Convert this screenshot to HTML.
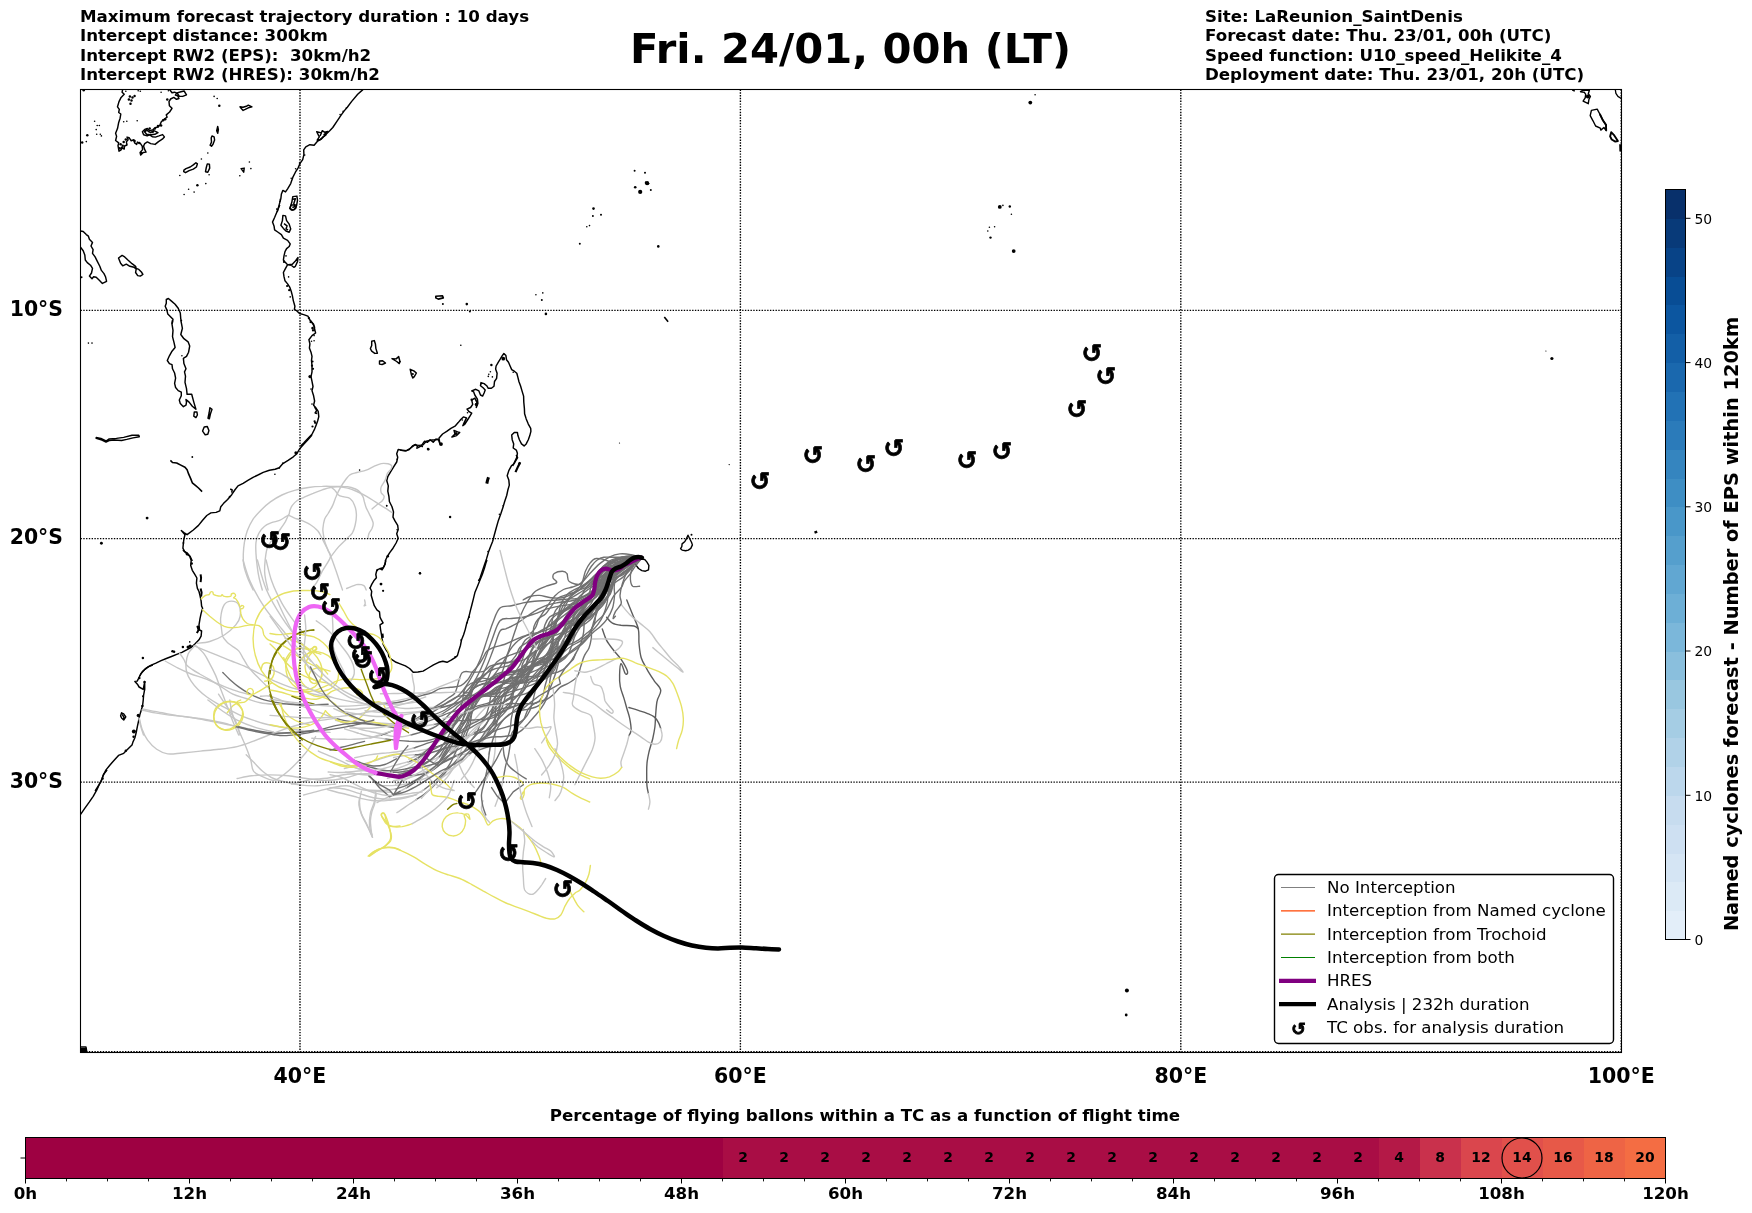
<!DOCTYPE html>
<html><head><meta charset="utf-8"><title>Trajectory forecast</title>
<style>html,body{margin:0;padding:0;background:#fff}svg{display:block;will-change:transform;transform:translateZ(0)}text{font-family:"DejaVu Sans", "Liberation Sans", sans-serif;fill:#000}.b{font-weight:bold}</style></head><body>
<svg width="1752" height="1213" viewBox="0 0 1752 1213">
<rect width="1752" height="1213" fill="#fff"/>
<text class="b" x="80" y="22.0" font-size="16.67" xml:space="preserve">Maximum forecast trajectory duration : 10 days</text>
<text class="b" x="80" y="41.3" font-size="16.67" xml:space="preserve">Intercept distance: 300km</text>
<text class="b" x="80" y="60.5" font-size="16.67" xml:space="preserve">Intercept RW2 (EPS):  30km/h2</text>
<text class="b" x="80" y="79.8" font-size="16.67" xml:space="preserve">Intercept RW2 (HRES): 30km/h2</text>
<text class="b" x="1205" y="22.0" font-size="16.67">Site: LaReunion_SaintDenis</text>
<text class="b" x="1205" y="41.3" font-size="16.67">Forecast date: Thu. 23/01, 00h (UTC)</text>
<text class="b" x="1205" y="60.5" font-size="16.67">Speed function: U10_speed_Helikite_4</text>
<text class="b" x="1205" y="79.8" font-size="16.67">Deployment date: Thu. 23/01, 20h (UTC)</text>
<text class="b" x="850.5" y="63" font-size="41.7" text-anchor="middle">Fri. 24/01, 00h (LT)</text>
<defs><clipPath id="mc"><rect x="80.5" y="89.5" width="1541.0" height="963.0"/></clipPath></defs>
<g clip-path="url(#mc)">
<g fill="none" stroke="#000" stroke-width="1.45" stroke-linejoin="round">
<path d="M122.7 89.3 L122.1 92.2 L124.2 94.3 L121.1 97.4 L119.0 101.6 L117.5 106.8 L119.3 109.4 L118.7 112.5 L120.8 114.0 L120.1 118.2 L118.7 122.4 L117.5 128.6 L115.6 133.3 L116.6 136.4 L115.6 140.5 L118.7 142.9 L118.0 145.7 L119.0 151.2 L121.1 149.9 L121.8 147.3 L124.2 149.1 L124.5 146.0 L127.0 145.0 L126.4 141.9 L128.1 139.8 L127.0 137.1 L129.1 137.7 L131.2 140.8 L133.9 139.8 L134.6 142.9 L136.7 144.4 L137.4 142.1 L140.5 143.7 L142.2 146.2 L142.6 149.6 L140.1 152.5 L140.7 155.1 L143.2 152.5 L146.0 152.1 L144.5 149.1 L143.6 146.0 L144.7 143.6 L147.4 141.9 L150.7 143.6 L155.1 144.4 L158.5 141.6 L162.3 139.2 L164.4 136.9 L162.6 134.6 L159.0 135.9 L155.4 137.1 L152.3 136.7 L149.7 134.8 L147.1 135.9 L143.6 134.8 L142.4 131.7 L144.7 129.4 L147.4 128.4 L149.7 130.9 L153.0 129.6 L155.7 127.5 L158.2 127.0 L160.1 124.6 L161.3 121.8 L164.4 119.0 L167.1 117.2 L166.3 114.9 L169.6 112.0 L172.0 108.3 L169.4 105.7 L169.0 101.6 L170.6 99.0 L173.8 97.4 L176.5 99.3 L179.0 98.5 L177.7 95.9 L175.4 95.1 L176.9 92.9 L181.0 91.7 L184.1 91.0 L186.5 94.8 L182.7 96.4 L179.3 96.2 L177.2 93.3 L174.6 92.2 L172.0 92.8 L169.4 89.3"/>
<path d="M240.0 106.8 L243.1 107.3 L246.3 106.3 L248.3 105.2 L252.0 106.8 L248.3 107.8 L245.2 109.4 L243.1 110.4 L241.1 108.3Z"/>
<path d="M217.7 126.5 L218.4 129.6 L217.7 133.3 L216.7 130.7Z"/>
<path d="M212.0 135.9 L214.1 136.9 L214.6 140.0 L213.0 144.2 L211.5 146.2 L210.1 145.2 L211.5 142.1 L211.2 137.9Z"/>
<path d="M183.9 170.1 L186.0 168.6 L190.2 167.0 L193.3 164.9 L195.9 162.7 L197.4 163.9 L196.4 167.0 L193.3 169.1 L189.1 170.6 L185.5 172.7 L183.7 171.7Z"/>
<path d="M207.3 163.9 L209.4 164.1 L209.7 168.1 L207.8 172.2 L205.5 171.7 L206.3 167.5Z"/>
<path d="M241.1 168.6 L244.2 168.1 L243.7 172.2Z"/>
<path d="M144.5 131.7 L146.6 129.6 L148.6 131.7 L150.7 132.7 L153.8 130.7 L155.9 131.7 L158.0 132.7 L154.9 134.3 L150.7 134.8 L146.6 134.3Z"/>
<circle cx="214.1" cy="96.4" r="0.81" fill="#000" stroke="none"/>
<circle cx="217.2" cy="98.5" r="0.81" fill="#000" stroke="none"/>
<circle cx="207.8" cy="153.0" r="0.81" fill="#000" stroke="none"/>
<circle cx="201.4" cy="159.0" r="0.81" fill="#000" stroke="none"/>
<circle cx="179.8" cy="175.5" r="0.81" fill="#000" stroke="none"/>
<circle cx="209.1" cy="174.8" r="0.81" fill="#000" stroke="none"/>
<circle cx="205.8" cy="183.6" r="0.81" fill="#000" stroke="none"/>
<circle cx="188.6" cy="189.3" r="0.81" fill="#000" stroke="none"/>
<circle cx="194.1" cy="192.1" r="0.81" fill="#000" stroke="none"/>
<circle cx="184.1" cy="194.5" r="0.81" fill="#000" stroke="none"/>
<circle cx="249.4" cy="162.0" r="0.81" fill="#000" stroke="none"/>
<circle cx="250.9" cy="168.6" r="0.81" fill="#000" stroke="none"/>
<circle cx="239.8" cy="175.8" r="0.81" fill="#000" stroke="none"/>
<circle cx="94.6" cy="121.3" r="0.81" fill="#000" stroke="none"/>
<circle cx="97.2" cy="125.5" r="0.81" fill="#000" stroke="none"/>
<circle cx="99.3" cy="125.5" r="0.81" fill="#000" stroke="none"/>
<circle cx="96.2" cy="129.6" r="0.81" fill="#000" stroke="none"/>
<circle cx="96.7" cy="134.3" r="0.81" fill="#000" stroke="none"/>
<circle cx="100.3" cy="134.3" r="0.81" fill="#000" stroke="none"/>
<circle cx="101.4" cy="135.9" r="0.81" fill="#000" stroke="none"/>
<circle cx="86.3" cy="141.6" r="0.81" fill="#000" stroke="none"/>
<circle cx="137.2" cy="120.8" r="0.81" fill="#000" stroke="none"/>
<circle cx="126.8" cy="121.3" r="0.81" fill="#000" stroke="none"/>
<circle cx="123.7" cy="121.8" r="0.81" fill="#000" stroke="none"/>
<circle cx="161.1" cy="92.2" r="0.81" fill="#000" stroke="none"/>
<circle cx="168.4" cy="90.7" r="0.81" fill="#000" stroke="none"/>
<circle cx="140.3" cy="91.2" r="0.81" fill="#000" stroke="none"/>
<circle cx="138.2" cy="90.7" r="0.81" fill="#000" stroke="none"/>
<circle cx="125.8" cy="91.2" r="0.81" fill="#000" stroke="none"/>
<circle cx="219.3" cy="105.7" r="1.24" fill="#000" stroke="none"/>
<circle cx="197.4" cy="185.2" r="1.24" fill="#000" stroke="none"/>
<circle cx="87.3" cy="135.3" r="1.24" fill="#000" stroke="none"/>
<circle cx="82.2" cy="142.6" r="1.24" fill="#000" stroke="none"/>
<circle cx="83.7" cy="90.2" r="1.24" fill="#000" stroke="none"/>
<circle cx="167.3" cy="99.5" r="1.24" fill="#000" stroke="none"/>
<circle cx="129.9" cy="96.4" r="1.24" fill="#000" stroke="none"/>
<circle cx="132.5" cy="97.4" r="1.24" fill="#000" stroke="none"/>
<circle cx="134.6" cy="95.9" r="1.24" fill="#000" stroke="none"/>
<circle cx="128.9" cy="99.5" r="1.24" fill="#000" stroke="none"/>
<circle cx="130.5" cy="103.7" r="1.24" fill="#000" stroke="none"/>
<circle cx="131.5" cy="100.5" r="1.24" fill="#000" stroke="none"/>
<circle cx="122.7" cy="145.7" r="1.24" fill="#000" stroke="none"/>
<circle cx="120.6" cy="144.2" r="1.24" fill="#000" stroke="none"/>
<circle cx="123.7" cy="142.1" r="1.24" fill="#000" stroke="none"/>
<circle cx="121.6" cy="148.3" r="1.24" fill="#000" stroke="none"/>
<circle cx="119.5" cy="148.3" r="1.24" fill="#000" stroke="none"/>
<circle cx="125.8" cy="139.5" r="1.24" fill="#000" stroke="none"/>
<circle cx="134.6" cy="141.0" r="1.24" fill="#000" stroke="none"/>
<circle cx="139.3" cy="143.1" r="1.24" fill="#000" stroke="none"/>
<circle cx="141.4" cy="153.0" r="1.24" fill="#000" stroke="none"/>
<circle cx="145.5" cy="130.7" r="1.24" fill="#000" stroke="none"/>
<circle cx="149.7" cy="128.6" r="1.24" fill="#000" stroke="none"/>
<circle cx="154.9" cy="128.6" r="1.24" fill="#000" stroke="none"/>
<circle cx="152.8" cy="131.7" r="1.24" fill="#000" stroke="none"/>
<circle cx="163.2" cy="120.3" r="1.24" fill="#000" stroke="none"/>
<circle cx="165.2" cy="119.2" r="1.24" fill="#000" stroke="none"/>
<circle cx="161.1" cy="125.5" r="1.24" fill="#000" stroke="none"/>
<circle cx="158.0" cy="126.0" r="1.24" fill="#000" stroke="none"/>
<path d="M362.9 89.6 L357.7 94.3 L351.5 101.6 L347.3 107.3 L344.2 110.9 L341.1 115.1 L336.9 121.3 L332.8 127.5 L329.7 130.7 L325.5 134.8 L321.4 139.0 L317.7 141.0 L314.1 145.2 L309.9 144.7 L305.8 146.8 L303.7 149.9 L303.9 154.6 L302.7 159.7 L300.1 163.4 L298.0 168.1 L295.4 172.2 L292.8 177.4 L290.7 183.6 L287.6 188.8 L285.5 191.9 L282.9 190.4 L281.4 194.0 L280.9 198.2 L279.3 204.4 L277.2 212.0"/>
<path d="M316.7 131.7 L321.4 132.9 L320.3 135.6 L322.2 130.7 L324.5 132.2 L327.8 131.5 L324.0 134.6 L326.0 134.8 L322.4 137.4 L320.3 139.5 L317.2 140.2 L319.3 136.9Z"/>
<path d="M292.8 196.6 L296.9 196.1 L297.5 200.3 L296.6 205.4 L294.4 209.6 L291.2 210.1 L290.2 207.5 L291.8 202.3Z"/>
<path d="M292.8 199.2 L295.4 198.7 L293.8 203.4 L294.9 206.5 L292.3 207.5"/>
<circle cx="340.1" cy="114.6" r="0.81" fill="#000" stroke="none"/>
<circle cx="343.2" cy="111.4" r="0.81" fill="#000" stroke="none"/>
<circle cx="346.3" cy="108.0" r="0.81" fill="#000" stroke="none"/>
<circle cx="304.7" cy="155.1" r="0.81" fill="#000" stroke="none"/>
<circle cx="299.5" cy="163.1" r="0.81" fill="#000" stroke="none"/>
<circle cx="295.6" cy="168.8" r="0.81" fill="#000" stroke="none"/>
<circle cx="291.2" cy="178.2" r="0.81" fill="#000" stroke="none"/>
<circle cx="280.3" cy="199.2" r="0.81" fill="#000" stroke="none"/>
<circle cx="279.8" cy="201.3" r="0.81" fill="#000" stroke="none"/>
<circle cx="276.7" cy="209.1" r="0.81" fill="#000" stroke="none"/>
<path d="M80.5 231.0 L83.2 231.5 L86.3 234.6 L88.4 236.2 L89.4 239.3 L92.5 242.4 L91.0 246.0 L93.1 249.7 L92.5 253.3 L95.1 256.9 L97.2 261.1 L99.8 266.3 L101.4 270.4 L104.0 273.6 L105.5 276.7 L106.6 281.3 L102.4 283.4 L99.3 280.3 L96.2 277.2 L93.6 276.7 L92.0 278.7 L89.4 276.1 L91.5 273.0 L92.5 268.4 L90.5 265.2 L87.3 262.6 L85.3 260.0 L84.8 254.9 L83.2 250.7 L80.5 247.1"/>
<path d="M118.5 258.0 L122.1 255.4 L124.7 256.9 L127.9 260.0 L132.0 263.7 L135.6 266.3 L136.2 268.4 L138.8 269.4 L141.4 272.0 L142.9 274.4 L140.3 276.1 L137.7 275.6 L135.6 272.5 L136.2 268.9 L134.1 267.3 L129.9 266.3 L126.3 264.2 L122.7 265.8 L120.6 263.2Z"/>
<path d="M173.0 321.3 L172.0 323.4 L173.0 319.3 L171.0 317.2 L167.8 314.1 L166.8 309.9 L165.2 306.3 L166.3 303.2 L166.3 299.5 L168.4 298.5 L171.5 301.1 L175.1 304.2 L178.2 308.3 L180.3 313.0 L180.8 319.3 L181.7 321.3"/>
<circle cx="81.6" cy="277.2" r="0.93" fill="#000" stroke="none"/>
<path d="M172.5 320.0 L172.0 324.2 L173.0 330.4 L172.5 336.6 L174.1 342.9 L175.1 347.5 L172.0 351.2 L169.4 355.8 L167.3 360.5 L169.4 363.6 L172.0 364.7 L172.5 368.8 L174.6 373.0 L175.6 378.2 L174.6 383.4 L175.6 387.5 L178.2 390.6 L181.3 392.2 L181.3 395.8 L179.3 400.0 L180.3 403.6 L183.4 406.7 L186.0 405.2 L186.5 402.1 L186.0 399.5 L189.1 402.1 L192.3 406.2 L195.9 409.3 L193.8 402.1 L191.7 394.3 L187.1 394.3 L186.5 388.6 L185.0 382.3 L185.5 376.1 L184.5 371.9 L186.0 368.8 L183.9 363.6 L183.4 358.4 L186.5 356.4 L188.6 352.2 L189.7 346.0 L188.1 341.8 L183.9 338.7 L180.8 334.5 L182.4 328.3 L180.8 320.0"/>
<path d="M194.3 411.9 L196.9 411.9 L197.4 415.0 L195.9 417.6 L193.8 416.1Z"/>
<path d="M209.9 407.8 L212.0 409.3 L210.4 414.0 L209.4 418.7 L208.0 418.2 L209.1 413.0Z"/>
<path d="M204.2 427.0 L207.3 426.5 L208.9 430.6 L207.8 434.3 L205.2 434.8 L202.6 431.1Z"/>
<path d="M96.2 437.4 L100.9 438.4 L106.0 441.0 L109.2 438.9 L116.4 438.4 L123.7 437.4 L132.0 435.3 L138.8 435.3 L139.3 436.8 L133.0 437.9 L126.8 439.4 L121.6 440.5 L114.4 440.0 L109.2 440.5 L106.0 442.0 L101.9 440.0 L96.2 438.4Z"/>
<circle cx="88.4" cy="343.1" r="0.8" fill="#000" stroke="none"/>
<circle cx="92.0" cy="343.1" r="0.8" fill="#000" stroke="none"/>
<circle cx="181.9" cy="355.8" r="0.8" fill="#000" stroke="none"/>
<path d="M279.8 205.0 L277.2 211.2 L274.6 217.5 L272.5 222.1 L274.1 226.3 L274.6 229.9 L277.7 232.0 L281.4 234.6 L283.4 238.2 L287.6 240.3 L290.2 243.9 L289.2 246.5 L286.6 248.6 L285.0 251.7 L284.0 255.9 L283.4 260.0 L285.5 262.6 L287.6 264.7 L285.0 269.4 L283.4 272.5 L284.0 276.7 L285.0 280.8 L287.6 283.9 L289.7 287.1 L291.2 291.2 L292.3 295.4 L293.3 300.6 L294.9 306.3 L294.4 309.4 L296.9 310.9 L299.5 313.5 L303.7 314.6 L307.9 316.1 L309.9 319.8 L312.5 323.4 L314.6 327.0 L314.1 331.0"/>
<path d="M282.9 215.4 L285.5 215.9 L286.6 220.6 L289.2 224.2 L290.7 228.9 L289.2 232.2 L286.0 231.0 L283.4 228.4 L280.9 225.3 L282.4 220.6Z"/>
<path d="M284.0 223.7 L287.1 225.8 L286.0 228.9 L288.1 229.9"/>
<path d="M291.2 205.0 L296.4 205.0 L295.9 208.1 L292.8 210.2 L289.7 208.6Z"/>
<path d="M288.1 264.7 L292.3 264.2 L294.9 261.6 L298.0 257.5 L297.5 261.6 L295.4 266.3 L293.8 267.3 L291.2 265.2Z"/>
<circle cx="288.6" cy="276.9" r="0.8" fill="#000" stroke="none"/>
<circle cx="286.0" cy="255.9" r="0.8" fill="#000" stroke="none"/>
<circle cx="290.2" cy="296.9" r="0.8" fill="#000" stroke="none"/>
<circle cx="284.0" cy="261.9" r="1.12" fill="#000" stroke="none"/>
<circle cx="287.1" cy="286.0" r="1.12" fill="#000" stroke="none"/>
<circle cx="289.2" cy="290.2" r="1.12" fill="#000" stroke="none"/>
<circle cx="312.5" cy="328.6" r="1.12" fill="#000" stroke="none"/>
<circle cx="308.9" cy="318.2" r="1.12" fill="#000" stroke="none"/>
<path d="M309.9 320.0 L313.6 324.2 L314.6 329.3 L315.6 333.0 L312.0 335.6 L308.9 339.7 L309.9 343.9 L309.4 348.0 L311.0 352.2 L312.0 356.4 L311.5 360.5 L312.0 365.7 L312.0 371.9 L311.0 376.6 L312.0 381.3 L313.0 386.5 L312.0 390.6 L313.6 395.8 L314.6 401.0 L313.6 405.2 L316.2 408.3 L318.2 411.4 L318.8 416.6 L317.7 420.7 L316.2 424.9 L314.6 429.1 L312.0 434.3 L307.9 438.4 L303.7 443.1 L300.6 446.0"/>
<path d="M371.7 341.3 L374.3 340.6 L375.4 343.9 L375.9 348.6 L377.4 353.2 L374.8 353.4 L371.7 351.2 L370.4 348.6 L371.7 345.4Z"/>
<path d="M379.5 361.0 L382.6 360.7 L385.5 363.1 L382.1 364.5 L379.5 364.1Z"/>
<path d="M392.0 358.6 L396.1 358.9 L398.7 356.6 L399.8 361.0 L399.3 363.6 L396.7 361.5Z"/>
<path d="M410.2 369.3 L413.8 370.9 L416.4 373.0 L414.3 376.6 L412.8 378.0 L411.5 375.0Z"/>
<path d="M314.6 407.2 L316.7 410.4 L315.1 413.0 L317.2 413.5"/>
<circle cx="314.1" cy="340.8" r="0.8" fill="#000" stroke="none"/>
<circle cx="311.5" cy="341.3" r="0.8" fill="#000" stroke="none"/>
<circle cx="314.1" cy="335.6" r="0.8" fill="#000" stroke="none"/>
<circle cx="311.0" cy="389.1" r="0.8" fill="#000" stroke="none"/>
<circle cx="312.0" cy="404.1" r="0.8" fill="#000" stroke="none"/>
<circle cx="310.5" cy="322.1" r="1.12" fill="#000" stroke="none"/>
<circle cx="312.5" cy="327.8" r="1.12" fill="#000" stroke="none"/>
<circle cx="313.0" cy="330.4" r="1.12" fill="#000" stroke="none"/>
<circle cx="312.5" cy="361.5" r="1.12" fill="#000" stroke="none"/>
<circle cx="312.0" cy="365.7" r="1.12" fill="#000" stroke="none"/>
<circle cx="313.0" cy="368.8" r="1.12" fill="#000" stroke="none"/>
<circle cx="314.6" cy="421.3" r="1.12" fill="#000" stroke="none"/>
<circle cx="312.5" cy="426.5" r="1.12" fill="#000" stroke="none"/>
<circle cx="315.1" cy="422.8" r="1.12" fill="#000" stroke="none"/>
<circle cx="412.8" cy="374.0" r="1.12" fill="#000" stroke="none"/>
<circle cx="309.9" cy="376.6" r="1.55" fill="#000" stroke="none"/>
<path d="M170.4 460.4 L172.5 462.5 L176.7 463.0 L180.8 465.1 L185.0 467.2 L187.1 469.8 L188.6 473.9 L190.7 478.6 L192.3 482.8 L195.4 485.4 L198.5 488.0 L202.1 491.6" stroke-width="1.6"/>
<path d="M258.0 475.0 L253.5 477.1 L248.3 480.2 L243.1 483.3 L238.0 485.9 L234.8 490.0 L231.7 494.7 L227.6 499.4 L223.4 503.6 L220.8 506.7 L219.8 510.8 L216.1 512.4 L210.9 512.9 L206.8 515.5 L202.6 520.2 L198.5 525.4 L193.3 530.0 L187.1 534.7 L183.9 532.6 L181.3 530.6 L185.0 534.7 L183.9 538.9 L183.4 543.0 L182.9 548.2 L184.5 551.3 L187.6 553.4 L190.2 556.5 L192.3 561.0"/>
<path d="M230.2 489.0 L232.2 490.0 L231.7 492.6"/>
<circle cx="192.3" cy="457.0" r="0.93" fill="#000" stroke="none"/>
<circle cx="229.6" cy="496.8" r="0.93" fill="#000" stroke="none"/>
<circle cx="183.4" cy="543.0" r="0.93" fill="#000" stroke="none"/>
<circle cx="187.1" cy="553.4" r="0.93" fill="#000" stroke="none"/>
<circle cx="147.1" cy="518.1" r="1.43" fill="#000" stroke="none"/>
<circle cx="101.4" cy="543.2" r="1.43" fill="#000" stroke="none"/>
<path d="M258.0 475.0 L263.2 472.4 L269.4 470.3 L275.1 469.3 L279.3 467.7 L282.9 463.6 L288.1 460.4 L293.3 456.8 L296.9 453.7 L299.5 449.0 L303.7 444.3 L307.9 439.7 L312.0 435.0"/>
<path d="M438.0 439.2 L434.6 439.7 L430.4 440.2 L426.3 441.2 L423.1 444.9 L419.0 445.4 L414.8 444.9 L410.7 448.0 L406.5 450.6 L402.4 450.1 L398.2 449.5 L396.7 453.7 L397.7 457.3 L396.7 462.0 L394.1 466.2 L390.9 471.4 L387.8 476.5 L386.8 480.7 L388.3 485.9 L387.8 491.1 L388.9 496.3 L389.4 501.5 L392.0 506.7 L393.5 511.9 L393.0 517.1 L395.1 521.2 L397.7 525.4 L398.2 529.5 L396.7 533.7 L398.2 538.3 L396.1 543.0 L393.0 548.2 L389.9 552.4 L387.3 556.5 L385.2 561.0"/>
<circle cx="274.9" cy="474.3" r="0.81" fill="#000" stroke="none"/>
<circle cx="282.9" cy="463.0" r="0.81" fill="#000" stroke="none"/>
<circle cx="279.3" cy="468.0" r="0.81" fill="#000" stroke="none"/>
<circle cx="359.6" cy="470.1" r="0.81" fill="#000" stroke="none"/>
<circle cx="416.9" cy="448.0" r="0.81" fill="#000" stroke="none"/>
<circle cx="422.1" cy="446.4" r="0.81" fill="#000" stroke="none"/>
<circle cx="386.6" cy="505.6" r="0.81" fill="#000" stroke="none"/>
<circle cx="387.6" cy="556.3" r="0.81" fill="#000" stroke="none"/>
<circle cx="428.3" cy="449.3" r="1.24" fill="#000" stroke="none"/>
<circle cx="295.9" cy="452.7" r="1.55" fill="#000" stroke="none"/>
<path d="M182.9 550.0 L186.0 553.1 L189.7 556.2 L191.2 560.4 L190.7 565.6 L192.3 570.3 L194.8 574.4 L196.9 578.0 L196.4 583.2 L197.4 588.4 L199.0 591.5 L200.0 595.7 L201.1 600.9 L201.6 606.1 L202.6 608.2 L201.1 613.4 L200.0 618.6 L199.0 624.8 L199.5 630.0 L201.6 631.0 L201.1 636.2 L199.0 639.8 L195.4 643.5 L191.7 647.1 L187.1 649.7 L181.9 652.3 L176.7 654.4 L171.5 656.5 L166.3 658.5 L161.1 660.6 L155.9 663.2 L150.7 665.3 L146.6 667.9 L142.4 671.5 L139.8 676.0"/>
<path d="M200.6 574.4 L201.1 578.0 L200.6 582.2" stroke-width="2"/>
<path d="M200.6 588.4 L201.6 592.6 L201.1 596.7" stroke-width="2"/>
<path d="M197.4 625.8 L198.5 630.0 L196.9 633.1" stroke-width="2"/>
<circle cx="187.1" cy="554.2" r="1.24" fill="#000" stroke="none"/>
<circle cx="191.7" cy="563.5" r="1.24" fill="#000" stroke="none"/>
<circle cx="198.0" cy="626.9" r="1.24" fill="#000" stroke="none"/>
<circle cx="172.5" cy="651.3" r="1.24" fill="#000" stroke="none"/>
<circle cx="174.1" cy="651.8" r="1.24" fill="#000" stroke="none"/>
<circle cx="142.9" cy="658.0" r="1.24" fill="#000" stroke="none"/>
<circle cx="182.9" cy="647.1" r="1.24" fill="#000" stroke="none"/>
<circle cx="190.2" cy="646.1" r="1.61" fill="#000" stroke="none"/>
<circle cx="188.1" cy="647.1" r="1.61" fill="#000" stroke="none"/>
<circle cx="189.7" cy="641.9" r="0.8" fill="#000" stroke="none"/>
<path d="M152.8 665.0 L148.6 666.6 L144.5 669.7 L140.8 673.8 L138.8 678.0 L137.2 681.1 L134.9 681.4 L137.4 684.2 L139.1 687.0 L143.2 689.4 L144.0 685.3 L144.7 681.6 L144.7 689.4 L143.6 695.1 L143.2 700.3 L142.6 705.5 L141.4 709.7 L139.8 714.9 L138.8 720.0 L137.4 726.3 L136.2 732.5 L134.9 737.7 L133.0 741.9 L132.0 745.0 L127.9 749.1 L123.7 753.3 L118.5 755.4 L114.4 760.0 L110.2 764.7 L106.0 769.9 L102.9 776.1 L101.4 780.8 L98.3 786.0 L95.1 791.0"/>
<path d="M121.6 712.8 L123.7 713.8 L125.8 716.9 L123.7 720.0 L121.6 718.0 L120.6 715.9Z"/>
<path d="M122.1 714.3 L124.2 717.5 L123.2 719.0"/>
<circle cx="139.3" cy="678.0" r="1.24" fill="#000" stroke="none"/>
<circle cx="144.5" cy="682.1" r="1.24" fill="#000" stroke="none"/>
<circle cx="142.4" cy="706.0" r="1.24" fill="#000" stroke="none"/>
<circle cx="133.6" cy="736.7" r="1.24" fill="#000" stroke="none"/>
<circle cx="125.8" cy="750.7" r="1.24" fill="#000" stroke="none"/>
<circle cx="142.9" cy="696.2" r="0.93" fill="#000" stroke="none"/>
<circle cx="102.7" cy="778.2" r="0.93" fill="#000" stroke="none"/>
<circle cx="138.2" cy="715.4" r="1.55" fill="#000" stroke="none"/>
<circle cx="133.9" cy="731.5" r="2.05" fill="#000" stroke="none"/>
<path d="M107.1 770.0 L103.6 774.2 L101.9 779.0 L99.5 783.9 L96.7 790.1 L93.2 796.3 L89.4 801.9 L84.9 808.1 L80.6 814.3"/>
<circle cx="102.9" cy="778.9" r="0.81" fill="#000" stroke="none"/>
<path d="M400.0 450.1 L405.2 451.1 L409.3 449.6 L412.5 445.9 L415.6 444.4 L418.2 447.5 L421.3 445.9 L424.4 441.3 L427.5 442.3 L430.1 439.7 L433.2 442.3 L435.8 439.2 L438.4 439.7 L440.0 443.9 L438.9 438.2 L442.6 434.0 L446.7 431.4 L450.9 428.3 L455.0 426.2 L458.2 422.6 L460.8 419.5 L463.4 416.9 L466.5 417.9 L464.4 422.1 L462.8 425.7 L464.9 424.1 L467.5 420.0 L470.1 415.8 L471.7 413.2 L469.1 411.7 L467.0 409.1 L470.6 407.5 L472.7 404.4 L471.7 400.2 L474.8 398.2 L476.9 402.3 L476.3 407.5 L477.9 403.4 L477.4 399.2 L474.8 395.0 L473.7 391.9 L471.7 390.9 L475.8 389.3 L478.9 390.9 L480.5 395.0 L482.6 396.1 L484.1 393.0 L485.2 389.9 L483.1 387.8 L480.5 385.7 L481.0 382.6 L484.1 383.6 L486.7 385.7 L488.3 388.3 L491.4 388.3 L494.0 386.2 L494.5 381.5 L496.6 378.4 L497.1 373.2 L495.6 369.1 L496.1 366.0 L498.2 362.3 L500.2 359.2 L502.3 355.6 L503.9 353.5 L505.9 355.6 L506.5 359.7 L508.5 362.3 L510.1 366.0 L511.7 369.6 L514.3 371.2 L516.8 373.2 L517.9 377.4 L518.9 381.5 L520.5 385.7 L522.0 390.9 L523.6 396.1 L523.8 402.3 L524.4 408.6 L524.6 413.7 L526.2 418.9 L528.3 424.1 L530.7 428.3 L530.9 431.4 L529.8 435.6 L528.3 439.7 L526.2 443.9 L524.1 445.9 L521.5 443.9 L519.4 439.7 L517.9 435.6 L517.4 432.4 L514.3 432.4 L511.7 435.0 L512.2 439.7 L513.7 443.9 L513.2 448.0 L516.3 450.1 L517.4 453.2 L516.8 457.4 L514.8 461.5 L512.7 466.0"/>
<path d="M451.9 437.1 L455.0 434.0 L454.0 430.4 L457.6 431.9 L459.7 432.4 L456.6 435.6Z"/>
<circle cx="503.3" cy="358.7" r="1.86" fill="#000" stroke="none"/>
<circle cx="441.0" cy="444.1" r="1.86" fill="#000" stroke="none"/>
<circle cx="476.3" cy="404.4" r="1.55" fill="#000" stroke="none"/>
<circle cx="456.1" cy="433.5" r="1.55" fill="#000" stroke="none"/>
<circle cx="491.4" cy="364.9" r="1.24" fill="#000" stroke="none"/>
<circle cx="471.7" cy="399.7" r="1.24" fill="#000" stroke="none"/>
<circle cx="428.0" cy="449.1" r="1.24" fill="#000" stroke="none"/>
<circle cx="519.4" cy="463.6" r="1.24" fill="#000" stroke="none"/>
<circle cx="490.4" cy="371.7" r="0.81" fill="#000" stroke="none"/>
<circle cx="488.8" cy="374.3" r="0.81" fill="#000" stroke="none"/>
<circle cx="488.3" cy="376.4" r="0.81" fill="#000" stroke="none"/>
<circle cx="492.4" cy="376.9" r="0.81" fill="#000" stroke="none"/>
<circle cx="481.5" cy="383.6" r="0.81" fill="#000" stroke="none"/>
<circle cx="467.5" cy="412.7" r="0.81" fill="#000" stroke="none"/>
<circle cx="462.3" cy="420.0" r="0.81" fill="#000" stroke="none"/>
<circle cx="417.1" cy="448.0" r="0.81" fill="#000" stroke="none"/>
<circle cx="422.3" cy="446.5" r="0.81" fill="#000" stroke="none"/>
<circle cx="513.2" cy="372.2" r="0.81" fill="#000" stroke="none"/>
<circle cx="460.8" cy="345.2" r="0.81" fill="#000" stroke="none"/>
<circle cx="400.2" cy="361.8" r="0.81" fill="#000" stroke="none"/>
<path d="M385.7 560.9 L384.2 566.1 L382.1 569.8 L380.0 568.7"/>
<path d="M516.1 455.0 L517.6 457.6 L515.5 461.2 L514.0 463.8 L511.4 465.9 L508.8 470.6 L507.2 475.8 L508.8 479.9 L509.3 485.1 L507.8 490.3 L506.7 495.5 L504.6 501.7 L503.1 506.9 L501.0 513.2 L498.4 520.4 L496.3 527.7 L494.3 535.0 L492.7 541.2 L490.6 546.4 L488.5 552.1 L486.5 558.9 L484.4 565.1 L482.3 571.3 L480.2 577.6 L478.7 581.0"/>
<path d="M520.2 462.3 L518.1 466.4 L515.5 472.1" stroke-width="2.2"/>
<path d="M488.5 477.3 L487.5 480.4 L486.8 483.6" stroke-width="3"/>
<circle cx="450.1" cy="517.1" r="1.24" fill="#000" stroke="none"/>
<circle cx="420.0" cy="573.2" r="1.24" fill="#000" stroke="none"/>
<circle cx="387.8" cy="556.3" r="1.24" fill="#000" stroke="none"/>
<circle cx="386.8" cy="505.9" r="0.81" fill="#000" stroke="none"/>
<circle cx="503.1" cy="505.9" r="0.81" fill="#000" stroke="none"/>
<circle cx="499.4" cy="514.2" r="0.81" fill="#000" stroke="none"/>
<circle cx="488.0" cy="551.6" r="0.81" fill="#000" stroke="none"/>
<circle cx="397.1" cy="459.2" r="0.81" fill="#000" stroke="none"/>
<circle cx="397.1" cy="529.8" r="0.81" fill="#000" stroke="none"/>
<path d="M385.7 560.0 L385.2 564.2 L383.1 567.8 L379.5 568.8 L376.9 569.9 L375.8 574.5 L376.4 577.7 L373.8 580.8 L371.7 584.4 L370.1 588.0 L371.7 591.2 L371.2 595.3 L372.7 600.5 L374.3 605.7 L376.9 609.9 L379.5 611.9 L380.0 617.1 L381.5 620.2 L383.1 622.8 L380.0 624.9 L380.5 629.1 L381.5 634.8 L382.1 638.9 L383.1 644.1 L385.7 649.3 L388.3 653.0 L388.8 656.6 L391.9 659.7 L396.1 662.3 L400.2 663.9 L405.4 665.9 L409.6 668.5 L413.2 672.2 L417.9 672.0 L423.1 671.1 L428.3 668.0 L433.5 664.9 L438.7 662.3 L442.8 661.3 L447.0 662.3 L451.1 660.2 L454.3 658.2 L457.4 655.6 L458.9 650.4 L460.5 645.2 L461.5 640.0 L463.6 634.8 L465.2 629.6 L466.7 623.4 L468.8 617.1 L470.3 610.9 L471.9 604.7 L473.5 598.4 L475.0 592.2 L477.6 586.0 L479.7 580.8 L482.3 574.5 L484.4 568.3 L485.9 563.1 L487.0 560.0"/>
<circle cx="381.0" cy="584.1" r="1.43" fill="#000" stroke="none"/>
<circle cx="383.1" cy="590.8" r="1.12" fill="#000" stroke="none"/>
<circle cx="420.0" cy="573.3" r="1.12" fill="#000" stroke="none"/>
<circle cx="455.3" cy="657.1" r="1.12" fill="#000" stroke="none"/>
<path d="M382.4 633.7 L382.8 637.9" stroke-width="2.2"/>
<circle cx="370.1" cy="588.0" r="0.81" fill="#000" stroke="none"/>
<circle cx="478.7" cy="580.3" r="0.81" fill="#000" stroke="none"/>
<circle cx="469.3" cy="617.1" r="0.81" fill="#000" stroke="none"/>
<circle cx="467.2" cy="622.8" r="0.81" fill="#000" stroke="none"/>
<circle cx="461.0" cy="640.0" r="0.81" fill="#000" stroke="none"/>
<circle cx="377.4" cy="570.4" r="0.81" fill="#000" stroke="none"/>
<path d="M435.8 296.2 L442.5 295.8 L443.3 297.9 L438.3 299.1 L435.8 297.9Z" stroke-width="1.6"/>
<path d="M664.3 317.0 L668.1 321.8" stroke-width="1.6"/>
<path d="M645.0 182.0 L649.2 184.0" stroke-width="1.6"/>
<circle cx="634.6" cy="170.8" r="1" fill="#000" stroke="none"/>
<circle cx="645.0" cy="172.8" r="1" fill="#000" stroke="none"/>
<circle cx="650.8" cy="189.9" r="1" fill="#000" stroke="none"/>
<circle cx="592.9" cy="216.0" r="1" fill="#000" stroke="none"/>
<circle cx="601.0" cy="214.8" r="1" fill="#000" stroke="none"/>
<circle cx="579.8" cy="243.7" r="1" fill="#000" stroke="none"/>
<circle cx="442.9" cy="304.1" r="1" fill="#000" stroke="none"/>
<circle cx="469.9" cy="311.6" r="1" fill="#000" stroke="none"/>
<circle cx="541.8" cy="300.0" r="1" fill="#000" stroke="none"/>
<circle cx="589.5" cy="225.6" r="0.8" fill="#000" stroke="none"/>
<circle cx="586.8" cy="226.8" r="0.8" fill="#000" stroke="none"/>
<circle cx="535.9" cy="294.8" r="0.8" fill="#000" stroke="none"/>
<circle cx="542.8" cy="292.9" r="0.8" fill="#000" stroke="none"/>
<circle cx="635.2" cy="187.2" r="1.3" fill="#000" stroke="none"/>
<circle cx="593.5" cy="208.6" r="1.3" fill="#000" stroke="none"/>
<circle cx="658.3" cy="246.4" r="1.3" fill="#000" stroke="none"/>
<circle cx="466.8" cy="304.1" r="1.3" fill="#000" stroke="none"/>
<circle cx="545.9" cy="313.9" r="1.3" fill="#000" stroke="none"/>
<circle cx="640.2" cy="191.9" r="2.1" fill="#000" stroke="none"/>
<circle cx="647.1" cy="183.2" r="2.1" fill="#000" stroke="none"/>
<circle cx="1035.1" cy="94.7" r="0.8" fill="#000" stroke="none"/>
<circle cx="1002.9" cy="205.4" r="0.8" fill="#000" stroke="none"/>
<circle cx="1011.4" cy="214.2" r="0.8" fill="#000" stroke="none"/>
<circle cx="989.4" cy="227.3" r="0.8" fill="#000" stroke="none"/>
<circle cx="994.6" cy="226.8" r="0.8" fill="#000" stroke="none"/>
<circle cx="987.8" cy="231.0" r="0.8" fill="#000" stroke="none"/>
<circle cx="1009.8" cy="206.5" r="1.2" fill="#000" stroke="none"/>
<circle cx="990.5" cy="237.6" r="1.2" fill="#000" stroke="none"/>
<circle cx="1030.3" cy="102.6" r="1.9" fill="#000" stroke="none"/>
<circle cx="999.8" cy="206.9" r="1.9" fill="#000" stroke="none"/>
<circle cx="1013.7" cy="251.1" r="1.9" fill="#000" stroke="none"/>
<path d="M1583.1 90.2 L1589.4 90.2 L1588.3 93.8 L1590.4 96.4 L1588.9 99.5 L1588.3 103.7 L1583.1 101.1 L1585.2 97.9 L1585.7 94.3 L1584.2 92.2 L1580.5 91.7Z" stroke-width="1.4"/>
<path d="M1572.2 90.2 L1574.8 91.0" stroke-width="1.4"/>
<path d="M1591.4 110.4 L1597.2 109.1 L1599.8 114.0 L1602.9 120.3 L1606.0 124.9 L1606.2 130.7 L1603.9 127.5 L1600.8 130.1 L1600.3 128.1 L1595.6 126.0 L1593.0 120.8 L1590.2 115.6Z" stroke-width="1.4"/>
<path d="M1611.2 132.2 L1613.8 134.8 L1617.9 141.0 L1615.3 141.6 L1611.7 139.5 L1610.1 136.4Z" stroke-width="1.9"/>
<path d="M1599.8 114.0 L1602.9 120.3 L1606.0 124.9 L1606.2 130.7" stroke-width="1.9"/>
<path d="M1620.3 144.2 L1620.5 151.4" stroke-width="2.2"/>
<path d="M1615.3 89.6 L1615.9 93.3 L1617.9 96.4 L1621.6 98.7" stroke-width="1.3"/>
<circle cx="1587.8" cy="96.4" r="2" fill="#000" stroke="none"/>
<circle cx="1551.9" cy="358.5" r="1.6" fill="#000" stroke="none"/>
<circle cx="1545.9" cy="351.0" r="0.6" fill="#000" stroke="none"/>
<circle cx="619.5" cy="443.0" r="0.6" fill="#000" stroke="none"/>
<circle cx="729.2" cy="464.6" r="0.7" fill="#000" stroke="none"/>
<path d="M814.5 532.6 L817.2 531.6" stroke-width="2.6"/>
<circle cx="1126.9" cy="990.6" r="2" fill="#000" stroke="none"/>
<circle cx="1126.2" cy="1015.0" r="1.4" fill="#000" stroke="none"/>
<path d="M80.0 1047.0 L86.0 1047.0 L87.0 1053.0 L80.0 1053.0Z"/>
<path d="M81.0 1050.0 L86.0 1050.0" stroke-width="4"/>
<path d="M688.0 535.2 L689.7 538.7 L691.5 542.2 L692.4 544.9 L690.8 548.4 L688.3 550.1 L685.6 550.8 L682.1 550.1 L680.6 548.7 L681.8 546.7 L682.1 543.9 L684.9 541.5 L686.6 538.4Z" stroke-width="1.4"/>
<path d="M641.6 559.1 L644.7 559.5 L646.8 561.9 L648.9 565.4 L648.5 569.9 L645.4 571.2 L641.9 570.6 L638.5 568.5 L636.4 565.7 L635.4 562.9 L637.1 560.9Z" stroke-width="1.4"/>
<circle cx="691.5" cy="534.8" r="1" fill="#000" stroke="none"/>
</g>
<g fill="none" stroke-linecap="round" stroke-linejoin="round">
<path d="M641.5 558.1 C640.1 558.7 635.9 560.2 633.4 561.8 C630.9 563.4 628.8 566.0 626.5 567.8 C624.2 569.6 621.6 571.0 619.4 572.6 C617.2 574.2 615.0 575.4 613.1 577.1 C611.2 578.8 609.9 580.6 607.9 582.6 C605.9 584.6 603.6 586.8 601.3 588.9 C599.0 591.0 596.1 592.9 594.0 595.0 C591.9 597.1 590.2 599.5 588.4 601.8 C586.5 604.1 584.7 606.5 582.9 608.9 C581.1 611.3 578.9 613.5 577.6 616.3 C576.3 619.1 575.9 622.5 575.3 625.8 C574.6 629.1 574.8 632.9 573.7 635.9 C572.6 638.9 570.7 641.2 568.9 643.7 C567.1 646.2 564.8 648.4 562.7 650.7 C560.6 653.0 558.8 655.7 556.1 657.4 C553.4 659.1 549.9 660.1 546.5 661.1 C543.1 662.1 538.9 662.1 535.9 663.4 C532.9 664.6 530.7 666.6 528.4 668.6 C526.1 670.6 524.2 673.0 522.1 675.1 C520.0 677.2 517.5 678.8 515.9 681.5 C514.3 684.2 513.6 687.8 512.7 691.4 C511.8 695.0 511.9 699.8 510.7 703.1 C509.5 706.4 507.6 708.9 505.7 711.4 C503.8 713.9 501.5 715.8 499.5 718.0 C497.5 720.2 494.7 723.8 493.7 724.9 C492.7 726.0 493.7 724.9 493.7 724.9" stroke="#707070" stroke-width="1.39"/>
<path d="M493.7 724.9 C492.7 726.0 489.6 729.3 487.5 731.5 C485.4 733.7 483.4 735.9 481.4 738.1 C479.4 740.3 477.5 742.6 475.5 744.9 C473.5 747.1 471.6 749.5 469.5 751.6 C467.4 753.7 465.1 755.6 462.7 757.5 C460.3 759.4 457.4 761.3 455.3 762.7 C453.2 764.1 451.1 765.3 450.2 765.8" stroke="#c6c6c6" stroke-width="1.39"/>
<path d="M641.6 558.4 C640.5 559.8 637.0 564.0 635.0 566.7 C633.0 569.4 631.6 572.1 629.8 574.5 C628.0 576.9 625.7 578.9 624.4 580.9 C623.1 582.9 622.8 585.0 622.0 586.5 C621.2 588.0 620.8 588.2 619.4 589.7 C618.0 591.2 615.7 593.0 613.9 595.6 C612.1 598.2 610.6 602.3 608.8 605.6 C607.0 608.9 605.1 612.6 603.0 615.4 C600.9 618.1 598.0 619.9 596.1 622.1 C594.2 624.4 592.5 626.2 591.7 628.9 C590.9 631.6 591.8 635.2 591.3 638.4 C590.8 641.6 590.2 645.0 589.0 647.9 C587.8 650.8 585.6 652.9 584.3 655.9 C582.9 658.9 582.1 662.6 580.9 666.1 C579.7 669.6 579.1 673.8 577.1 676.6 C575.1 679.4 571.6 681.2 568.8 683.0 C565.9 684.8 562.5 685.5 560.0 687.4 C557.5 689.2 556.1 692.1 553.9 694.1 C551.6 696.1 549.5 698.1 546.5 699.5 C543.5 700.9 539.0 701.1 536.0 702.7 C533.0 704.3 530.4 706.2 528.4 708.9 C526.4 711.6 525.8 715.9 524.1 718.8 C522.4 721.7 520.0 723.7 518.0 726.1 C516.0 728.5 513.3 729.9 512.0 733.0 C510.7 736.1 510.8 740.9 510.2 744.8 C509.6 748.7 508.9 753.1 508.2 756.5 C507.5 759.9 506.5 762.2 505.8 765.1 C505.1 768.0 504.6 771.5 504.1 774.0 C503.7 776.5 503.3 778.9 503.1 779.9" stroke="#707070" stroke-width="1.39"/>
<path d="M503.1 779.9 C502.8 781.4 501.9 785.8 501.1 788.7 C500.3 791.6 499.4 794.4 498.4 797.2 C497.4 800.0 495.8 804.3 495.3 805.7 C494.8 807.1 495.3 805.7 495.3 805.7" stroke="#c6c6c6" stroke-width="1.39"/>
<path d="M641.5 558.1 C640.1 558.6 636.0 560.3 633.2 561.3 C630.4 562.3 627.5 562.9 624.7 564.0 C621.9 565.1 618.8 566.0 616.4 567.7 C614.0 569.5 611.8 571.9 610.6 574.5 C609.4 577.1 609.3 580.2 609.0 583.3 C608.7 586.3 609.3 589.6 608.6 592.8 C607.9 596.0 606.4 599.7 604.6 602.6 C602.8 605.5 600.1 608.1 597.7 610.4 C595.3 612.6 592.7 614.4 590.1 616.1 C587.5 617.8 585.1 619.2 582.4 620.6 C579.7 622.0 576.8 623.3 574.0 624.8 C571.2 626.3 568.0 627.6 565.6 629.6 C563.2 631.6 561.1 633.7 559.8 636.5 C558.5 639.3 558.2 642.9 557.8 646.6 C557.4 650.3 557.9 654.8 557.4 658.6 C556.9 662.4 556.3 666.3 554.9 669.3 C553.5 672.3 551.4 674.5 549.0 676.5 C546.6 678.5 543.7 679.6 540.8 681.0 C537.9 682.4 534.9 683.6 531.8 684.8 C528.7 686.0 525.6 687.3 522.4 688.4 C519.2 689.5 515.8 690.2 512.6 691.2 C509.4 692.2 505.9 692.8 503.4 694.5 C500.8 696.2 498.6 698.1 497.3 701.2 C496.0 704.3 495.7 708.9 495.3 712.9 C494.9 716.9 495.2 723.1 495.2 725.1 C495.2 727.1 495.2 725.1 495.2 725.1" stroke="#707070" stroke-width="1.39"/>
<path d="M495.2 725.1 C495.2 726.6 495.4 731.1 495.4 734.1 C495.4 737.1 495.5 740.1 495.4 743.1 C495.3 746.1 495.2 749.1 494.9 752.1 C494.6 755.1 494.1 758.1 493.4 761.0 C492.7 763.9 491.9 766.8 490.8 769.6 C489.7 772.4 487.9 775.9 487.0 777.7 C486.1 779.5 485.8 779.9 485.5 780.3" stroke="#c6c6c6" stroke-width="1.39"/>
<path d="M641.5 558.1 C640.0 558.5 635.8 559.6 632.8 560.3 C629.8 561.0 626.7 561.3 623.8 562.2 C620.9 563.1 618.1 564.4 615.4 565.9 C612.6 567.4 609.6 568.9 607.3 571.0 C605.0 573.1 602.6 575.8 601.5 578.7 C600.4 581.7 601.1 585.3 600.8 588.7 C600.5 592.1 601.0 596.2 599.8 599.2 C598.6 602.2 596.0 604.7 593.6 606.7 C591.2 608.7 587.9 609.8 585.3 611.4 C582.7 613.0 580.4 614.8 577.8 616.4 C575.1 618.0 572.4 619.6 569.4 621.1 C566.4 622.6 562.4 623.3 559.9 625.1 C557.4 626.9 555.2 629.1 554.1 632.0 C553.0 634.9 553.5 639.1 553.0 642.5 C552.5 645.9 552.0 649.6 550.8 652.6 C549.6 655.6 547.5 657.9 546.0 660.6 C544.5 663.3 543.3 666.5 541.5 669.0 C539.7 671.5 538.3 674.2 535.4 675.6 C532.5 677.0 528.1 676.8 524.2 677.1 C520.3 677.4 515.3 676.6 512.0 677.4 C508.7 678.2 506.5 679.8 504.4 682.1 C502.3 684.4 501.1 688.6 499.3 691.4 C497.6 694.1 495.8 696.3 493.9 698.6 C492.0 700.9 488.8 704.1 487.8 705.2 C486.8 706.3 487.8 705.2 487.8 705.2" stroke="#707070" stroke-width="1.39"/>
<path d="M487.8 705.2 C486.8 706.3 483.5 709.5 481.5 711.7 C479.5 713.9 477.6 716.1 475.6 718.4 C473.7 720.7 471.8 723.1 469.8 725.4 C467.8 727.7 465.1 730.6 463.7 732.0 C462.3 733.4 461.9 733.7 461.5 734.0" stroke="#c6c6c6" stroke-width="1.39"/>
<path d="M641.5 558.2 C640.3 559.2 636.4 562.0 634.2 564.3 C632.0 566.6 630.5 569.6 628.5 571.8 C626.5 574.0 624.3 576.0 622.4 577.6 C620.5 579.2 618.6 580.0 616.9 581.2 C615.1 582.5 613.6 583.3 611.9 585.1 C610.2 586.9 608.8 589.5 606.9 591.9 C605.0 594.3 603.0 597.4 600.7 599.8 C598.4 602.2 595.5 604.0 593.3 606.3 C591.1 608.5 588.8 610.6 587.3 613.3 C585.8 616.0 585.0 619.1 584.4 622.3 C583.8 625.5 584.1 629.0 583.6 632.3 C583.1 635.6 582.4 638.9 581.4 641.9 C580.4 644.9 578.9 647.5 577.4 650.4 C575.9 653.2 574.3 656.2 572.5 659.0 C570.7 661.8 568.9 664.7 566.4 666.9 C563.9 669.1 561.0 670.9 557.8 672.2 C554.6 673.5 550.5 673.7 547.0 674.5 C543.5 675.3 539.8 675.8 536.9 677.1 C534.0 678.4 531.6 680.2 529.5 682.4 C527.4 684.6 525.8 687.5 524.0 690.1 C522.2 692.7 520.4 695.3 518.7 698.1 C517.0 700.9 515.2 703.5 514.0 706.9 C512.8 710.2 512.1 714.3 511.4 718.2 C510.7 722.1 510.8 726.8 509.9 730.4 C509.0 734.0 507.9 737.4 505.9 739.7 C503.9 742.0 500.9 743.1 498.0 744.3 C495.1 745.5 491.5 745.9 488.4 746.8 C485.3 747.7 482.3 748.9 479.4 749.9 C476.5 750.9 472.8 752.2 470.9 752.8 C469.0 753.4 468.5 753.4 468.0 753.5" stroke="#707070" stroke-width="1.39"/>
<path d="M468.0 753.5 C466.5 753.8 462.1 754.5 459.2 755.2 C456.3 755.9 453.4 756.9 450.6 757.9 C447.8 758.9 445.1 760.5 442.3 761.5 C439.5 762.5 436.7 763.4 433.8 764.2 C430.9 765.0 427.4 765.6 425.0 766.3 C422.6 767.0 420.2 767.9 419.3 768.2" stroke="#c6c6c6" stroke-width="1.39"/>
<path d="M641.5 558.2 C640.2 558.9 636.2 561.1 633.6 562.5 C631.0 563.9 628.6 565.3 626.1 566.8 C623.6 568.3 620.7 569.5 618.7 571.4 C616.7 573.3 615.0 575.7 614.0 578.1 C613.0 580.5 613.4 583.1 612.8 585.7 C612.2 588.3 611.9 591.1 610.4 593.8 C608.9 596.5 606.3 599.5 603.8 602.0 C601.3 604.5 598.1 606.4 595.6 608.5 C593.1 610.6 590.9 612.7 588.9 614.9 C586.9 617.1 585.4 619.5 583.8 621.8 C582.2 624.1 580.6 626.3 579.1 628.8 C577.6 631.3 576.0 633.9 574.7 636.7 C573.5 639.6 572.8 642.8 571.6 645.9 C570.5 649.0 569.6 652.5 567.8 655.1 C566.0 657.7 563.5 659.9 560.6 661.6 C557.7 663.3 553.7 663.9 550.6 665.2 C547.5 666.5 544.3 667.5 542.1 669.6 C539.9 671.7 538.7 674.7 537.5 677.7 C536.3 680.7 536.0 684.5 534.7 687.6 C533.4 690.7 531.8 693.8 529.9 696.3 C528.0 698.8 525.4 700.7 523.1 702.9 C520.8 705.1 518.4 707.2 516.0 709.3 C513.6 711.3 511.2 713.3 508.9 715.2 C506.6 717.1 504.3 718.9 502.0 720.9 C499.7 722.9 497.5 724.9 495.3 727.0 C493.1 729.1 491.1 731.2 488.9 733.3 C486.7 735.4 484.6 737.5 482.3 739.4 C480.0 741.3 477.6 743.2 475.2 744.9 C472.8 746.6 470.2 748.3 467.6 749.8 C465.0 751.3 462.4 752.6 459.7 754.0 C457.0 755.4 454.3 756.6 451.6 757.9 C448.9 759.2 445.4 761.1 443.6 762.0 C441.8 762.9 441.3 763.2 440.9 763.4" stroke="#707070" stroke-width="1.39"/>
<path d="M440.9 763.4 C439.6 764.1 435.6 766.3 433.0 767.7 C430.4 769.1 427.7 770.6 425.0 771.9 C422.3 773.2 419.5 774.4 416.7 775.4 C413.9 776.4 411.0 777.3 408.1 778.0 C405.2 778.7 401.8 779.3 399.3 779.8 C396.9 780.3 394.4 780.6 393.4 780.8" stroke="#c6c6c6" stroke-width="1.39"/>
<path d="M641.5 558.1 C640.1 558.5 635.7 559.7 633.0 560.8 C630.3 561.9 627.7 563.3 625.1 564.8 C622.5 566.3 620.0 567.9 617.6 569.6 C615.2 571.3 613.0 573.0 611.0 574.9 C609.0 576.8 607.1 578.8 605.6 581.2 C604.1 583.6 602.9 586.4 601.7 589.2 C600.5 592.1 599.8 595.2 598.6 598.3 C597.4 601.4 596.1 604.8 594.7 607.7 C593.3 610.7 591.7 613.6 590.0 616.0 C588.3 618.4 586.4 620.3 584.4 622.3 C582.4 624.3 580.1 625.9 578.0 627.9 C575.9 629.9 573.6 632.0 571.6 634.3 C569.6 636.6 568.0 639.1 566.1 641.5 C564.2 643.9 562.5 646.5 560.3 648.7 C558.1 650.9 555.7 652.9 553.1 654.7 C550.5 656.5 547.4 657.8 544.6 659.3 C541.8 660.8 538.9 662.1 536.5 664.0 C534.1 665.9 532.2 668.1 530.5 670.7 C528.8 673.3 527.8 676.4 526.5 679.4 C525.2 682.4 524.2 685.7 522.6 688.5 C521.0 691.3 519.0 693.9 517.0 696.2 C515.0 698.6 512.5 700.4 510.3 702.6 C508.1 704.8 505.8 706.8 503.9 709.2 C502.0 711.6 500.5 714.4 498.8 717.0 C497.1 719.6 495.6 722.7 493.6 725.0 C491.6 727.3 489.3 729.2 486.6 730.6 C483.9 732.0 480.5 732.4 477.5 733.2 C474.5 734.0 471.7 734.6 468.8 735.4 C465.9 736.2 463.0 737.1 460.2 738.1 C457.4 739.1 454.6 740.1 451.8 741.2 C449.0 742.3 446.2 743.5 443.4 744.5 C440.6 745.5 436.2 746.8 434.8 747.3 C433.4 747.8 434.8 747.3 434.8 747.3" stroke="#707070" stroke-width="1.39"/>
<path d="M434.8 747.3 C433.4 747.6 429.0 748.8 426.1 749.4 C423.2 750.0 420.2 750.4 417.2 750.9 C414.2 751.4 411.3 751.6 408.3 752.1 C405.3 752.6 402.3 753.1 399.4 753.7 C396.5 754.3 393.6 755.0 390.7 755.8 C387.8 756.6 385.0 757.5 382.1 758.4 C379.2 759.3 376.4 760.3 373.5 761.2 C370.6 762.1 367.7 762.9 364.8 763.7 C361.9 764.5 359.0 765.1 356.1 765.8 C353.2 766.5 349.2 767.3 347.3 767.8 C345.4 768.2 344.9 768.4 344.4 768.5" stroke="#c6c6c6" stroke-width="1.39"/>
<path d="M641.4 557.7 C639.8 557.5 634.9 556.6 631.6 556.5 C628.3 556.4 624.7 556.6 621.4 557.2 C618.1 557.8 614.8 558.3 611.7 559.9 C608.7 561.5 605.8 564.1 603.1 566.6 C600.4 569.1 598.0 572.5 595.5 575.0 C593.0 577.5 590.0 579.9 587.8 581.8 C585.6 583.7 584.2 585.0 582.4 586.6 C580.6 588.2 579.6 590.1 577.2 591.4 C574.8 592.6 571.4 593.0 568.1 594.1 C564.8 595.2 560.5 596.2 557.6 598.3 C554.8 600.4 553.0 604.1 551.0 606.7 C549.0 609.3 547.7 611.8 545.5 613.9 C543.3 616.0 539.9 617.1 538.0 619.2 C536.1 621.3 534.9 623.7 534.0 626.5 C533.1 629.3 533.6 633.2 532.5 635.8 C531.4 638.4 529.2 640.3 527.1 642.2 C525.0 644.1 521.8 645.1 519.9 647.4 C518.0 649.7 517.3 653.3 515.6 655.8 C513.9 658.3 512.3 661.1 509.5 662.4 C506.7 663.7 502.1 663.1 498.9 663.7 C495.7 664.3 492.7 664.9 490.1 666.2 C487.6 667.5 486.4 670.3 483.6 671.3 C480.8 672.3 476.8 672.0 473.2 672.3 C469.6 672.6 465.0 669.6 462.0 672.9 C459.0 676.2 457.6 688.1 455.3 692.3 C453.0 696.5 450.7 696.2 448.3 698.0 C445.9 699.8 443.4 701.5 440.9 703.1 C438.4 704.8 435.8 706.3 433.3 707.9 C430.8 709.5 428.2 711.1 425.7 712.7 C423.2 714.3 420.7 716.0 418.1 717.5 C415.5 719.0 412.9 720.5 410.1 721.6 C407.3 722.8 404.4 723.8 401.5 724.4 C398.6 725.0 395.6 725.4 392.6 725.5 C389.6 725.6 386.6 725.4 383.6 725.2 C380.6 725.0 377.7 724.5 374.7 724.2 C371.7 723.9 368.8 723.5 365.8 723.2 C362.8 722.9 359.8 722.6 356.8 722.2 C353.8 721.9 350.9 721.6 347.9 721.1 C344.9 720.6 340.9 719.7 339.0 719.3 C337.1 718.9 336.7 718.7 336.2 718.6" stroke="#707070" stroke-width="1.39"/>
<path d="M336.2 718.6 C334.8 718.1 330.4 716.8 327.6 715.7 C324.8 714.7 322.1 713.4 319.3 712.3 C316.5 711.2 313.7 710.1 310.9 709.1 C308.1 708.1 305.2 707.1 302.3 706.3 C299.4 705.4 296.5 704.8 293.6 704.0 C290.7 703.2 287.7 702.7 284.9 701.8 C282.1 700.9 279.3 699.4 276.6 698.4 C273.9 697.4 271.2 696.4 268.6 696.0 C266.0 695.6 262.3 696.2 261.0 696.2 C259.7 696.2 261.0 696.2 261.0 696.2" stroke="#c6c6c6" stroke-width="1.39"/>
<path d="M641.4 557.8 C639.8 557.6 634.9 556.7 631.6 556.6 C628.3 556.5 624.7 556.7 621.5 557.4 C618.3 558.1 615.4 559.3 612.3 560.8 C609.2 562.3 605.8 564.2 603.1 566.6 C600.4 569.0 598.2 572.6 596.2 575.4 C594.2 578.2 593.1 581.5 591.1 583.6 C589.1 585.7 586.9 586.9 584.5 588.1 C582.1 589.3 579.1 589.6 576.8 591.0 C574.5 592.4 572.4 594.1 570.5 596.5 C568.6 598.9 567.2 602.5 565.6 605.5 C564.0 608.5 562.5 611.7 560.6 614.3 C558.8 616.9 556.7 618.9 554.5 621.0 C552.3 623.1 550.0 625.0 547.6 626.8 C545.2 628.6 543.0 630.3 540.4 631.8 C537.8 633.3 534.8 634.2 532.2 635.6 C529.7 637.0 527.0 638.1 525.1 640.2 C523.2 642.3 522.1 645.3 520.9 648.3 C519.7 651.2 519.2 655.2 517.7 657.9 C516.2 660.6 514.2 663.0 511.6 664.5 C509.0 666.0 505.3 666.4 502.2 667.2 C499.1 668.0 495.9 668.4 493.1 669.5 C490.4 670.6 488.1 672.1 485.7 673.7 C483.3 675.3 481.0 677.0 478.8 679.0 C476.6 681.0 474.4 683.2 472.7 685.8 C470.9 688.4 469.7 691.8 468.3 694.6 C466.9 697.4 465.0 701.3 464.3 702.6 C463.6 703.9 464.3 702.6 464.3 702.6" stroke="#707070" stroke-width="1.39"/>
<path d="M464.3 702.6 C463.6 703.9 461.4 707.9 460.0 710.5 C458.6 713.1 457.1 715.8 455.6 718.4 C454.1 721.0 452.8 723.7 451.2 726.2 C449.6 728.8 448.0 731.4 446.1 733.7 C444.2 736.1 442.3 738.2 440.1 740.3 C437.9 742.3 435.5 744.2 433.1 746.0 C430.7 747.8 428.2 749.4 425.6 750.9 C423.0 752.4 420.4 754.0 417.7 755.3 C415.0 756.6 410.9 758.3 409.5 758.9 C408.1 759.5 409.5 758.9 409.5 758.9" stroke="#c6c6c6" stroke-width="1.39"/>
<path d="M641.5 558.1 C640.1 558.7 636.0 560.6 633.4 561.9 C630.8 563.2 628.2 564.5 625.6 565.8 C623.0 567.1 620.1 568.2 617.6 569.7 C615.1 571.2 613.0 572.9 610.8 574.7 C608.5 576.5 606.4 578.3 604.1 580.3 C601.8 582.3 599.1 584.6 597.0 586.7 C594.9 588.9 593.2 590.9 591.5 593.2 C589.8 595.5 588.6 598.1 586.9 600.4 C585.2 602.7 583.1 604.9 581.1 607.1 C579.1 609.3 576.4 611.1 574.8 613.7 C573.2 616.3 572.2 619.6 571.4 622.8 C570.6 626.0 570.8 629.9 569.8 632.9 C568.8 635.9 567.3 638.5 565.5 641.0 C563.7 643.5 561.1 645.3 559.1 647.7 C557.1 650.1 555.5 652.8 553.6 655.2 C551.7 657.6 550.1 660.4 547.5 662.1 C544.9 663.8 541.3 664.5 538.0 665.4 C534.7 666.3 530.6 666.5 527.6 667.8 C524.6 669.1 522.4 671.1 520.0 673.0 C517.6 674.9 516.0 677.3 513.5 679.0 C511.1 680.7 507.8 681.5 505.3 683.1 C502.8 684.7 500.0 686.0 498.3 688.6 C496.6 691.2 496.2 695.2 495.1 698.6 C494.1 702.0 493.5 706.1 492.0 709.0 C490.5 711.9 488.1 713.7 486.2 716.1 C484.3 718.5 482.2 720.6 480.6 723.4 C479.0 726.2 478.3 730.0 476.8 732.8 C475.3 735.6 473.1 737.8 471.4 740.3 C469.7 742.8 468.2 745.3 466.5 747.8 C464.8 750.2 463.1 752.7 461.2 755.0 C459.3 757.3 457.2 759.6 455.2 761.8 C453.2 764.0 451.0 766.1 449.0 768.3 C447.0 770.5 445.1 772.8 443.1 775.1 C441.2 777.4 439.3 779.8 437.3 782.0 C435.3 784.2 433.3 786.5 431.1 788.5 C428.9 790.5 426.6 792.5 424.2 794.3 C421.8 796.1 417.9 798.5 416.7 799.3 C415.4 800.1 416.7 799.3 416.7 799.3" stroke="#707070" stroke-width="1.39"/>
<path d="M416.7 799.3 C415.4 800.1 411.7 802.6 409.2 804.3 C406.7 806.0 403.9 808.0 401.8 809.4 C399.8 810.8 397.7 812.2 396.9 812.7" stroke="#c6c6c6" stroke-width="1.39"/>
<path d="M641.5 557.8 C639.9 557.8 635.0 557.1 631.9 557.5 C628.8 557.9 625.7 558.9 622.9 560.3 C620.1 561.7 617.6 563.8 615.2 565.7 C612.8 567.7 610.5 569.8 608.3 572.0 C606.1 574.2 604.1 576.6 602.2 579.1 C600.3 581.6 598.7 584.3 597.0 586.7 C595.3 589.1 593.9 591.4 592.0 593.5 C590.1 595.6 588.2 597.7 585.9 599.5 C583.6 601.3 581.1 602.8 578.2 604.2 C575.3 605.7 571.8 606.7 568.6 608.2 C565.4 609.7 561.7 611.2 558.9 613.0 C556.1 614.8 553.7 616.5 551.8 618.8 C549.9 621.1 548.6 623.9 547.4 626.7 C546.2 629.5 545.8 632.7 544.8 635.6 C543.8 638.5 542.8 641.4 541.4 644.0 C540.0 646.6 538.1 648.9 536.4 651.3 C534.6 653.7 532.6 655.9 530.9 658.4 C529.2 660.9 527.7 663.7 526.1 666.3 C524.5 668.9 523.2 671.9 521.3 674.2 C519.4 676.5 517.3 678.6 514.5 680.0 C511.7 681.4 508.2 682.0 504.6 682.4 C501.1 682.8 496.9 682.3 493.2 682.5 C489.5 682.7 485.7 682.7 482.6 683.6 C479.5 684.5 476.9 686.1 474.5 688.0 C472.1 689.9 470.4 692.4 468.4 694.7 C466.4 697.0 464.7 699.4 462.6 701.6 C460.6 703.8 458.3 705.8 456.1 707.9 C453.9 710.0 451.7 712.0 449.6 714.1 C447.5 716.2 445.5 718.5 443.3 720.5 C441.1 722.5 438.8 724.5 436.3 726.1 C433.8 727.7 431.0 728.9 428.2 730.0 C425.4 731.1 422.5 731.8 419.6 732.6 C416.7 733.4 412.3 734.6 410.9 735.0 C409.4 735.4 410.9 735.0 410.9 735.0" stroke="#707070" stroke-width="1.39"/>
<path d="M410.9 735.0 C409.4 735.3 405.1 736.5 402.1 736.7 C399.1 736.9 396.1 736.8 393.1 736.4 C390.1 736.0 387.2 735.1 384.3 734.5 C381.4 733.9 378.4 733.1 375.5 732.5 C372.6 731.9 369.6 731.5 366.7 730.9 C363.8 730.3 360.8 729.6 357.9 728.7 C355.0 727.8 352.4 726.5 349.6 725.4 C346.8 724.3 343.6 722.9 341.2 722.0 C338.8 721.1 336.4 720.6 335.5 720.3" stroke="#c6c6c6" stroke-width="1.39"/>
<path d="M641.5 558.1 C640.1 558.8 636.0 560.7 633.4 562.0 C630.8 563.3 628.2 564.6 625.6 565.9 C623.0 567.1 620.0 568.0 617.6 569.5 C615.2 571.0 612.9 573.0 611.3 575.2 C609.7 577.4 609.1 580.1 608.1 582.8 C607.1 585.4 606.6 588.2 605.5 591.1 C604.4 594.0 602.9 597.2 601.4 600.3 C599.9 603.4 598.4 606.6 596.8 609.6 C595.2 612.6 593.9 615.7 592.0 618.0 C590.1 620.3 588.0 621.8 585.7 623.5 C583.4 625.2 580.7 626.3 578.3 628.1 C575.9 629.9 573.6 632.0 571.5 634.2 C569.4 636.4 567.8 638.9 565.6 641.1 C563.4 643.3 560.9 645.2 558.5 647.2 C556.1 649.2 553.4 650.8 551.4 653.2 C549.4 655.6 548.0 658.5 546.8 661.5 C545.5 664.5 545.1 668.4 543.9 671.4 C542.7 674.4 541.3 677.2 539.6 679.8 C537.9 682.3 535.7 684.2 533.8 686.7 C531.9 689.2 530.3 692.0 528.4 694.6 C526.5 697.2 525.0 700.3 522.5 702.3 C520.0 704.3 516.9 705.5 513.7 706.5 C510.5 707.5 506.4 707.4 503.2 708.3 C500.0 709.2 497.2 710.4 494.6 712.0 C492.0 713.6 488.9 717.0 487.8 718.0 C486.7 719.0 487.8 718.0 487.8 718.0" stroke="#707070" stroke-width="1.39"/>
<path d="M487.8 718.0 C486.6 718.9 483.0 721.5 480.6 723.4 C478.2 725.2 475.9 727.1 473.7 729.1 C471.5 731.1 469.5 733.4 467.4 735.5 C465.3 737.6 463.3 740.0 461.1 742.0 C458.9 744.0 456.6 746.0 454.1 747.7 C451.7 749.4 448.6 751.1 446.4 752.3 C444.2 753.5 442.0 754.6 441.1 755.1" stroke="#c6c6c6" stroke-width="1.39"/>
<path d="M641.4 557.7 C639.7 557.4 634.6 555.8 631.3 555.7 C628.0 555.7 624.4 556.3 621.4 557.4 C618.4 558.5 615.9 560.4 613.1 562.2 C610.3 564.0 607.3 565.9 604.4 568.0 C601.5 570.1 598.3 572.7 595.6 575.0 C592.9 577.3 590.4 580.1 588.1 582.0 C585.8 583.9 583.9 584.9 581.7 586.1 C579.5 587.3 577.3 588.0 575.0 589.3 C572.7 590.6 570.0 591.8 567.8 593.9 C565.6 596.0 563.3 599.0 561.8 602.1 C560.3 605.2 559.7 609.4 558.7 612.7 C557.8 616.1 557.6 619.5 556.1 622.2 C554.6 624.9 552.5 627.1 549.9 628.7 C547.3 630.3 543.7 631.0 540.5 631.9 C537.3 632.8 533.6 633.1 530.6 634.1 C527.6 635.1 524.9 636.1 522.4 637.6 C519.9 639.1 517.7 640.9 515.6 643.0 C513.5 645.1 511.5 647.5 509.9 650.1 C508.3 652.8 507.1 655.8 506.0 658.9 C504.9 662.0 504.6 665.6 503.5 668.5 C502.4 671.4 501.4 674.7 499.3 676.5 C497.2 678.3 494.1 679.2 490.6 679.5 C487.1 679.8 481.9 676.3 478.3 678.4 C474.8 680.5 471.8 689.7 469.3 692.0 C466.8 694.3 464.3 692.1 463.3 692.1" stroke="#707070" stroke-width="1.39"/>
<path d="M463.3 692.1 C461.8 692.1 457.3 692.2 454.4 692.3 C451.4 692.4 448.5 692.4 445.6 692.5 C442.7 692.6 439.8 692.7 436.8 692.7 C433.9 692.8 430.8 692.8 427.9 692.8 C425.0 692.8 422.0 692.9 419.2 693.0 C416.4 693.1 413.6 693.1 410.8 693.2 C408.0 693.3 405.3 693.4 402.5 693.4 C399.7 693.4 396.8 693.5 394.0 693.5 C391.2 693.5 388.0 693.7 385.7 693.7 C383.4 693.8 381.3 693.8 380.4 693.8" stroke="#c6c6c6" stroke-width="1.39"/>
<path d="M641.5 557.9 C640.0 558.1 635.4 558.7 632.5 559.4 C629.6 560.1 626.7 561.1 623.9 562.3 C621.1 563.5 618.2 564.8 615.7 566.5 C613.2 568.2 610.6 570.1 608.6 572.4 C606.6 574.7 605.3 577.6 604.0 580.3 C602.7 583.0 602.3 586.1 601.0 588.8 C599.7 591.5 598.2 594.3 596.3 596.6 C594.4 598.9 591.8 600.8 589.4 602.7 C587.0 604.6 584.3 606.1 581.8 607.9 C579.3 609.7 576.9 611.5 574.6 613.6 C572.3 615.7 570.3 618.0 568.2 620.2 C566.1 622.4 564.1 624.7 562.0 626.8 C559.9 628.9 557.5 630.9 555.3 632.9 C553.1 634.9 550.8 636.8 548.7 638.9 C546.7 641.0 544.7 643.1 543.0 645.5 C541.3 647.9 539.9 650.7 538.5 653.4 C537.1 656.1 535.9 659.2 534.4 661.9 C532.9 664.6 531.4 667.3 529.6 669.8 C527.8 672.2 525.7 674.5 523.6 676.6 C521.5 678.7 519.0 680.5 516.8 682.5 C514.5 684.5 512.3 686.5 510.1 688.5 C507.9 690.5 505.8 692.6 503.4 694.5 C501.0 696.4 498.7 698.2 496.0 699.7 C493.3 701.2 490.4 702.3 487.3 703.3 C484.2 704.3 480.8 704.9 477.7 705.9 C474.6 706.9 471.5 707.8 468.8 709.2 C466.1 710.7 463.8 712.5 461.6 714.6 C459.5 716.7 457.5 719.8 455.9 721.7 C454.3 723.7 452.6 725.5 452.0 726.3" stroke="#707070" stroke-width="1.39"/>
<path d="M452.0 726.3 C451.0 727.4 448.1 730.8 446.0 733.0 C443.9 735.2 441.8 737.3 439.7 739.4 C437.6 741.5 435.4 743.7 433.3 745.8 C431.2 747.9 429.1 750.1 427.0 752.2 C424.9 754.3 422.7 756.4 420.5 758.4 C418.3 760.4 416.1 762.4 413.7 764.3 C411.3 766.2 408.9 768.0 406.4 769.6 C403.9 771.2 401.2 772.6 398.5 773.9 C395.8 775.2 392.1 776.6 390.2 777.3 C388.3 778.0 387.9 778.1 387.4 778.3" stroke="#c6c6c6" stroke-width="1.39"/>
<path d="M641.5 557.9 C640.0 558.1 635.3 558.2 632.4 558.9 C629.5 559.6 626.5 560.8 623.9 562.3 C621.2 563.8 618.8 565.7 616.5 567.7 C614.2 569.7 612.2 572.1 610.4 574.3 C608.5 576.5 607.2 578.8 605.4 581.1 C603.6 583.4 601.8 585.9 599.6 588.0 C597.4 590.1 594.9 592.1 592.4 593.8 C589.9 595.5 587.1 596.8 584.5 598.2 C581.9 599.7 579.2 600.9 576.5 602.5 C573.8 604.1 570.8 605.9 568.2 607.9 C565.6 609.9 563.0 612.1 561.0 614.5 C559.0 616.9 557.5 619.4 556.3 622.3 C555.1 625.2 554.5 628.5 553.8 631.7 C553.1 634.9 552.9 638.5 552.0 641.7 C551.1 644.9 550.1 648.0 548.7 650.7 C547.3 653.4 545.4 655.8 543.4 658.1 C541.4 660.4 539.2 662.4 536.8 664.3 C534.4 666.2 532.0 667.9 529.2 669.4 C526.4 670.9 523.5 672.2 520.2 673.1 C516.9 674.0 513.0 674.3 509.5 674.8 C506.0 675.3 502.1 675.4 499.0 676.2 C495.9 677.0 493.0 677.9 490.6 679.5 C488.2 681.1 486.4 683.5 484.6 686.0 C482.8 688.5 481.4 691.5 479.9 694.4 C478.4 697.3 477.0 700.2 475.6 703.3 C474.2 706.4 473.0 709.6 471.8 712.9 C470.6 716.2 469.7 719.9 468.6 723.1 C467.5 726.3 466.2 729.3 465.0 732.2 C463.8 735.1 462.5 737.7 461.2 740.4 C459.9 743.1 458.6 745.8 457.3 748.5 C456.0 751.2 454.9 754.0 453.6 756.7 C452.3 759.4 451.0 762.2 449.4 764.7 C447.8 767.2 446.1 769.6 444.2 771.9 C442.3 774.2 440.0 776.2 437.8 778.3 C435.6 780.3 433.3 782.3 431.0 784.2 C428.7 786.1 425.1 788.8 423.9 789.7 C422.7 790.6 423.9 789.7 423.9 789.7" stroke="#707070" stroke-width="1.39"/>
<path d="M423.9 789.7 C422.6 790.5 418.9 793.0 416.2 794.3 C413.5 795.6 410.6 796.6 407.7 797.4 C404.8 798.2 401.8 798.6 398.9 799.1 C395.9 799.6 393.0 799.9 390.0 800.2 C387.0 800.5 384.0 800.9 381.0 800.9 C378.0 800.9 375.0 800.8 372.0 800.5 C369.0 800.2 366.1 799.6 363.2 798.9 C360.3 798.2 357.4 797.3 354.5 796.5 C351.6 795.7 348.7 794.9 345.8 794.2 C342.9 793.5 339.9 793.0 337.0 792.3 C334.1 791.6 329.8 790.2 328.3 789.8 C326.9 789.4 328.3 789.8 328.3 789.8" stroke="#c6c6c6" stroke-width="1.39"/>
<path d="M641.5 557.9 C640.0 558.2 635.5 558.8 632.7 559.8 C629.9 560.8 627.1 562.1 624.6 563.8 C622.1 565.5 619.9 568.0 617.9 570.1 C615.9 572.2 614.5 574.7 612.7 576.7 C610.9 578.7 609.1 580.2 607.3 582.3 C605.5 584.4 603.6 586.8 601.8 589.2 C600.0 591.6 598.7 594.7 596.5 596.8 C594.3 598.9 591.7 600.6 588.7 602.0 C585.8 603.4 581.9 603.6 578.8 604.9 C575.7 606.2 572.6 607.7 570.3 609.8 C568.0 611.9 566.7 615.1 565.0 617.7 C563.3 620.3 561.9 622.9 560.2 625.4 C558.5 627.9 556.2 629.8 554.9 632.6 C553.6 635.4 553.1 638.7 552.5 642.1 C551.9 645.5 552.3 649.9 551.4 653.2 C550.5 656.5 549.0 659.4 547.2 661.8 C545.4 664.2 542.5 665.7 540.4 667.8 C538.3 669.9 536.5 672.4 534.4 674.6 C532.3 676.8 530.7 679.5 527.9 680.9 C525.1 682.3 521.1 682.7 517.4 683.1 C513.7 683.5 509.0 682.8 505.6 683.4 C502.2 684.0 499.5 685.4 496.9 686.9 C494.2 688.4 492.3 690.6 489.7 692.1 C487.1 693.6 483.6 694.2 481.0 695.8 C478.4 697.4 475.6 698.7 474.1 701.5 C472.6 704.3 472.5 708.9 471.8 712.8 C471.1 716.7 470.9 721.3 470.0 724.8 C469.1 728.2 467.4 731.6 466.7 733.5 C466.0 735.4 465.9 735.8 465.7 736.3" stroke="#707070" stroke-width="1.39"/>
<path d="M465.7 736.3 C465.2 737.7 463.8 742.0 462.9 744.9 C462.0 747.8 461.1 750.6 460.1 753.4 C459.1 756.2 458.0 759.1 456.7 761.8 C455.4 764.5 454.1 767.2 452.5 769.7 C450.9 772.2 449.2 774.8 447.3 777.1 C445.4 779.4 443.1 781.9 441.3 783.7 C439.6 785.5 437.6 787.1 436.8 787.8" stroke="#c6c6c6" stroke-width="1.39"/>
<path d="M641.6 558.3 C640.4 559.3 636.4 562.2 634.1 564.2 C631.8 566.2 629.8 568.2 627.6 570.0 C625.4 571.8 622.8 573.3 620.8 574.9 C618.8 576.5 617.0 578.0 615.4 579.6 C613.8 581.2 612.6 582.7 611.2 584.7 C609.8 586.8 608.4 589.2 606.9 591.9 C605.4 594.6 603.8 597.9 602.3 601.0 C600.8 604.1 599.1 607.3 597.8 610.5 C596.4 613.7 595.2 617.2 594.2 620.3 C593.2 623.3 592.6 626.2 591.6 628.8 C590.6 631.4 589.8 633.6 588.2 635.9 C586.6 638.2 584.3 640.4 582.1 642.5 C579.9 644.6 577.3 646.4 574.8 648.4 C572.3 650.4 569.8 652.5 567.3 654.6 C564.8 656.7 562.4 658.9 560.0 661.0 C557.6 663.1 555.2 665.2 552.8 667.3 C550.4 669.3 547.9 671.2 545.8 673.3 C543.6 675.4 541.5 677.5 539.9 680.1 C538.2 682.7 537.0 685.5 535.9 688.8 C534.8 692.0 534.1 696.0 533.1 699.6 C532.1 703.2 531.4 707.3 529.9 710.5 C528.4 713.7 526.6 716.8 524.3 719.0 C522.0 721.2 519.1 722.7 516.2 724.0 C513.3 725.3 510.0 725.8 506.9 726.8 C503.8 727.8 500.5 728.5 497.6 729.7 C494.7 730.9 491.9 732.4 489.3 733.9 C486.7 735.4 484.3 737.2 481.9 739.0 C479.5 740.8 477.2 742.8 474.8 744.6 C472.4 746.4 469.9 748.1 467.4 749.7 C464.9 751.3 462.2 752.8 459.6 754.2 C457.0 755.6 454.3 756.9 451.6 758.3 C448.9 759.7 446.2 760.9 443.6 762.4 C441.0 763.9 438.4 765.4 435.9 767.0 C433.4 768.6 430.9 770.3 428.5 772.1 C426.1 773.9 423.7 775.8 421.3 777.6 C418.9 779.4 416.6 781.2 414.1 782.9 C411.6 784.6 407.8 787.0 406.5 787.8 C405.2 788.6 406.5 787.8 406.5 787.8" stroke="#707070" stroke-width="1.39"/>
<path d="M406.5 787.8 C405.2 788.5 401.3 790.8 398.6 792.1 C395.9 793.5 393.2 794.6 390.5 795.9 C387.8 797.2 384.6 798.7 382.3 799.8 C380.1 800.9 377.9 802.1 377.0 802.6" stroke="#c6c6c6" stroke-width="1.39"/>
<path d="M641.5 557.9 C640.0 558.1 635.5 558.5 632.4 559.0 C629.3 559.5 626.1 559.8 623.1 560.7 C620.1 561.7 617.1 562.9 614.6 564.7 C612.1 566.6 609.9 569.3 608.0 571.8 C606.1 574.3 605.0 577.3 603.4 579.9 C601.8 582.5 600.4 585.1 598.6 587.5 C596.8 589.9 594.9 592.1 592.8 594.1 C590.7 596.1 588.3 597.8 585.8 599.4 C583.3 601.0 580.4 602.1 577.9 603.9 C575.4 605.7 572.6 607.6 570.7 610.1 C568.9 612.6 567.8 616.0 566.8 619.1 C565.8 622.2 565.6 625.8 564.4 628.6 C563.1 631.4 561.4 634.0 559.3 636.1 C557.2 638.2 554.4 639.8 551.8 641.5 C549.2 643.2 546.5 644.7 543.9 646.3 C541.3 647.9 538.7 649.4 536.1 651.0 C533.5 652.6 530.6 653.8 528.4 655.8 C526.2 657.8 524.3 660.2 522.9 663.1 C521.5 666.0 521.3 670.1 520.2 673.2 C519.1 676.4 518.2 679.8 516.3 682.0 C514.3 684.2 511.4 685.5 508.5 686.7 C505.6 687.9 502.0 688.2 498.9 689.2 C495.8 690.2 492.9 691.3 490.0 692.5 C487.1 693.7 484.3 695.0 481.7 696.6 C479.1 698.2 476.4 699.6 474.5 702.0 C472.6 704.4 471.5 707.9 470.4 711.2 C469.2 714.5 468.7 718.6 467.6 721.8 C466.5 724.9 464.8 727.3 463.6 730.1 C462.4 732.9 461.8 735.8 460.6 738.6 C459.5 741.4 458.3 744.2 456.7 746.7 C455.1 749.2 453.0 751.5 451.0 753.7 C449.0 755.9 446.8 757.9 444.6 760.0 C442.5 762.1 440.4 764.3 438.1 766.2 C435.8 768.1 433.4 770.0 430.7 771.3 C428.0 772.6 425.1 773.4 422.2 774.1 C419.3 774.8 416.3 774.9 413.3 775.3 C410.3 775.6 407.3 776.0 404.3 776.2 C401.3 776.4 398.3 776.8 395.3 776.6 C392.3 776.4 388.0 775.3 386.5 775.0 C385.0 774.7 386.5 775.0 386.5 775.0" stroke="#707070" stroke-width="1.39"/>
<path d="M386.5 775.0 C385.1 774.5 380.8 773.1 377.9 772.3 C375.0 771.5 372.1 770.8 369.1 770.3 C366.2 769.8 363.1 769.6 360.2 769.0 C357.3 768.4 353.5 767.2 351.6 766.6 C349.7 766.0 349.3 765.7 348.8 765.5" stroke="#c6c6c6" stroke-width="1.39"/>
<path d="M641.4 557.6 C639.6 557.1 634.5 555.2 630.9 554.6 C627.3 554.0 623.3 553.5 619.8 553.9 C616.3 554.3 613.1 555.2 609.8 556.8 C606.5 558.4 603.2 560.8 600.1 563.4 C597.0 566.0 593.7 569.5 591.1 572.3 C588.5 575.1 586.3 578.0 584.3 580.0 C582.3 582.0 581.2 583.1 579.2 584.3 C577.2 585.5 575.1 586.1 572.5 587.0 C569.9 587.9 566.5 588.0 563.5 589.5 C560.5 591.0 557.3 593.4 554.8 595.9 C552.3 598.4 550.3 602.0 548.4 604.7 C546.5 607.4 544.8 609.6 543.2 612.1 C541.6 614.6 539.9 617.1 538.6 619.7 C537.3 622.3 536.9 625.4 535.5 627.7 C534.1 630.0 532.4 632.2 530.1 633.7 C527.8 635.2 524.5 635.8 521.7 636.9 C518.9 638.0 516.0 639.3 513.1 640.6 C510.2 641.9 507.4 643.4 504.3 644.5 C501.2 645.6 497.2 646.1 494.3 647.2 C491.4 648.3 488.9 649.3 487.0 651.1 C485.1 652.9 484.3 655.9 482.9 658.2 C481.5 660.6 480.1 663.0 478.4 665.2 C476.7 667.5 474.5 669.3 472.7 671.7 C470.9 674.1 469.7 677.4 467.7 679.7 C465.7 682.0 463.8 684.4 460.9 685.7 C458.0 687.0 454.0 686.8 450.5 687.3 C447.0 687.8 443.3 687.7 440.0 688.7 C436.7 689.7 433.9 692.1 430.9 693.2 C427.9 694.3 425.1 694.5 422.2 695.3 C419.3 696.1 416.5 697.2 413.7 698.1 C410.9 699.0 408.0 700.1 405.1 700.9 C402.2 701.7 399.3 702.2 396.3 702.7 C393.3 703.2 389.8 703.4 387.3 703.7 C384.8 704.0 382.4 704.3 381.4 704.4" stroke="#707070" stroke-width="1.39"/>
<path d="M381.4 704.4 C379.9 704.7 375.4 705.4 372.5 706.0 C369.6 706.6 366.8 707.5 363.8 708.0 C360.9 708.5 357.8 709.0 354.8 709.2 C351.8 709.4 347.3 709.2 345.8 709.2 C344.3 709.2 345.8 709.2 345.8 709.2" stroke="#c6c6c6" stroke-width="1.39"/>
<path d="M641.5 557.9 C640.0 558.1 635.5 558.7 632.5 559.3 C629.5 559.9 626.4 560.5 623.4 561.4 C620.4 562.3 617.6 563.4 614.7 564.8 C611.8 566.1 608.8 567.6 605.8 569.5 C602.8 571.4 599.7 573.7 597.0 575.9 C594.3 578.1 591.7 580.8 589.7 582.9 C587.7 585.0 586.5 586.6 585.2 588.7 C583.9 590.8 583.1 593.1 581.7 595.5 C580.3 597.9 578.8 600.5 577.0 603.0 C575.2 605.5 572.9 607.8 571.0 610.3 C569.1 612.8 567.1 615.4 565.5 618.1 C563.9 620.8 563.0 623.7 561.4 626.3 C559.8 628.9 558.4 631.6 556.1 633.6 C553.8 635.6 550.8 636.9 547.8 638.1 C544.8 639.4 541.1 639.9 538.2 641.1 C535.3 642.3 532.7 643.6 530.3 645.3 C527.9 647.0 526.1 649.4 524.0 651.5 C521.9 653.6 519.8 655.7 517.6 657.8 C515.4 659.9 512.8 661.6 510.9 663.9 C509.0 666.2 507.5 668.5 506.3 671.4 C505.1 674.3 504.6 678.1 503.5 681.2 C502.4 684.3 501.4 687.6 499.4 689.8 C497.4 692.0 494.5 693.2 491.6 694.4 C488.7 695.6 484.5 696.2 481.9 696.8 C479.3 697.4 476.8 698.0 475.8 698.2" stroke="#707070" stroke-width="1.39"/>
<path d="M475.8 698.2 C474.3 698.5 469.9 699.3 467.0 700.1 C464.1 700.9 461.4 702.1 458.5 703.1 C455.6 704.1 452.8 705.2 449.9 705.9 C447.0 706.6 444.1 707.0 441.1 707.3 C438.1 707.5 435.1 707.4 432.1 707.4 C429.1 707.4 426.1 707.3 423.1 707.4 C420.1 707.5 417.1 707.9 414.1 708.1 C411.1 708.3 408.1 708.6 405.1 708.5 C402.1 708.4 399.1 708.0 396.2 707.4 C393.3 706.8 390.4 705.8 387.5 705.0 C384.6 704.2 381.2 703.2 378.8 702.7 C376.4 702.2 373.9 701.9 372.9 701.8" stroke="#c6c6c6" stroke-width="1.39"/>
<path d="M641.5 558.1 C640.1 558.8 635.9 560.5 633.4 562.0 C630.9 563.5 628.8 565.8 626.3 567.4 C623.8 569.0 620.9 569.9 618.7 571.5 C616.5 573.1 614.6 575.0 612.9 576.9 C611.2 578.8 610.5 581.0 608.6 583.1 C606.7 585.2 603.9 587.1 601.7 589.2 C599.5 591.3 597.1 593.4 595.3 595.9 C593.5 598.4 592.6 601.6 590.8 604.1 C589.0 606.6 586.8 608.6 584.7 610.7 C582.6 612.8 579.7 614.2 578.2 616.8 C576.8 619.4 576.7 623.1 576.0 626.3 C575.3 629.5 575.3 633.3 573.8 636.0 C572.3 638.7 569.3 640.2 567.2 642.4 C565.1 644.6 562.9 646.9 561.1 649.4 C559.3 651.9 558.6 655.5 556.2 657.5 C553.9 659.5 550.2 660.5 547.0 661.6 C543.8 662.7 539.4 662.6 536.7 664.2 C534.0 665.8 532.8 668.9 531.0 671.3 C529.2 673.7 527.9 676.5 525.7 678.6 C523.5 680.7 519.8 681.3 517.8 683.6 C515.8 685.9 514.6 689.0 513.6 692.4 C512.6 695.8 513.1 701.2 511.7 704.2 C510.3 707.2 507.5 708.9 505.1 710.7 C502.7 712.5 499.4 713.1 497.2 715.2 C495.0 717.3 494.0 720.7 492.2 723.2 C490.4 725.7 488.3 727.8 486.5 730.2 C484.7 732.6 483.1 735.1 481.4 737.6 C479.7 740.1 478.2 742.7 476.5 745.2 C474.8 747.7 472.4 750.9 471.2 752.5 C470.0 754.1 469.6 754.4 469.3 754.8" stroke="#707070" stroke-width="1.39"/>
<path d="M469.3 754.8 C468.2 755.8 465.2 759.2 462.9 761.1 C460.6 763.0 458.2 764.8 455.6 766.3 C453.0 767.8 450.2 769.1 447.5 770.3 C444.8 771.5 442.0 772.5 439.2 773.6 C436.4 774.7 433.5 775.6 430.7 776.6 C427.9 777.6 425.0 778.6 422.1 779.5 C419.2 780.4 416.4 781.4 413.5 782.2 C410.6 783.0 407.7 783.7 404.8 784.2 C401.9 784.7 398.9 785.2 395.9 785.4 C392.9 785.6 389.9 785.6 386.9 785.6 C383.9 785.6 379.4 785.6 377.9 785.6 C376.4 785.6 377.9 785.6 377.9 785.6" stroke="#c6c6c6" stroke-width="1.39"/>
<path d="M641.5 558.1 C640.1 558.7 636.0 560.4 633.3 561.5 C630.5 562.6 627.9 563.7 625.0 564.7 C622.1 565.7 619.0 566.1 616.2 567.3 C613.4 568.5 610.2 569.8 608.1 571.9 C606.0 574.0 604.3 576.9 603.3 579.8 C602.2 582.7 602.4 586.0 601.8 589.2 C601.2 592.4 600.8 596.0 599.5 598.9 C598.2 601.8 596.1 604.7 593.9 606.9 C591.7 609.1 588.9 610.6 586.2 612.2 C583.5 613.8 580.4 614.7 577.7 616.3 C575.0 617.9 572.3 619.6 570.0 621.6 C567.7 623.6 565.8 626.0 564.1 628.5 C562.4 631.0 561.2 633.8 560.0 636.7 C558.8 639.6 558.0 642.7 556.8 645.7 C555.6 648.7 554.4 651.9 552.9 654.6 C551.4 657.4 549.7 660.0 547.6 662.2 C545.5 664.4 543.1 666.4 540.5 668.0 C537.9 669.6 534.9 670.9 531.9 672.1 C528.9 673.4 525.5 674.2 522.6 675.5 C519.7 676.8 516.8 678.1 514.5 680.0 C512.2 681.9 510.3 684.2 508.8 687.0 C507.3 689.8 506.4 693.3 505.3 696.7 C504.2 700.1 503.6 704.1 502.2 707.2 C500.8 710.3 499.4 713.2 497.2 715.2 C494.9 717.2 492.0 718.3 488.7 719.0 C485.4 719.7 481.2 719.4 477.5 719.6 C473.8 719.9 469.8 720.3 466.5 720.5 C463.2 720.7 460.5 720.5 457.5 720.6 C454.5 720.8 451.5 721.0 448.5 721.4 C445.5 721.8 442.1 722.7 439.7 723.2 C437.2 723.7 434.8 724.3 433.8 724.5" stroke="#707070" stroke-width="1.39"/>
<path d="M433.8 724.5 C432.3 724.8 428.0 725.6 425.0 726.0 C422.0 726.4 419.0 726.5 416.0 726.6 C413.0 726.7 408.5 726.4 407.0 726.4 C405.5 726.4 407.0 726.4 407.0 726.4" stroke="#c6c6c6" stroke-width="1.39"/>
<path d="M641.5 558.1 C640.1 558.7 635.9 560.4 633.3 561.7 C630.7 563.0 628.3 564.8 625.7 566.1 C623.1 567.5 620.5 568.6 617.8 569.8 C615.1 571.0 612.2 571.9 609.7 573.5 C607.2 575.1 604.6 577.1 602.6 579.4 C600.6 581.7 599.3 584.5 597.8 587.1 C596.3 589.7 595.3 592.3 593.8 594.8 C592.3 597.3 590.6 599.7 588.7 602.0 C586.9 604.3 584.7 606.4 582.7 608.7 C580.7 611.0 578.6 613.1 576.9 615.6 C575.2 618.1 573.8 620.8 572.5 623.6 C571.2 626.4 570.4 629.5 569.3 632.5 C568.2 635.5 567.4 638.6 566.0 641.4 C564.6 644.2 562.9 646.9 560.8 649.1 C558.7 651.3 556.0 653.2 553.2 654.8 C550.4 656.4 547.2 657.5 544.2 658.9 C541.2 660.3 538.2 661.4 535.5 663.0 C532.8 664.6 530.4 666.4 528.1 668.3 C525.8 670.2 523.9 672.5 521.7 674.6 C519.6 676.7 517.5 678.8 515.2 680.8 C513.0 682.8 510.5 684.5 508.2 686.4 C505.9 688.3 503.5 690.0 501.5 692.3 C499.5 694.5 497.7 697.0 496.2 699.9 C494.7 702.8 493.7 706.3 492.5 709.5 C491.3 712.7 490.4 716.4 488.9 719.3 C487.4 722.2 485.7 724.9 483.6 727.0 C481.5 729.1 477.8 730.8 476.1 731.9 C474.4 733.0 473.9 733.2 473.5 733.5" stroke="#707070" stroke-width="1.39"/>
<path d="M473.5 733.5 C472.2 734.3 468.4 736.6 465.9 738.3 C463.4 740.0 461.0 741.7 458.6 743.5 C456.2 745.3 453.8 747.2 451.3 748.9 C448.9 750.6 446.4 752.3 443.9 753.9 C441.3 755.5 438.7 756.9 436.0 758.3 C433.3 759.6 430.6 760.8 427.8 762.0 C425.1 763.2 422.2 764.3 419.5 765.5 C416.8 766.7 414.0 767.9 411.3 769.1 C408.6 770.3 404.5 772.3 403.1 772.9 C401.7 773.5 403.1 772.9 403.1 772.9" stroke="#c6c6c6" stroke-width="1.39"/>
<path d="M641.5 558.0 C640.1 558.5 635.8 559.8 633.0 560.8 C630.2 561.8 627.6 563.2 624.8 564.3 C622.0 565.4 619.1 566.2 616.4 567.6 C613.7 569.0 610.8 570.3 608.8 572.5 C606.8 574.7 605.7 577.7 604.7 580.6 C603.7 583.5 603.9 586.8 602.9 589.8 C601.9 592.8 600.7 595.9 598.9 598.5 C597.1 601.1 594.4 603.1 592.3 605.4 C590.2 607.7 588.1 609.9 586.3 612.3 C584.5 614.7 583.4 617.5 581.7 619.9 C580.1 622.3 578.6 624.6 576.4 626.6 C574.2 628.6 571.1 630.1 568.3 631.7 C565.5 633.4 562.2 634.6 559.8 636.5 C557.4 638.4 555.5 640.8 553.8 643.2 C552.0 645.7 551.0 648.7 549.3 651.2 C547.5 653.7 545.5 656.0 543.3 658.0 C541.1 660.0 538.1 661.3 535.9 663.4 C533.7 665.5 531.7 667.6 530.2 670.4 C528.8 673.2 528.3 677.0 527.2 680.2 C526.1 683.5 525.5 687.3 523.8 689.9 C522.1 692.5 519.5 694.4 516.9 696.0 C514.2 697.6 510.6 698.3 507.9 699.8 C505.1 701.3 502.7 702.9 500.4 704.9 C498.1 706.9 496.1 709.9 494.3 711.7 C492.5 713.5 490.6 715.0 489.8 715.6" stroke="#707070" stroke-width="1.39"/>
<path d="M489.8 715.6 C488.7 716.6 485.3 719.7 483.2 721.8 C481.1 723.9 479.1 726.1 477.0 728.3 C474.9 730.5 472.9 732.8 470.8 734.9 C468.7 737.0 466.7 739.2 464.5 741.2 C462.3 743.2 460.0 745.3 457.6 747.1 C455.2 748.9 451.4 751.3 450.2 752.1 C449.0 752.9 450.2 752.1 450.2 752.1" stroke="#c6c6c6" stroke-width="1.39"/>
<path d="M641.5 557.8 C640.0 557.9 635.3 557.8 632.2 558.3 C629.1 558.8 626.1 559.8 623.1 560.8 C620.1 561.8 617.5 563.0 614.4 564.3 C611.3 565.5 607.9 566.5 604.7 568.3 C601.5 570.1 598.0 572.6 595.3 574.9 C592.6 577.2 590.4 580.2 588.4 582.2 C586.4 584.2 585.0 585.6 583.1 587.1 C581.2 588.6 579.3 589.8 577.2 591.4 C575.1 593.0 572.7 594.5 570.5 596.6 C568.3 598.7 565.9 601.3 564.1 604.1 C562.3 606.9 560.9 610.3 559.6 613.4 C558.3 616.5 557.7 619.6 556.5 622.5 C555.3 625.4 554.2 628.3 552.5 630.7 C550.8 633.1 548.7 635.2 546.5 637.1 C544.3 639.0 541.7 640.5 539.2 642.0 C536.7 643.5 534.1 645.0 531.4 646.4 C528.7 647.8 526.0 649.1 523.0 650.4 C520.0 651.6 516.8 652.8 513.7 653.9 C510.6 655.0 507.2 656.0 504.4 657.3 C501.6 658.6 499.2 659.8 497.1 661.7 C495.1 663.6 493.5 666.0 492.1 668.5 C490.7 671.0 489.8 674.1 488.5 677.0 C487.2 679.9 485.9 682.9 484.3 685.6 C482.7 688.3 480.8 690.8 478.8 693.1 C476.9 695.5 474.8 697.6 472.6 699.7 C470.4 701.8 468.3 703.9 465.8 705.6 C463.3 707.3 460.6 708.9 457.8 710.1 C455.0 711.3 451.9 711.9 449.0 712.9 C446.1 713.9 443.4 715.1 440.6 716.2 C437.8 717.3 435.2 718.6 432.4 719.7 C429.6 720.8 426.3 722.0 423.9 722.7 C421.5 723.4 419.0 723.8 418.0 724.0" stroke="#707070" stroke-width="1.39"/>
<path d="M418.0 724.0 C416.5 724.1 412.0 724.6 409.0 724.7 C406.0 724.8 403.0 724.5 400.0 724.4 C397.0 724.2 394.1 724.0 391.1 723.8 C388.1 723.6 385.1 723.5 382.1 723.3 C379.1 723.1 376.1 723.1 373.1 722.7 C370.1 722.4 367.1 721.9 364.2 721.2 C361.3 720.5 358.4 719.6 355.6 718.5 C352.8 717.4 350.1 716.0 347.4 714.8 C344.7 713.5 341.6 712.0 339.3 711.0 C337.0 710.0 334.7 709.0 333.8 708.6" stroke="#c6c6c6" stroke-width="1.39"/>
<path d="M641.5 557.8 C639.9 557.8 635.1 557.4 632.0 557.8 C628.9 558.1 625.6 558.8 622.7 559.9 C619.8 561.0 617.2 562.8 614.6 564.6 C612.0 566.4 609.6 568.7 607.2 570.9 C604.8 573.1 602.6 575.6 600.2 577.9 C597.8 580.1 595.1 582.5 592.7 584.4 C590.3 586.2 588.0 587.5 585.7 589.0 C583.4 590.5 581.5 591.6 579.1 593.1 C576.8 594.6 574.3 596.1 571.6 597.7 C568.9 599.4 565.5 600.9 562.8 603.0 C560.1 605.1 557.3 607.6 555.6 610.3 C553.9 613.0 553.2 616.1 552.4 619.3 C551.6 622.5 551.5 626.2 550.7 629.3 C549.9 632.4 548.9 635.2 547.4 637.7 C545.9 640.2 543.7 642.1 541.7 644.3 C539.8 646.4 537.8 648.5 535.7 650.6 C533.6 652.7 531.8 655.1 529.3 656.8 C526.8 658.5 524.0 659.9 520.6 660.8 C517.2 661.7 512.8 661.7 509.1 662.1 C505.4 662.5 501.6 662.4 498.6 663.3 C495.7 664.2 493.5 665.8 491.4 667.6 C489.3 669.4 487.9 671.9 486.0 674.0 C484.1 676.1 481.9 678.1 479.9 680.3 C477.9 682.5 475.5 684.5 473.9 687.3 C472.3 690.1 471.4 693.7 470.5 697.2 C469.6 700.7 469.3 705.2 468.2 708.5 C467.1 711.8 465.4 714.4 464.0 717.1 C462.6 719.9 461.2 722.5 459.7 725.0 C458.1 727.5 456.4 729.9 454.7 732.4 C453.0 734.9 451.3 737.3 449.7 739.9 C448.1 742.5 446.7 745.1 445.1 747.7 C443.6 750.3 441.5 753.6 440.4 755.3 C439.3 757.0 438.9 757.3 438.6 757.7" stroke="#707070" stroke-width="1.39"/>
<path d="M438.6 757.7 C437.6 758.8 434.7 762.2 432.4 764.2 C430.1 766.2 427.6 767.8 425.0 769.4 C422.4 771.0 419.7 772.3 417.1 773.7 C414.5 775.1 411.9 776.5 409.2 777.9 C406.5 779.3 403.4 780.9 401.1 781.9 C398.8 782.9 396.4 783.7 395.5 784.1" stroke="#c6c6c6" stroke-width="1.39"/>
<path d="M641.5 558.1 C640.1 558.5 635.8 559.9 633.0 560.8 C630.2 561.7 627.4 562.7 624.5 563.6 C621.6 564.5 618.6 565.2 615.6 566.2 C612.6 567.2 609.2 568.1 606.2 569.8 C603.2 571.5 599.8 573.8 597.4 576.2 C595.0 578.6 593.4 581.5 592.1 584.1 C590.8 586.7 590.5 589.1 589.7 591.9 C588.9 594.7 588.3 597.8 587.3 600.7 C586.3 603.6 585.0 606.8 583.5 609.5 C582.0 612.2 580.4 614.7 578.6 617.1 C576.9 619.5 575.1 621.8 573.0 624.0 C570.9 626.2 568.8 628.3 566.2 630.1 C563.6 631.9 560.5 633.3 557.4 634.6 C554.3 635.9 550.5 636.7 547.4 637.8 C544.3 638.9 541.1 639.8 538.6 641.4 C536.1 643.0 534.2 645.1 532.6 647.6 C531.0 650.1 530.0 653.2 528.8 656.2 C527.6 659.2 526.6 662.5 525.5 665.7 C524.4 668.9 523.5 672.1 522.4 675.3 C521.3 678.4 520.3 681.8 518.8 684.6 C517.3 687.4 515.8 690.4 513.5 692.3 C511.2 694.2 508.2 695.4 504.8 696.1 C501.4 696.8 497.1 696.2 493.2 696.3 C489.3 696.3 485.0 695.9 481.5 696.4 C478.0 696.9 474.8 697.7 472.0 699.0 C469.2 700.3 466.8 702.2 464.7 704.3 C462.6 706.4 460.9 709.2 459.1 711.6 C457.3 714.0 455.5 716.4 453.8 718.9 C452.1 721.4 450.7 724.0 449.0 726.5 C447.3 729.0 445.7 731.5 443.8 733.8 C441.9 736.1 439.8 738.3 437.7 740.4 C435.6 742.5 433.2 744.4 431.0 746.4 C428.8 748.4 426.5 750.5 424.3 752.5 C422.1 754.5 419.1 757.1 417.6 758.4 C416.1 759.7 415.6 759.9 415.2 760.2" stroke="#707070" stroke-width="1.39"/>
<path d="M415.2 760.2 C413.9 761.0 410.1 763.4 407.4 764.7 C404.7 766.0 401.9 766.9 399.0 767.9 C396.1 768.9 393.2 769.6 390.3 770.5 C387.4 771.4 384.6 772.3 381.7 773.0 C378.8 773.7 375.9 774.4 372.9 774.7 C369.9 775.0 366.9 775.0 363.9 774.8 C360.9 774.6 358.0 774.1 355.0 773.7 C352.0 773.3 347.6 772.5 346.1 772.3 C344.6 772.1 346.1 772.3 346.1 772.3" stroke="#c6c6c6" stroke-width="1.39"/>
<path d="M641.5 558.1 C640.1 558.7 635.9 560.4 633.3 561.7 C630.6 563.0 628.1 564.5 625.6 565.9 C623.1 567.3 620.3 568.6 618.0 570.2 C615.7 571.9 613.3 573.6 611.9 575.8 C610.5 578.0 610.0 580.8 609.4 583.6 C608.8 586.4 609.3 589.5 608.5 592.7 C607.7 595.9 606.5 599.8 604.7 602.7 C602.9 605.7 600.1 608.1 597.7 610.4 C595.3 612.7 592.7 614.5 590.4 616.4 C588.1 618.3 586.1 620.1 583.9 621.9 C581.7 623.7 579.6 625.5 577.3 627.3 C574.9 629.1 572.1 630.9 569.8 632.9 C567.5 634.9 565.1 636.8 563.4 639.3 C561.7 641.8 560.7 645.0 559.7 648.2 C558.7 651.4 558.2 655.2 557.2 658.5 C556.2 661.8 555.0 665.1 553.4 667.9 C551.8 670.7 549.7 672.9 547.7 675.2 C545.7 677.5 543.5 679.5 541.4 681.6 C539.3 683.7 537.4 686.0 535.0 687.9 C532.6 689.8 529.9 691.8 526.9 693.1 C523.9 694.5 520.2 695.0 516.9 696.0 C513.6 697.0 510.0 697.5 507.3 699.0 C504.6 700.5 502.4 702.7 500.6 705.3 C498.9 707.9 498.1 711.5 496.8 714.7 C495.6 717.9 494.5 721.4 493.1 724.3 C491.7 727.2 489.9 729.6 488.3 732.2 C486.7 734.8 484.3 738.5 483.5 739.8 C482.7 741.1 483.5 739.8 483.5 739.8" stroke="#707070" stroke-width="1.39"/>
<path d="M483.5 739.8 C482.8 741.1 480.6 745.0 479.3 747.7 C478.0 750.4 476.8 753.2 475.6 756.0 C474.4 758.8 473.3 761.6 471.9 764.2 C470.5 766.9 469.0 769.5 467.3 771.9 C465.6 774.3 462.6 777.7 461.7 778.9 C460.8 780.1 461.7 778.9 461.7 778.9" stroke="#c6c6c6" stroke-width="1.39"/>
<path d="M641.5 558.1 C640.2 558.8 636.0 560.6 633.5 562.1 C631.0 563.6 628.6 565.7 626.3 567.4 C623.9 569.1 621.3 570.6 619.4 572.5 C617.5 574.4 615.9 576.7 614.8 578.9 C613.7 581.1 613.7 583.3 612.8 585.7 C611.9 588.1 610.8 590.5 609.2 593.1 C607.6 595.8 605.2 598.8 603.2 601.6 C601.2 604.4 599.2 607.2 597.1 609.8 C595.0 612.3 593.2 614.9 590.9 616.9 C588.6 618.9 585.8 619.9 583.4 621.5 C581.0 623.1 578.3 624.5 576.3 626.6 C574.3 628.7 573.0 631.6 571.5 634.2 C570.0 636.8 568.8 639.7 567.0 642.2 C565.2 644.7 562.8 646.7 560.8 649.1 C558.8 651.5 556.6 653.8 555.1 656.6 C553.6 659.5 552.9 663.1 551.7 666.2 C550.5 669.3 549.5 672.6 547.8 675.2 C546.1 677.8 543.5 679.4 541.4 681.6 C539.3 683.8 537.1 685.8 535.3 688.3 C533.5 690.8 532.4 694.3 530.4 696.8 C528.4 699.3 526.3 701.8 523.5 703.4 C520.7 705.0 516.8 705.4 513.7 706.6 C510.6 707.8 507.8 709.3 505.0 710.5 C502.2 711.7 499.4 712.8 496.7 714.0 C493.9 715.2 491.2 716.5 488.5 717.8 C485.8 719.1 483.2 720.6 480.6 722.0 C478.0 723.4 475.4 724.9 472.8 726.4 C470.2 727.9 467.6 729.5 464.9 730.8 C462.2 732.1 459.4 733.3 456.6 734.4 C453.8 735.5 451.0 736.3 448.1 737.2 C445.2 738.1 442.3 738.9 439.4 739.7 C436.5 740.5 433.6 741.3 430.8 742.2 C428.0 743.1 425.1 744.1 422.3 745.1 C419.5 746.1 415.2 747.5 413.8 748.0 C412.4 748.5 413.8 748.0 413.8 748.0" stroke="#707070" stroke-width="1.39"/>
<path d="M413.8 748.0 C412.4 748.4 408.0 749.7 405.1 750.4 C402.2 751.1 399.2 751.6 396.2 752.0 C393.2 752.4 390.3 752.6 387.3 752.9 C384.3 753.2 381.3 753.4 378.3 753.7 C375.3 754.0 372.3 754.4 369.4 754.9 C366.4 755.4 363.1 756.0 360.6 756.5 C358.2 757.0 355.7 757.5 354.7 757.7" stroke="#c6c6c6" stroke-width="1.39"/>
<path d="M641.6 558.2 C640.3 559.1 636.3 561.7 633.9 563.5 C631.5 565.3 629.4 567.4 627.2 569.2 C625.0 571.0 622.4 572.5 620.5 574.3 C618.6 576.1 616.8 577.8 615.7 579.8 C614.7 581.8 614.4 583.8 614.2 586.5 C614.0 589.2 614.8 592.3 614.5 595.9 C614.2 599.5 613.8 604.4 612.5 608.3 C611.2 612.2 609.0 616.1 607.0 619.1 C605.0 622.1 602.5 624.5 600.4 626.5 C598.3 628.5 596.3 629.6 594.4 631.3 C592.5 633.0 591.0 634.6 589.1 636.6 C587.2 638.6 585.2 641.1 583.0 643.2 C580.8 645.3 578.5 647.4 575.9 649.3 C573.3 651.2 570.2 652.9 567.5 654.8 C564.8 656.7 561.7 658.3 559.4 660.5 C557.1 662.7 555.0 665.1 553.5 668.0 C552.0 670.9 551.2 674.4 550.4 677.9 C549.6 681.4 549.5 685.5 548.8 689.0 C548.1 692.5 547.6 696.0 546.3 699.2 C545.0 702.4 543.1 705.4 541.2 708.2 C539.3 711.0 537.0 713.4 534.8 716.0 C532.6 718.6 530.4 721.2 528.2 723.6 C526.0 726.0 524.0 728.5 521.6 730.4 C519.2 732.3 516.6 733.9 513.6 734.9 C510.6 735.9 506.9 736.1 503.3 736.5 C499.7 736.9 495.4 736.5 492.0 737.0 C488.6 737.5 485.3 738.3 482.6 739.8 C479.9 741.3 478.1 743.8 475.9 745.8 C473.6 747.8 471.2 749.7 469.1 751.8 C467.0 753.9 464.4 756.9 463.1 758.4 C461.8 759.9 461.4 760.3 461.1 760.7" stroke="#707070" stroke-width="1.39"/>
<path d="M461.1 760.7 C460.1 761.8 457.1 765.1 454.9 767.2 C452.7 769.3 450.4 771.2 448.1 773.1 C445.8 775.0 443.3 776.7 441.0 778.6 C438.7 780.5 436.4 782.5 434.3 784.6 C432.2 786.7 430.2 789.0 428.1 791.2 C426.0 793.4 422.9 796.6 421.9 797.7 C420.9 798.8 421.9 797.7 421.9 797.7" stroke="#c6c6c6" stroke-width="1.39"/>
<path d="M641.4 557.7 C639.8 557.6 634.9 556.8 631.7 557.0 C628.5 557.2 625.3 558.0 622.2 558.9 C619.1 559.8 616.1 560.6 613.1 562.1 C610.1 563.6 606.6 565.4 604.4 568.0 C602.1 570.6 600.8 574.5 599.6 577.6 C598.4 580.7 598.4 584.2 597.0 586.7 C595.6 589.2 593.3 591.2 591.0 592.9 C588.7 594.6 585.6 595.3 583.1 596.8 C580.6 598.3 578.3 600.0 575.8 601.8 C573.3 603.6 570.9 605.9 568.0 607.7 C565.1 609.5 561.4 610.9 558.3 612.5 C555.2 614.1 551.8 615.1 549.6 617.1 C547.4 619.1 546.1 622.0 545.0 624.8 C543.9 627.6 544.0 631.3 543.0 634.1 C542.0 636.9 540.4 639.4 538.8 641.7 C537.2 644.0 534.8 645.6 533.2 648.1 C531.6 650.6 530.5 653.7 529.2 656.6 C527.9 659.5 527.4 663.4 525.5 665.7 C523.6 668.0 520.8 669.5 517.6 670.5 C514.4 671.5 509.8 671.0 506.4 671.6 C503.0 672.2 499.8 672.7 497.0 673.9 C494.2 675.1 492.6 677.3 489.9 678.6 C487.2 679.9 484.2 680.9 481.0 681.7 C477.8 682.5 473.6 682.1 470.8 683.5 C468.0 684.9 465.8 686.9 464.4 689.9 C463.0 692.9 463.3 697.9 462.4 701.5 C461.5 705.1 460.2 708.6 459.2 711.7 C458.2 714.8 457.4 717.4 456.3 720.2 C455.2 723.0 454.1 725.8 452.7 728.5 C451.3 731.2 449.7 733.7 448.2 736.3 C446.7 738.9 445.1 741.5 443.5 744.0 C441.9 746.5 440.4 749.1 438.6 751.5 C436.8 753.9 434.9 756.3 432.7 758.3 C430.5 760.3 428.0 762.1 425.5 763.7 C423.0 765.3 420.3 766.6 417.6 767.9 C414.9 769.2 412.1 770.5 409.3 771.5 C406.5 772.5 402.6 773.7 400.7 774.2 C398.8 774.8 398.3 774.7 397.8 774.8" stroke="#707070" stroke-width="1.39"/>
<path d="M397.8 774.8 C396.3 774.8 391.8 775.2 388.8 775.1 C385.8 775.0 382.8 774.4 379.9 773.9 C376.9 773.4 374.0 772.7 371.1 772.1 C368.2 771.5 365.2 770.9 362.3 770.1 C359.4 769.3 356.6 768.3 353.8 767.2 C351.0 766.1 348.4 764.6 345.7 763.3 C343.0 762.0 340.3 760.5 337.6 759.3 C334.9 758.0 332.1 757.0 329.4 755.8 C326.6 754.6 323.0 753.1 321.1 752.3 C319.2 751.5 318.8 751.2 318.3 751.0" stroke="#c6c6c6" stroke-width="1.39"/>
<path d="M641.5 557.8 C639.9 557.8 635.1 557.4 632.0 557.7 C628.9 558.0 625.5 558.7 622.6 559.8 C619.7 560.9 617.1 562.6 614.5 564.4 C611.9 566.2 609.3 568.4 607.1 570.8 C604.9 573.2 603.0 576.0 601.5 578.7 C600.0 581.4 599.2 584.4 597.9 587.1 C596.6 589.8 595.6 592.6 593.9 594.9 C592.2 597.2 590.1 599.3 587.6 601.0 C585.1 602.7 582.1 603.7 579.0 605.0 C575.9 606.3 572.2 607.2 569.2 608.7 C566.2 610.2 563.0 612.1 560.7 614.3 C558.4 616.4 556.9 619.0 555.4 621.6 C553.9 624.2 553.1 627.4 551.9 630.2 C550.7 633.0 549.7 635.9 548.4 638.6 C547.1 641.3 545.5 643.8 544.0 646.4 C542.5 649.0 540.8 651.5 539.2 654.0 C537.6 656.5 536.1 659.3 534.2 661.6 C532.3 663.9 530.4 666.3 527.8 668.0 C525.2 669.7 522.1 670.8 518.8 671.7 C515.5 672.6 511.4 672.6 508.0 673.2 C504.6 673.8 500.9 674.0 498.1 675.1 C495.3 676.2 493.0 677.9 491.0 680.0 C489.0 682.1 487.6 685.0 486.0 687.7 C484.4 690.4 482.9 693.4 481.3 696.1 C479.7 698.8 477.9 701.4 476.2 704.0 C474.5 706.6 472.8 709.3 471.1 712.0 C469.5 714.7 468.0 717.7 466.3 720.3 C464.6 722.9 462.8 725.3 461.0 727.8 C459.2 730.3 457.6 732.8 455.7 735.1 C453.8 737.4 451.8 739.6 449.7 741.8 C447.6 744.0 445.5 746.1 443.4 748.2 C441.3 750.3 439.2 752.5 437.0 754.5 C434.8 756.5 432.5 758.5 430.0 760.1 C427.5 761.7 424.8 763.1 422.0 764.3 C419.2 765.5 416.4 766.3 413.5 767.1 C410.6 767.9 407.6 768.5 404.7 769.1 C401.8 769.7 398.8 770.2 395.8 770.5 C392.8 770.8 389.8 770.9 386.8 770.7 C383.8 770.5 380.9 769.9 378.0 769.2 C375.1 768.6 371.2 767.3 369.3 766.8 C367.4 766.3 366.9 766.1 366.4 766.0" stroke="#707070" stroke-width="1.39"/>
<path d="M366.4 766.0 C364.9 765.6 360.6 764.5 357.7 763.7 C354.8 762.9 350.9 761.8 349.0 761.3 C347.1 760.8 346.7 760.5 346.2 760.4" stroke="#c6c6c6" stroke-width="1.39"/>
<path d="M641.5 558.1 C640.1 558.7 636.0 560.4 633.3 561.6 C630.6 562.8 628.0 564.1 625.3 565.2 C622.6 566.3 619.6 567.1 616.9 568.4 C614.2 569.7 611.1 570.8 609.0 572.8 C606.9 574.8 605.1 577.5 604.0 580.3 C602.9 583.1 602.9 586.3 602.2 589.4 C601.5 592.5 600.9 596.0 599.6 599.0 C598.3 602.0 596.2 604.7 594.2 607.1 C592.2 609.5 589.6 611.4 587.3 613.3 C585.0 615.2 582.6 616.8 580.3 618.6 C578.0 620.4 575.8 622.3 573.5 624.3 C571.2 626.3 568.9 628.3 566.6 630.4 C564.3 632.5 561.9 634.4 559.9 636.6 C557.9 638.9 556.2 641.2 554.7 643.9 C553.2 646.6 552.3 649.9 551.2 653.0 C550.1 656.1 549.4 659.7 548.1 662.7 C546.8 665.7 545.5 668.6 543.5 670.9 C541.5 673.2 538.9 674.8 536.1 676.3 C533.3 677.8 529.9 678.6 526.9 679.8 C523.9 681.0 520.7 682.2 518.0 683.7 C515.3 685.2 512.8 687.0 510.5 688.9 C508.2 690.8 506.1 693.0 504.1 695.3 C502.1 697.5 500.1 699.9 498.3 702.4 C496.5 704.9 494.9 707.7 493.3 710.5 C491.8 713.3 490.5 716.5 489.0 719.4 C487.5 722.2 486.0 725.2 484.1 727.6 C482.2 730.0 479.6 731.6 477.5 733.7 C475.4 735.8 473.4 738.2 471.2 740.2 C469.0 742.2 466.6 744.1 464.2 745.8 C461.8 747.5 459.1 748.9 456.6 750.5 C454.1 752.1 451.5 753.8 449.0 755.4 C446.5 757.0 444.1 758.9 441.5 760.4 C438.9 761.9 436.2 763.2 433.4 764.2 C430.6 765.2 427.6 765.7 424.7 766.4 C421.8 767.1 418.8 767.8 415.9 768.5 C413.0 769.2 410.1 770.3 407.2 770.9 C404.3 771.5 400.8 772.0 398.3 772.2 C395.8 772.4 393.3 772.2 392.3 772.2" stroke="#707070" stroke-width="1.39"/>
<path d="M392.3 772.2 C390.8 772.2 386.3 771.8 383.3 771.9 C380.3 772.0 377.4 772.4 374.4 772.7 C371.4 773.0 368.5 773.6 365.5 773.8 C362.5 774.0 359.5 774.0 356.5 774.1 C353.5 774.2 350.5 774.0 347.5 774.2 C344.5 774.5 341.6 775.0 338.6 775.6 C335.7 776.2 332.8 777.2 329.8 777.7 C326.9 778.2 323.9 778.4 320.9 778.7 C317.9 779.0 314.8 779.0 311.9 779.4 C308.9 779.8 306.1 780.7 303.2 781.4 C300.3 782.1 296.3 783.0 294.4 783.5 C292.4 784.0 292.0 784.0 291.5 784.1" stroke="#c6c6c6" stroke-width="1.39"/>
<path d="M641.5 558.0 C640.0 558.2 635.5 558.7 632.4 559.1 C629.3 559.5 626.0 559.8 622.9 560.4 C619.8 561.0 616.5 561.6 613.5 562.9 C610.5 564.2 607.1 565.9 604.7 568.3 C602.3 570.7 600.4 574.2 599.0 577.2 C597.6 580.2 597.5 583.6 596.6 586.5 C595.7 589.4 595.0 592.2 593.6 594.7 C592.2 597.2 590.3 599.5 588.2 601.6 C586.1 603.7 583.6 605.4 581.2 607.3 C578.8 609.2 576.2 610.9 573.7 612.8 C571.2 614.7 568.7 616.8 566.2 618.7 C563.7 620.6 561.3 622.5 558.8 624.3 C556.3 626.1 553.6 627.8 551.3 629.7 C548.9 631.6 546.6 633.4 544.7 635.5 C542.8 637.6 541.3 640.0 539.9 642.6 C538.5 645.2 537.6 648.4 536.5 651.4 C535.4 654.4 534.7 657.9 533.4 660.8 C532.1 663.7 530.7 666.7 528.8 669.0 C526.9 671.3 524.4 673.2 521.8 674.8 C519.1 676.3 516.0 677.3 512.9 678.3 C509.8 679.3 506.4 679.9 503.3 680.9 C500.2 681.9 497.4 682.8 494.6 684.1 C491.9 685.4 489.3 686.9 486.8 688.6 C484.3 690.3 481.9 692.2 479.7 694.2 C477.5 696.2 475.4 698.3 473.4 700.6 C471.4 702.9 469.6 705.5 467.8 707.9 C466.0 710.3 464.3 712.8 462.5 715.2 C460.7 717.6 458.9 720.0 457.0 722.3 C455.1 724.6 453.1 726.9 450.9 728.9 C448.7 730.9 446.3 732.8 443.8 734.4 C441.3 736.0 438.5 737.3 435.7 738.4 C432.9 739.5 429.9 740.2 427.0 740.7 C424.1 741.2 421.0 741.4 418.0 741.5 C415.0 741.6 412.0 741.4 409.0 741.3 C406.0 741.1 403.1 740.9 400.1 740.6 C397.1 740.3 393.6 739.9 391.1 739.6 C388.6 739.3 386.2 739.0 385.2 738.9" stroke="#707070" stroke-width="1.39"/>
<path d="M385.2 738.9 C383.7 738.7 379.2 738.1 376.3 737.6 C373.4 737.1 370.4 736.5 367.5 735.8 C364.6 735.1 361.7 734.2 358.8 733.4 C355.9 732.5 352.6 731.5 350.2 730.7 C347.8 729.9 345.4 729.1 344.5 728.8" stroke="#c6c6c6" stroke-width="1.39"/>
<path d="M641.5 558.0 C640.0 558.4 635.6 559.2 632.8 560.2 C630.0 561.2 627.2 562.3 624.6 563.8 C622.0 565.3 619.6 567.3 617.4 569.2 C615.2 571.1 613.5 573.4 611.4 575.3 C609.3 577.2 607.1 578.8 604.9 580.8 C602.7 582.8 600.1 585.0 598.0 587.2 C595.9 589.4 594.3 591.6 592.4 593.8 C590.5 596.0 589.0 598.4 586.8 600.3 C584.6 602.2 581.9 603.6 579.3 605.3 C576.7 607.0 573.5 608.4 571.4 610.7 C569.3 613.0 567.9 616.1 566.8 619.2 C565.7 622.3 565.9 626.1 565.0 629.2 C564.1 632.3 562.9 635.2 561.3 637.7 C559.7 640.2 557.1 642.0 555.2 644.4 C553.3 646.8 551.6 649.2 549.9 651.8 C548.2 654.4 547.2 657.6 545.1 659.8 C543.0 662.0 540.4 663.6 537.3 664.8 C534.2 666.0 529.9 665.9 526.6 666.8 C523.3 667.7 519.9 668.6 517.4 670.3 C514.9 672.0 513.6 674.9 511.6 677.0 C509.6 679.1 507.7 681.4 505.3 683.1 C502.9 684.9 499.7 685.6 497.4 687.5 C495.1 689.4 492.9 691.3 491.5 694.3 C490.1 697.3 490.1 701.9 489.1 705.4 C488.1 708.9 487.5 713.0 485.7 715.5 C483.9 718.0 480.9 719.1 478.3 720.6 C475.7 722.1 472.6 723.2 470.0 724.7 C467.4 726.2 465.1 728.1 462.6 729.8 C460.2 731.5 457.7 733.3 455.3 735.1 C452.9 736.9 450.7 739.0 448.3 740.8 C445.9 742.6 443.4 744.2 440.8 745.7 C438.2 747.2 435.5 748.3 432.8 749.7 C430.1 751.1 427.4 752.5 424.8 754.0 C422.2 755.5 419.7 757.1 417.0 758.4 C414.3 759.7 410.0 761.2 408.6 761.7 C407.2 762.2 408.6 761.7 408.6 761.7" stroke="#707070" stroke-width="1.39"/>
<path d="M408.6 761.7 C407.2 762.1 402.8 763.2 399.9 764.0 C397.0 764.8 394.1 765.5 391.2 766.3 C388.3 767.1 385.5 768.1 382.6 768.8 C379.7 769.4 376.7 769.9 373.7 770.2 C370.7 770.5 367.7 770.4 364.7 770.6 C361.7 770.8 358.7 770.9 355.7 771.2 C352.7 771.5 349.8 772.0 346.8 772.2 C343.8 772.4 340.8 772.5 337.8 772.5 C334.8 772.5 330.3 772.1 328.8 772.0 C327.3 771.9 328.8 772.0 328.8 772.0" stroke="#c6c6c6" stroke-width="1.39"/>
<path d="M641.5 558.0 C640.0 558.3 635.6 559.2 632.7 560.0 C629.8 560.8 627.0 561.8 624.0 562.6 C621.0 563.4 617.9 563.8 614.8 564.9 C611.7 566.0 608.1 567.2 605.6 569.3 C603.1 571.4 601.2 574.8 599.8 577.7 C598.4 580.6 598.3 583.9 597.3 586.8 C596.3 589.6 595.2 592.2 593.8 594.8 C592.4 597.3 590.4 599.6 588.7 602.1 C587.0 604.6 585.5 607.5 583.8 609.9 C582.0 612.3 580.4 614.8 578.2 616.8 C576.0 618.8 573.2 620.3 570.4 621.9 C567.6 623.5 564.1 624.7 561.4 626.4 C558.7 628.1 556.4 630.0 554.3 632.1 C552.2 634.2 550.6 636.7 548.6 638.8 C546.6 640.9 544.3 642.8 542.3 644.9 C540.2 647.0 537.9 648.7 536.3 651.2 C534.7 653.7 533.6 656.9 532.6 660.1 C531.6 663.3 531.3 667.2 530.0 670.2 C528.7 673.2 527.1 675.7 524.9 677.8 C522.7 679.9 519.6 681.0 516.9 682.6 C514.2 684.2 511.5 685.6 508.9 687.2 C506.3 688.8 504.1 690.8 501.3 692.0 C498.5 693.2 495.1 693.9 491.8 694.6 C488.5 695.3 484.3 695.0 481.3 696.1 C478.3 697.2 475.6 698.6 473.7 701.0 C471.8 703.4 471.0 707.2 469.7 710.3 C468.4 713.4 467.0 717.1 465.7 719.5 C464.4 721.9 462.5 723.6 461.9 724.4" stroke="#707070" stroke-width="1.39"/>
<path d="M641.5 558.2 C640.3 559.2 636.3 561.9 634.1 564.1 C631.9 566.3 630.4 569.4 628.3 571.3 C626.2 573.2 623.7 574.5 621.3 575.6 C618.9 576.7 616.1 576.7 613.9 577.9 C611.7 579.1 609.8 580.7 608.1 582.7 C606.4 584.8 605.2 587.5 603.7 590.2 C602.2 592.9 600.4 595.5 599.2 598.7 C598.0 601.9 597.0 605.5 596.3 609.2 C595.6 612.9 595.7 617.7 594.9 621.0 C594.1 624.3 593.2 626.7 591.7 628.9 C590.2 631.1 588.0 632.2 585.8 634.0 C583.6 635.8 581.4 638.1 578.7 639.8 C576.0 641.5 573.1 643.1 569.8 644.4 C566.5 645.7 561.9 646.0 558.9 647.5 C555.9 649.0 553.3 650.8 551.8 653.6 C550.3 656.4 550.4 660.8 549.8 664.4 C549.2 668.0 548.8 672.0 548.0 675.5 C547.2 679.0 546.1 682.0 545.2 685.4 C544.3 688.8 544.2 692.8 542.7 695.7 C541.2 698.6 539.5 701.7 536.4 703.0 C533.2 704.3 528.0 703.6 523.8 703.7 C519.6 703.8 514.3 703.4 511.1 703.5 C507.9 703.6 505.9 704.4 504.8 704.6" stroke="#707070" stroke-width="1.39"/>
<path d="M504.8 704.6 C503.3 704.7 498.8 705.0 495.8 705.3 C492.8 705.6 489.8 705.9 486.9 706.4 C483.9 706.9 481.0 707.6 478.1 708.4 C475.2 709.2 472.4 710.1 469.5 711.0 C466.6 711.9 463.9 712.9 461.0 713.8 C458.1 714.7 455.2 715.6 452.3 716.4 C449.4 717.2 445.1 718.1 443.6 718.4 C442.2 718.7 443.6 718.4 443.6 718.4" stroke="#c6c6c6" stroke-width="1.39"/>
<path d="M641.6 558.3 C640.4 559.3 636.6 562.6 634.3 564.6 C632.0 566.6 630.0 568.5 627.7 570.2 C625.5 571.9 622.9 573.3 620.8 574.8 C618.7 576.3 616.7 577.7 615.1 579.3 C613.5 580.9 612.1 582.4 611.0 584.6 C609.9 586.9 609.3 589.5 608.6 592.8 C607.9 596.1 607.7 600.4 606.8 604.2 C605.9 608.0 604.7 612.2 603.2 615.5 C601.8 618.8 599.8 621.8 598.1 624.2 C596.4 626.6 594.6 628.1 592.9 630.0 C591.1 631.9 589.7 633.5 587.6 635.4 C585.5 637.2 582.9 639.4 580.3 641.1 C577.6 642.9 574.4 644.1 571.7 645.9 C569.0 647.7 566.2 649.5 564.1 651.9 C562.0 654.3 560.7 657.4 559.4 660.5 C558.1 663.6 557.4 667.4 556.4 670.8 C555.4 674.1 554.2 677.5 553.1 680.6 C552.0 683.8 550.8 686.7 549.5 689.7 C548.2 692.7 547.3 695.9 545.5 698.5 C543.7 701.1 541.6 703.8 538.8 705.6 C536.0 707.4 532.2 708.2 528.6 709.1 C525.0 710.0 520.7 710.0 517.4 710.9 C514.1 711.8 511.1 713.0 508.6 714.7 C506.1 716.4 504.1 718.8 502.2 721.2 C500.3 723.6 498.5 726.1 497.0 729.0 C495.5 731.9 494.1 735.8 493.2 738.5 C492.3 741.2 491.7 743.9 491.4 745.0" stroke="#707070" stroke-width="1.39"/>
<path d="M491.4 745.0 C490.9 746.4 489.1 752.2 488.7 753.6 C488.2 755.0 488.7 753.6 488.7 753.6" stroke="#c6c6c6" stroke-width="1.39"/>
<path d="M641.5 557.9 C640.0 558.2 635.6 559.1 632.7 560.0 C629.8 560.9 627.0 561.9 624.2 563.0 C621.4 564.1 618.5 565.1 615.8 566.6 C613.1 568.1 610.6 569.9 608.2 571.9 C605.8 573.9 603.9 576.5 601.6 578.7 C599.3 580.9 596.8 583.4 594.4 585.3 C592.0 587.2 589.4 588.5 587.2 590.1 C585.0 591.7 583.1 593.2 581.1 595.0 C579.1 596.8 577.3 599.0 575.0 601.0 C572.7 603.0 569.9 604.9 567.4 607.1 C564.9 609.3 562.1 611.5 560.2 614.0 C558.4 616.5 557.3 619.4 556.3 622.4 C555.3 625.4 555.2 629.2 554.3 632.2 C553.4 635.2 552.3 638.1 550.7 640.6 C549.1 643.1 546.8 644.9 544.9 647.2 C543.0 649.5 541.2 651.9 539.5 654.4 C537.8 656.9 536.8 660.0 534.8 662.3 C532.8 664.6 530.6 666.6 527.8 668.0 C524.9 669.4 521.0 669.8 517.7 670.6 C514.4 671.5 510.8 671.9 507.9 673.1 C505.0 674.3 502.9 676.1 500.4 677.6 C497.9 679.1 495.6 680.8 492.7 681.9 C489.8 683.0 486.1 683.1 483.0 684.1 C479.9 685.1 476.6 685.8 474.3 687.7 C472.0 689.7 470.7 692.8 469.4 695.8 C468.1 698.8 467.4 702.5 466.6 705.6 C465.8 708.7 465.3 711.4 464.5 714.3 C463.7 717.2 462.8 720.1 461.7 722.9 C460.6 725.7 459.3 728.3 457.9 731.0 C456.5 733.7 455.0 736.3 453.5 738.9 C452.0 741.5 450.5 744.1 449.0 746.7 C447.5 749.3 445.9 752.4 444.6 754.5 C443.3 756.6 441.9 758.8 441.4 759.6" stroke="#707070" stroke-width="1.39"/>
<path d="M441.4 759.6 C440.5 760.8 437.9 764.5 435.8 766.6 C433.7 768.8 431.4 770.8 429.0 772.5 C426.6 774.2 423.9 775.7 421.3 777.1 C418.7 778.5 414.5 780.3 413.1 780.9 C411.7 781.5 413.1 780.9 413.1 780.9" stroke="#c6c6c6" stroke-width="1.39"/>
<path d="M641.5 557.8 C639.9 557.7 635.1 557.1 631.8 557.2 C628.5 557.3 625.1 557.7 621.9 558.4 C618.7 559.1 615.7 560.0 612.6 561.4 C609.5 562.8 606.0 564.5 603.5 567.0 C601.0 569.5 598.7 573.0 597.3 576.1 C595.9 579.2 595.9 582.7 595.1 585.7 C594.3 588.7 594.0 591.5 592.7 594.0 C591.4 596.5 589.4 598.7 587.2 600.6 C585.0 602.5 582.1 603.8 579.4 605.4 C576.7 607.0 573.6 608.4 570.9 610.2 C568.2 612.0 565.5 614.2 563.0 616.1 C560.5 618.0 558.3 620.1 555.8 621.9 C553.3 623.7 550.6 625.4 547.9 627.0 C545.2 628.6 542.2 629.8 539.7 631.3 C537.2 632.8 534.7 634.1 532.7 636.1 C530.8 638.1 529.3 640.3 528.0 643.0 C526.7 645.7 525.9 649.1 524.8 652.2 C523.7 655.3 522.8 658.8 521.5 661.7 C520.2 664.6 518.6 667.3 516.8 669.7 C515.0 672.1 512.9 674.1 510.9 676.3 C508.9 678.4 506.9 680.5 504.8 682.6 C502.7 684.7 500.8 687.0 498.5 688.8 C496.2 690.6 493.8 692.3 490.8 693.4 C487.8 694.5 484.4 695.0 480.7 695.3 C477.0 695.6 472.7 695.1 468.9 695.3 C465.1 695.5 461.2 695.5 458.1 696.4 C455.0 697.3 452.6 699.1 450.0 700.7 C447.4 702.3 445.1 704.1 442.6 705.8 C440.1 707.5 437.6 709.2 435.0 710.7 C432.4 712.2 429.8 713.7 427.2 715.1 C424.6 716.5 421.8 717.7 419.1 719.0 C416.4 720.3 413.6 721.6 410.9 722.8 C408.2 724.0 405.4 725.2 402.7 726.4 C399.9 727.6 397.2 728.9 394.4 730.1 C391.6 731.3 388.4 732.5 386.1 733.4 C383.8 734.3 381.3 735.0 380.4 735.3" stroke="#707070" stroke-width="1.39"/>
<path d="M380.4 735.3 C378.9 735.7 374.6 737.0 371.7 737.6 C368.8 738.2 365.8 738.5 362.8 738.8 C359.8 739.1 356.8 739.2 353.8 739.3 C350.8 739.4 347.8 739.3 344.8 739.3 C341.8 739.3 338.8 739.2 335.8 739.1 C332.8 739.0 329.8 739.0 326.8 738.9 C323.8 738.8 320.3 738.7 317.8 738.6 C315.3 738.5 312.8 738.3 311.8 738.3" stroke="#c6c6c6" stroke-width="1.39"/>
<path d="M641.5 557.9 C640.0 558.1 635.4 558.4 632.5 559.2 C629.6 560.0 626.6 561.0 624.0 562.5 C621.4 564.0 619.0 566.2 616.9 568.3 C614.8 570.4 612.9 572.9 611.2 575.1 C609.5 577.3 608.2 579.4 606.5 581.7 C604.8 584.0 602.8 586.5 600.7 588.7 C598.6 590.9 596.3 592.9 594.0 594.9 C591.7 596.9 589.3 598.6 587.1 600.6 C584.9 602.6 582.9 604.7 581.0 607.0 C579.1 609.3 577.2 611.9 575.5 614.4 C573.8 616.9 572.1 619.5 570.5 622.0 C568.9 624.5 567.3 627.1 565.7 629.7 C564.1 632.3 562.6 634.9 561.0 637.5 C559.4 640.1 558.0 642.8 556.3 645.3 C554.5 647.8 552.8 650.3 550.5 652.3 C548.2 654.3 545.5 656.0 542.6 657.4 C539.8 658.8 536.4 659.5 533.4 660.8 C530.4 662.0 527.1 663.1 524.7 664.9 C522.3 666.7 520.3 669.0 518.8 671.7 C517.3 674.5 516.8 678.0 515.8 681.4 C514.8 684.8 514.4 688.7 513.1 691.8 C511.8 694.9 510.2 697.8 507.9 699.8 C505.6 701.8 502.5 702.8 499.3 703.6 C496.1 704.5 492.0 704.3 488.6 704.9 C485.2 705.5 481.7 705.9 478.8 707.1 C475.9 708.3 473.5 710.1 471.4 712.3 C469.3 714.4 467.8 717.4 466.1 720.0 C464.4 722.6 462.8 725.5 461.3 728.1 C459.8 730.8 458.3 733.3 456.9 735.9 C455.4 738.5 454.1 741.3 452.6 743.9 C451.1 746.5 449.7 749.1 448.0 751.6 C446.3 754.1 444.6 756.5 442.6 758.8 C440.6 761.1 438.4 763.2 436.2 765.2 C434.0 767.2 431.7 769.1 429.3 770.9 C426.9 772.7 424.5 774.4 422.0 776.1 C419.5 777.8 417.0 779.5 414.4 781.0 C411.8 782.5 409.2 784.1 406.5 785.3 C403.8 786.5 399.9 787.7 398.0 788.3 C396.1 788.9 395.6 788.9 395.1 789.0" stroke="#707070" stroke-width="1.39"/>
<path d="M395.1 789.0 C393.6 789.2 389.2 790.0 386.2 790.2 C383.2 790.4 380.2 790.4 377.2 790.4 C374.2 790.4 369.7 790.2 368.2 790.2 C366.7 790.2 368.2 790.2 368.2 790.2" stroke="#c6c6c6" stroke-width="1.39"/>
<path d="M641.5 558.0 C640.1 558.4 635.7 559.4 632.9 560.4 C630.1 561.4 627.3 562.4 624.7 563.9 C622.1 565.4 619.5 567.2 617.5 569.4 C615.5 571.6 613.9 574.3 612.9 576.9 C611.9 579.5 612.0 582.1 611.5 584.8 C611.0 587.5 611.0 590.4 609.7 593.3 C608.5 596.2 606.4 599.6 604.0 602.1 C601.6 604.6 598.1 606.4 595.1 608.0 C592.1 609.6 588.7 610.4 585.8 611.8 C582.9 613.2 579.9 614.4 577.5 616.2 C575.1 618.0 573.0 620.2 571.3 622.6 C569.5 625.0 568.2 627.9 567.0 630.7 C565.8 633.6 564.9 636.6 563.9 639.7 C562.9 642.8 562.0 646.1 561.0 649.3 C560.0 652.5 559.0 655.9 557.8 659.0 C556.6 662.1 555.3 665.4 553.6 668.1 C551.9 670.8 550.1 673.3 547.7 675.2 C545.4 677.1 542.6 678.6 539.5 679.7 C536.4 680.9 532.7 681.4 529.1 682.1 C525.5 682.8 521.5 682.9 518.1 683.8 C514.8 684.6 511.5 685.5 509.0 687.2 C506.5 688.9 504.7 691.3 503.2 694.2 C501.7 697.1 501.0 701.0 500.2 704.7 C499.4 708.4 499.2 712.9 498.4 716.6 C497.6 720.3 496.8 724.1 495.4 727.1 C494.0 730.1 492.1 732.5 489.9 734.5 C487.6 736.5 484.8 737.8 481.9 739.0 C479.0 740.2 475.8 741.0 472.8 741.9 C469.9 742.8 467.1 743.7 464.2 744.4 C461.3 745.1 458.2 745.4 455.3 746.0 C452.4 746.6 449.4 747.0 446.5 747.8 C443.6 748.5 440.8 749.6 437.9 750.5 C435.0 751.4 432.2 752.5 429.3 753.2 C426.4 753.9 422.9 754.2 420.4 754.5 C417.9 754.8 415.4 754.8 414.4 754.8" stroke="#707070" stroke-width="1.39"/>
<path d="M414.4 754.8 C412.9 754.9 408.5 755.0 405.5 755.4 C402.5 755.8 398.6 756.5 396.6 756.9 C394.6 757.2 394.1 757.4 393.6 757.5" stroke="#c6c6c6" stroke-width="1.39"/>
<path d="M310.8 590.0 C311.7 588.8 314.6 585.9 316.6 582.7 C318.5 579.6 320.0 575.4 322.3 571.2 C324.6 566.9 329.4 560.8 330.4 557.3 C331.4 553.9 329.1 553.1 328.1 550.4 C327.1 547.7 325.4 544.1 324.6 541.2 C323.8 538.3 323.5 535.2 323.2 533.1 C323.0 531.0 322.7 530.8 322.9 528.5 C323.1 526.2 323.8 521.7 324.6 519.2 C325.5 516.7 326.7 515.8 328.1 513.5 C329.4 511.2 331.4 508.3 332.7 505.4 C334.1 502.5 334.8 499.2 336.2 496.2 C337.5 493.1 339.3 489.6 340.8 486.9 C342.3 484.2 343.9 482.0 345.4 480.0 C346.9 478.0 348.1 476.1 350.0 474.8 C351.9 473.6 354.3 473.3 356.9 472.5 C359.6 471.7 363.3 471.3 366.2 470.2 C369.1 469.1 371.8 467.3 374.3 466.2 C376.8 465.1 378.9 464.0 381.2 463.6 C383.5 463.2 386.4 463.5 388.1 463.8 C389.8 464.2 391.1 464.7 391.6 465.6 C392.1 466.4 391.7 467.8 391.0 469.0 C390.3 470.3 388.5 471.3 387.5 473.1 C386.6 474.9 386.3 477.7 385.2 480.0 C384.2 482.3 381.9 484.8 381.2 486.9 C380.5 489.0 380.7 491.2 381.2 492.7 C381.7 494.2 383.9 494.8 384.1 496.2 C384.3 497.5 383.4 499.4 382.3 500.8 C381.3 502.1 379.5 502.9 377.7 504.2 C376.0 505.6 372.9 508.1 372.0 508.9" stroke="#c6c6c6" stroke-width="1.39"/>
<path d="M253.1 590.0 C252.1 587.8 248.8 581.0 247.3 576.9 C245.8 572.9 244.5 569.3 243.8 565.4 C243.2 561.6 243.2 557.7 243.3 553.9 C243.4 550.0 243.8 546.2 244.4 542.3 C245.1 538.5 245.9 534.6 247.3 530.8 C248.8 526.9 250.8 522.7 253.1 519.2 C255.4 515.8 258.3 512.9 261.2 510.0 C264.0 507.1 266.9 504.4 270.4 501.9 C273.9 499.4 277.9 496.9 281.9 495.0 C286.0 493.1 290.2 491.6 294.6 490.4 C299.1 489.1 303.9 488.2 308.5 487.5 C313.1 486.8 318.1 486.5 322.3 486.4 C326.6 486.2 330.4 486.4 333.9 486.4 C337.3 486.4 340.2 486.2 343.1 486.4 C346.0 486.5 348.7 486.8 351.2 487.5 C353.7 488.2 356.2 488.9 358.1 490.4 C360.0 491.8 361.7 494.2 362.7 496.2 C363.8 498.1 363.9 500.0 364.4 501.9 C365.0 503.9 365.3 505.6 366.2 507.7 C367.0 509.8 368.5 512.1 369.6 514.6 C370.8 517.1 372.7 520.4 373.1 522.7 C373.5 525.0 372.6 526.7 372.0 528.5 C371.3 530.2 369.7 531.5 369.1 533.1 C368.4 534.7 368.1 537.4 367.9 538.3" stroke="#c6c6c6" stroke-width="1.39"/>
<path d="M262.3 590.0 C261.7 587.8 259.7 581.0 258.9 576.9 C258.0 572.9 257.6 569.3 257.1 565.4 C256.6 561.6 256.2 557.7 256.0 553.9 C255.8 550.0 255.5 545.8 256.0 542.3 C256.4 538.9 257.4 535.8 258.9 533.1 C260.3 530.4 262.5 527.9 264.6 526.2 C266.7 524.4 269.0 523.7 271.5 522.7 C274.0 521.7 277.3 521.4 279.6 520.4 C281.9 519.4 283.9 517.9 285.4 516.9 C286.9 516.0 288.1 515.8 288.9 514.6 C289.6 513.5 289.4 511.6 290.0 510.0 C290.6 508.5 291.2 506.9 292.3 505.4 C293.5 503.9 295.0 502.1 296.9 500.8 C298.9 499.4 301.2 498.6 303.9 497.3 C306.6 496.1 310.0 494.5 313.1 493.3 C316.2 492.0 319.4 490.8 322.3 489.8 C325.2 488.9 327.7 488.0 330.4 487.5 C333.1 487.0 335.6 486.8 338.5 486.9 C341.4 487.0 344.6 487.3 347.7 488.1 C350.8 488.9 353.9 490.2 356.9 491.5 C360.0 492.9 363.1 494.4 366.2 496.2 C369.3 497.9 372.3 500.0 375.4 501.9 C378.5 503.9 382.0 506.0 384.6 507.7 C387.3 509.4 390.4 511.6 391.6 512.3" stroke="#c6c6c6" stroke-width="1.39"/>
<path d="M288.3 515.2 C289.3 515.7 292.4 517.2 294.6 518.1 C296.8 519.0 298.9 519.2 301.6 520.4 C304.2 521.6 308.1 523.3 310.8 525.0 C313.5 526.7 316.0 528.9 317.7 530.8 C319.4 532.7 320.0 534.4 321.2 536.6 C322.3 538.7 323.5 541.2 324.6 543.5 C325.8 545.8 326.9 547.9 328.1 550.4 C329.2 552.9 330.2 555.0 331.6 558.5 C332.9 561.9 334.8 567.3 336.2 571.2 C337.5 575.0 338.6 578.4 339.6 581.6 C340.7 584.7 342.0 588.6 342.5 590.0" stroke="#c6c6c6" stroke-width="1.39"/>
<path d="M330.4 557.3 C331.8 555.6 335.8 550.0 338.5 546.9 C341.2 543.9 344.3 541.2 346.6 538.9 C348.9 536.6 350.9 535.4 352.3 533.1 C353.8 530.8 354.5 528.1 355.2 525.0 C355.9 521.9 356.5 517.9 356.4 514.6 C356.3 511.4 355.7 508.1 354.6 505.4 C353.6 502.7 351.9 499.9 350.0 498.5 C348.1 497.0 345.0 497.3 343.1 496.7 C341.2 496.2 339.8 496.1 338.5 495.0 C337.1 494.0 336.2 491.6 335.0 490.4 C333.9 489.1 332.1 488.0 331.6 487.5" stroke="#c6c6c6" stroke-width="1.39"/>
<path d="M288.3 515.2 C287.8 516.3 286.6 519.3 285.4 521.6 C284.1 523.8 282.3 526.2 280.8 528.5 C279.2 530.8 277.9 533.1 276.2 535.4 C274.4 537.7 271.9 540.0 270.4 542.3 C268.9 544.6 267.8 546.4 266.9 549.2 C266.1 552.1 265.6 556.0 265.2 559.6 C264.8 563.3 264.5 567.7 264.6 571.2 C264.7 574.6 265.2 577.3 265.8 580.4 C266.4 583.5 267.7 588.4 268.1 590.0" stroke="#c6c6c6" stroke-width="1.39"/>
<path d="M346.6 588.5 C347.5 588.1 350.4 586.9 352.3 586.2 C354.3 585.5 356.2 584.5 358.1 584.4 C360.0 584.4 362.5 584.7 363.9 585.6 C365.2 586.5 365.8 589.3 366.2 590.0" stroke="#c6c6c6" stroke-width="1.39"/>
<path d="M267.5 686.9 C266.3 685.7 262.7 682.1 260.3 679.7 C257.9 677.3 255.3 674.9 253.1 672.5 C250.9 670.1 249.0 667.7 247.3 665.3 C245.7 662.9 244.5 660.5 243.0 658.1 C241.6 655.7 240.4 652.8 238.7 650.9 C237.0 649.0 234.8 648.0 232.9 646.6 C231.0 645.1 228.8 643.9 227.1 642.2 C225.5 640.5 223.8 638.9 222.8 636.5 C221.9 634.1 221.7 630.9 221.4 627.8 C221.0 624.7 220.2 621.6 220.7 617.7 C221.1 613.9 222.5 607.5 224.3 604.7 C226.1 602.0 229.1 601.1 231.5 601.1 C233.9 601.1 237.2 602.2 238.7 604.7 C240.1 607.2 240.6 612.9 240.1 616.3 C239.6 619.6 238.4 621.8 235.8 624.9 C233.2 628.0 228.6 632.2 224.3 635.0 C219.9 637.8 214.4 640.1 209.8 641.5 C205.3 642.9 199.0 643.1 196.8 643.4" stroke="#c6c6c6" stroke-width="1.39"/>
<path d="M195.4 645.1 C196.8 646.6 201.7 650.6 204.1 653.8 C206.5 656.9 207.9 660.3 209.8 663.9 C211.8 667.5 213.9 671.6 215.6 675.4 C217.3 679.3 218.5 683.1 219.9 686.9 C221.4 690.8 222.8 694.6 224.3 698.5 C225.7 702.3 227.1 706.2 228.6 710.0 C230.0 713.9 231.2 717.4 232.9 721.6 C234.6 725.7 237.7 732.7 238.7 735.0" stroke="#c6c6c6" stroke-width="1.39"/>
<path d="M194.0 645.8 C195.4 646.4 198.8 647.9 202.6 649.4 C206.5 651.0 212.2 653.3 217.0 655.2 C221.9 657.1 226.7 659.1 231.5 661.0 C236.3 662.9 241.1 664.6 245.9 666.8 C250.7 668.9 255.5 671.6 260.3 674.0 C265.1 676.4 269.9 679.0 274.7 681.2 C279.6 683.3 285.1 685.5 289.2 686.9 C293.3 688.4 295.2 688.6 299.3 689.8 C303.4 691.0 308.6 693.0 313.7 694.2 C318.8 695.4 327.3 696.6 330.0 697.0" stroke="#c6c6c6" stroke-width="1.39"/>
<path d="M194.0 646.6 C193.0 647.8 189.5 650.9 188.2 653.8 C186.9 656.7 186.3 660.7 186.0 663.9 C185.8 667.0 185.9 669.6 186.8 672.5 C187.6 675.4 189.2 678.3 191.1 681.2 C193.0 684.1 195.6 687.2 198.3 689.8 C200.9 692.5 203.6 694.6 206.9 697.0 C210.3 699.4 214.6 702.1 218.5 704.3 C222.3 706.4 226.2 708.1 230.0 710.0 C233.9 712.0 237.7 714.1 241.6 715.8 C245.4 717.5 248.8 718.7 253.1 720.1 C257.4 721.6 262.7 723.3 267.5 724.5 C272.3 725.7 276.7 726.4 282.0 727.3 C287.3 728.3 293.5 729.5 299.3 730.2 C305.0 730.9 311.5 731.3 316.6 731.7 C321.7 732.0 327.8 732.3 330.0 732.4" stroke="#c6c6c6" stroke-width="1.39"/>
<path d="M179.5 653.0 C180.3 654.1 182.7 657.5 183.9 659.5 C185.1 661.6 185.3 663.6 186.8 665.3 C188.2 667.0 190.4 668.2 192.5 669.6 C194.7 671.1 196.8 672.3 199.7 674.0 C202.6 675.6 206.2 677.6 209.8 679.7 C213.4 681.9 217.5 684.5 221.4 686.9 C225.2 689.4 228.8 692.2 232.9 694.2 C237.0 696.1 241.3 697.0 245.9 698.5 C250.5 699.9 255.5 701.9 260.3 702.8 C265.1 703.8 269.9 704.0 274.7 704.3 C279.6 704.5 285.1 704.3 289.2 704.3 C293.3 704.3 297.6 704.3 299.3 704.3" stroke="#c6c6c6" stroke-width="1.39"/>
<path d="M165.1 661.0 C167.3 662.2 173.8 666.0 178.1 668.2 C182.4 670.4 186.8 672.3 191.1 674.0 C195.4 675.6 199.5 676.6 204.1 678.3 C208.6 680.0 213.7 682.1 218.5 684.1 C223.3 686.0 228.1 688.1 232.9 689.8 C237.7 691.5 244.9 693.4 247.3 694.2" stroke="#c6c6c6" stroke-width="1.39"/>
<path d="M142.0 710.0 C144.2 710.5 150.4 712.1 155.0 712.9 C159.6 713.8 164.6 714.5 169.4 715.1 C174.2 715.7 179.1 715.9 183.9 716.5 C188.7 717.1 193.5 717.8 198.3 718.7 C203.1 719.5 207.9 720.6 212.7 721.6 C217.5 722.5 222.3 723.5 227.1 724.5 C232.0 725.4 236.0 726.1 241.6 727.3 C247.1 728.5 254.8 730.4 260.3 731.7 C265.9 732.9 272.3 734.4 274.7 735.0" stroke="#c6c6c6" stroke-width="1.39"/>
<path d="M139.1 718.7 C139.4 719.9 139.9 723.2 140.6 725.9 C141.3 728.6 143.0 733.5 143.5 735.0" stroke="#c6c6c6" stroke-width="1.39"/>
<path d="M243.0 560.0 C244.2 563.6 246.6 573.7 250.2 581.6 C253.8 589.6 259.4 599.7 264.7 607.6 C269.9 615.5 276.7 622.8 282.0 629.2 C287.3 635.7 291.6 641.3 296.4 646.6 C301.2 651.8 308.4 658.6 310.8 661.0" stroke="#c6c6c6" stroke-width="1.39"/>
<path d="M257.4 560.0 C258.9 564.8 262.0 579.2 266.1 588.9 C270.2 598.5 276.4 609.0 282.0 617.7 C287.5 626.4 294.5 635.0 299.3 640.8 C304.1 646.6 308.9 650.4 310.8 652.3" stroke="#c6c6c6" stroke-width="1.39"/>
<path d="M266.1 560.0 C267.1 563.6 269.2 574.4 271.9 581.6 C274.5 588.9 278.4 596.8 282.0 603.3 C285.6 609.8 289.7 615.3 293.5 620.6 C297.3 625.9 303.1 632.6 305.0 635.0" stroke="#c6c6c6" stroke-width="1.39"/>
<path d="M218.5 694.2 C219.4 695.6 222.3 699.9 224.3 702.8 C226.2 705.7 228.1 708.3 230.0 711.5 C232.0 714.6 234.1 717.7 235.8 721.6 C237.5 725.5 239.4 732.7 240.1 735.0" stroke="#c6c6c6" stroke-width="1.39"/>
<path d="M222.8 672.5 C224.0 673.7 227.4 677.3 230.0 679.7 C232.7 682.1 235.3 684.5 238.7 686.9 C242.1 689.4 246.4 692.1 250.2 694.2 C254.1 696.2 257.7 697.9 261.8 699.2 C265.9 700.5 270.2 701.3 274.7 702.1 C279.3 702.9 284.1 703.8 289.2 704.3 C294.2 704.7 298.6 705.0 305.0 705.0 C311.5 705.0 324.3 704.4 328.1 704.3" stroke="#707070" stroke-width="1.39"/>
<path d="M235.8 725.9 C238.2 726.5 244.9 728.4 250.2 729.5 C255.5 730.6 261.8 731.8 267.5 732.4 C273.3 733.0 279.6 733.1 284.8 733.1 C290.1 733.1 294.5 732.9 299.3 732.4 C304.1 731.9 311.3 730.6 313.7 730.2" stroke="#707070" stroke-width="1.39"/>
<path d="M313.7 630.0 C312.3 630.2 308.4 630.4 305.0 631.4 C301.7 632.4 297.3 633.5 293.5 635.7 C289.7 638.0 285.3 641.4 282.0 645.1 C278.6 648.8 275.5 653.5 273.3 658.1 C271.1 662.7 269.7 667.7 269.0 672.5 C268.3 677.3 268.3 682.1 269.0 686.9 C269.7 691.8 271.4 696.6 273.3 701.4 C275.2 706.2 277.9 711.2 280.5 715.8 C283.2 720.4 287.0 725.6 289.2 728.8 C291.3 732.0 292.8 734.0 293.5 735.0" stroke="#808000" stroke-width="1.39"/>
<path d="M201.2 598.9 C201.9 598.3 204.2 596.1 205.5 595.3 C206.8 594.6 208.3 595.2 209.1 594.6 C210.0 594.1 210.0 592.5 210.6 592.0 C211.2 591.6 212.2 591.6 212.7 592.0 C213.2 592.4 213.0 593.8 213.4 594.3 C213.9 594.9 214.4 595.1 215.6 595.3 C216.8 595.6 219.6 596.2 220.7 596.1 C221.7 595.9 221.6 594.6 222.1 594.6 C222.6 594.6 222.7 595.7 223.5 596.1 C224.4 596.4 225.9 596.8 227.1 596.8 C228.3 596.8 230.0 596.5 230.8 596.1 C231.5 595.6 230.9 594.3 231.5 593.9 C232.1 593.5 233.7 593.2 234.4 593.5 C235.0 593.8 235.6 595.1 235.5 595.8 C235.4 596.5 233.6 597.3 233.6 597.8 C233.7 598.3 235.0 598.0 235.8 598.9 C236.6 599.9 238.0 602.0 238.7 603.3 C239.4 604.6 239.6 606.5 240.1 606.9 C240.7 607.2 241.3 605.5 241.9 605.4 C242.5 605.4 243.6 605.9 243.7 606.5 C243.9 607.0 243.2 608.0 242.7 608.5 C242.2 608.9 241.2 608.2 240.8 609.0 C240.5 609.9 240.5 611.7 240.8 613.4 C241.2 615.1 241.9 617.5 243.0 619.1 C244.1 620.8 245.7 622.5 247.3 623.5 C249.0 624.4 251.2 624.6 253.1 624.9 C255.0 625.3 257.3 624.9 258.9 625.6 C260.4 626.4 261.6 627.7 262.5 629.2 C263.3 630.8 263.1 633.3 263.9 635.0 C264.8 636.7 265.7 638.1 267.5 639.3 C269.3 640.5 272.3 641.3 274.7 642.2 C277.2 643.2 279.6 643.9 282.0 645.1 C284.4 646.3 286.8 647.8 289.2 649.4 C291.6 651.1 293.7 653.3 296.4 655.2 C299.0 657.1 301.7 659.1 305.0 661.0 C308.4 662.9 312.4 665.1 316.6 666.8 C320.7 668.4 327.8 670.4 330.0 671.1" stroke="#e6e264" stroke-width="1.39"/>
<path d="M202.6 609.8 C203.8 610.9 207.4 614.2 209.8 616.3 C212.2 618.3 214.6 620.3 217.0 622.0 C219.4 623.7 221.9 625.4 224.3 626.4 C226.7 627.3 229.1 627.7 231.5 627.8 C233.9 627.9 236.3 627.4 238.7 627.1 C241.1 626.7 243.5 626.0 245.9 625.6 C248.3 625.3 251.9 625.0 253.1 624.9" stroke="#e6e264" stroke-width="1.39"/>
<path d="M330.0 594.6 C328.7 594.1 325.6 592.4 322.4 591.7 C319.2 591.1 315.6 590.7 310.8 590.6 C306.0 590.5 299.0 590.1 293.5 591.0 C288.0 591.9 282.4 593.5 277.6 596.1 C272.8 598.6 268.3 602.1 264.7 606.2 C261.0 610.3 257.9 615.3 256.0 620.6 C254.1 625.9 253.2 632.1 253.1 637.9 C253.0 643.7 253.8 649.7 255.3 655.2 C256.7 660.7 259.0 666.5 261.8 671.1 C264.5 675.6 267.8 679.5 271.9 682.6 C276.0 685.7 281.2 688.3 286.3 689.8 C291.3 691.4 297.1 692.0 302.2 692.0 C307.2 692.0 311.9 691.2 316.6 689.8 C321.2 688.5 327.8 685.0 330.0 684.1" stroke="#e6e264" stroke-width="1.39"/>
<path d="M228.6 701.4 C230.0 701.6 235.0 701.4 237.2 702.8 C239.5 704.3 241.3 707.6 242.3 710.0 C243.3 712.4 243.5 714.8 243.0 717.2 C242.5 719.6 241.1 722.5 239.4 724.5 C237.7 726.4 235.2 727.8 232.9 728.8 C230.6 729.7 228.1 730.5 225.7 730.2 C223.3 730.0 220.4 729.0 218.5 727.3 C216.6 725.7 214.9 722.8 214.2 720.1 C213.4 717.5 213.6 713.9 214.2 711.5 C214.8 709.1 216.1 707.3 217.8 705.7 C219.4 704.1 222.5 702.8 224.3 702.1 C226.1 701.4 227.9 701.5 228.6 701.4" stroke="#e6e264" stroke-width="1.39"/>
<path d="M227.1 712.9 C228.1 711.7 231.0 707.4 232.9 705.7 C234.8 704.0 236.8 703.4 238.7 702.8 C240.6 702.2 242.8 702.8 244.5 702.1 C246.1 701.4 247.5 699.7 248.8 698.5 C250.1 697.3 251.7 696.2 252.4 694.9 C253.1 693.6 253.5 691.6 253.1 690.6 C252.7 689.5 251.2 688.4 250.2 688.4 C249.3 688.4 247.7 689.6 247.3 690.6 C247.0 691.5 247.1 693.6 248.1 694.2 C249.0 694.8 251.3 694.6 253.1 694.2 C254.9 693.7 256.7 692.5 258.9 691.3 C261.0 690.1 263.9 688.4 266.1 686.9 C268.3 685.5 270.9 683.3 271.9 682.6" stroke="#e6e264" stroke-width="1.39"/>
<path d="M261.0 669.6 C261.4 668.7 261.9 664.9 263.2 663.9 C264.5 662.8 267.3 662.7 269.0 663.1 C270.7 663.6 272.5 664.9 273.3 666.8 C274.1 668.6 274.5 671.8 274.0 674.0 C273.5 676.1 272.0 678.5 270.4 679.7 C268.9 680.9 265.6 680.9 264.7 681.2" stroke="#e6e264" stroke-width="1.39"/>
<path d="M284.8 661.0 C285.8 659.5 288.2 654.5 290.6 652.3 C293.0 650.2 296.1 648.5 299.3 648.0 C302.4 647.5 306.7 649.7 309.4 649.4 C312.0 649.2 313.9 646.6 315.1 646.6 C316.3 646.6 317.1 648.5 316.6 649.4 C316.1 650.4 313.7 650.9 312.3 652.3 C310.8 653.8 309.1 655.7 307.9 658.1 C306.7 660.5 305.0 663.9 305.0 666.8 C305.0 669.6 306.0 673.0 307.9 675.4 C309.9 677.8 315.1 680.2 316.6 681.2" stroke="#e6e264" stroke-width="1.39"/>
<path d="M270.0 633.5 C271.5 633.7 275.8 634.6 279.2 634.6 C282.7 634.6 286.9 633.5 290.8 633.5 C294.6 633.5 298.5 634.0 302.3 634.6 C306.2 635.2 310.4 635.6 313.9 636.9 C317.3 638.3 320.4 640.4 323.1 642.7 C325.8 645.0 328.1 647.9 330.0 650.8 C331.9 653.7 333.3 656.9 334.6 660.0 C336.0 663.1 337.5 666.2 338.1 669.2 C338.7 672.3 338.7 675.8 338.1 678.5 C337.5 681.2 336.4 683.5 334.6 685.4 C332.9 687.3 330.4 689.1 327.7 690.0 C325.0 691.0 321.5 691.4 318.5 691.2 C315.4 691.0 311.9 690.2 309.2 688.9 C306.5 687.5 304.0 685.4 302.3 683.1 C300.6 680.8 299.4 677.9 298.9 675.0 C298.3 672.1 298.3 668.7 298.9 665.8 C299.4 662.9 300.6 659.8 302.3 657.7 C304.0 655.6 306.5 654.0 309.2 653.1 C311.9 652.1 315.4 651.5 318.5 651.9 C321.5 652.3 325.0 653.7 327.7 655.4 C330.4 657.1 333.5 661.2 334.6 662.3" stroke="#e6e264" stroke-width="1.39"/>
<path d="M339.2 603.5 C340.0 604.8 342.3 608.8 343.9 611.5 C345.4 614.2 346.6 617.1 348.5 619.6 C350.4 622.1 352.7 624.4 355.4 626.5 C358.1 628.7 361.6 631.0 364.6 632.3 C367.7 633.7 371.4 633.7 373.9 634.6 C376.4 635.6 377.9 636.4 379.6 638.1 C381.4 639.8 382.7 642.5 384.3 645.0 C385.8 647.5 387.7 650.4 388.9 653.1 C390.0 655.8 390.7 658.7 391.2 661.2 C391.7 663.7 392.1 666.0 391.8 668.1 C391.4 670.2 390.3 672.3 388.9 673.9 C387.4 675.4 385.6 676.5 383.1 677.3 C380.6 678.2 377.3 678.7 373.9 679.1 C370.4 679.4 366.2 679.6 362.3 679.6 C358.5 679.6 354.2 679.1 350.8 679.1 C347.3 679.1 344.2 679.1 341.6 679.6 C338.9 680.1 336.6 681.0 334.6 681.9 C332.7 682.9 330.8 684.8 330.0 685.4" stroke="#e6e264" stroke-width="1.39"/>
<path d="M303.5 657.7 C304.0 657.1 305.8 655.2 306.9 654.2 C308.1 653.3 309.2 652.5 310.4 651.9 C311.5 651.4 312.9 651.4 313.9 650.8 C314.8 650.2 315.9 649.1 316.2 648.5 C316.5 647.8 316.1 646.9 315.6 646.7 C315.1 646.5 313.8 646.8 313.3 647.3 C312.8 647.8 312.5 648.9 312.7 649.6 C312.9 650.4 313.7 651.4 314.4 651.9 C315.2 652.5 316.3 652.7 317.3 653.1 C318.4 653.5 320.2 654.0 320.8 654.2" stroke="#e6e264" stroke-width="1.39"/>
<path d="M270.0 690.0 C271.9 690.4 277.7 691.4 281.5 692.3 C285.4 693.3 289.2 694.8 293.1 695.8 C296.9 696.7 300.8 697.5 304.6 698.1 C308.5 698.7 312.7 699.6 316.2 699.2 C319.6 698.9 322.7 697.1 325.4 695.8 C328.1 694.4 330.0 692.3 332.3 691.2 C334.6 690.0 336.6 689.4 339.2 688.9 C341.9 688.3 345.4 687.7 348.5 687.7 C351.6 687.7 355.4 688.1 357.7 688.9 C360.0 689.6 361.7 691.2 362.3 692.3 C362.9 693.5 362.1 695.4 361.2 695.8 C360.2 696.2 357.3 694.8 356.6 694.6" stroke="#e6e264" stroke-width="1.39"/>
<path d="M283.8 657.7 C284.4 659.6 285.8 665.4 287.3 669.2 C288.8 673.1 290.6 677.3 293.1 680.8 C295.6 684.2 298.9 687.5 302.3 690.0 C305.8 692.5 310.0 694.4 313.9 695.8 C317.7 697.1 321.9 696.7 325.4 698.1 C328.9 699.4 331.9 701.8 334.6 703.9 C337.3 706.0 338.9 708.7 341.6 710.8 C344.2 712.9 347.3 715.0 350.8 716.6 C354.2 718.1 358.5 719.1 362.3 720.0 C366.2 721.0 370.0 721.6 373.9 722.3 C377.7 723.1 381.6 723.9 385.4 724.6 C389.3 725.4 393.1 726.4 396.9 726.9 C400.8 727.5 406.6 727.9 408.5 728.1" stroke="#e6e264" stroke-width="1.39"/>
<path d="M270.0 643.9 C271.2 645.0 274.6 648.1 276.9 650.8 C279.2 653.5 281.2 656.9 283.8 660.0 C286.5 663.1 289.6 666.6 293.1 669.2 C296.5 671.9 300.8 674.2 304.6 676.2 C308.5 678.1 312.3 679.6 316.2 680.8 C320.0 681.9 325.8 682.7 327.7 683.1" stroke="#e6e264" stroke-width="1.39"/>
<path d="M325.4 710.8 C326.2 711.6 328.1 713.9 330.0 715.4 C331.9 716.9 334.4 718.9 336.9 720.0 C339.4 721.2 342.3 722.1 345.0 722.3 C347.7 722.5 350.6 721.9 353.1 721.2 C355.6 720.4 358.1 719.1 360.0 717.7 C361.9 716.4 363.1 714.6 364.6 713.1 C366.2 711.6 367.7 710.0 369.2 708.5 C370.8 706.9 372.3 705.0 373.9 703.9 C375.4 702.7 376.9 701.6 378.5 701.6 C380.0 701.6 381.9 702.7 383.1 703.9 C384.3 705.0 385.0 707.7 385.4 708.5" stroke="#e6e264" stroke-width="1.39"/>
<path d="M270.0 724.6 C271.9 725.0 277.7 726.4 281.5 726.9 C285.4 727.5 289.2 728.1 293.1 728.1 C296.9 728.1 301.2 727.7 304.6 726.9 C308.1 726.2 311.2 725.0 313.9 723.5 C316.5 721.9 318.9 719.8 320.8 717.7 C322.7 715.6 324.6 711.9 325.4 710.8" stroke="#e6e264" stroke-width="1.39"/>
<path d="M279.2 703.9 C280.0 705.0 281.9 708.5 283.8 710.8 C285.8 713.1 288.1 715.8 290.8 717.7 C293.5 719.6 296.9 721.2 300.0 722.3 C303.1 723.5 307.7 724.3 309.2 724.6" stroke="#e6e264" stroke-width="1.39"/>
<path d="M316.2 664.6 C316.9 665.4 319.8 667.3 320.8 669.2 C321.7 671.2 322.3 674.1 321.9 676.2 C321.5 678.3 320.0 680.8 318.5 681.9 C316.9 683.1 314.2 683.7 312.7 683.1 C311.2 682.5 309.6 680.4 309.2 678.5 C308.9 676.6 309.2 673.3 310.4 671.6 C311.5 669.8 314.0 668.5 316.2 668.1 C318.3 667.7 321.2 668.3 323.1 669.2 C325.0 670.2 326.9 673.1 327.7 673.9" stroke="#e6e264" stroke-width="1.39"/>
<path d="M285.0 638.1 C286.9 638.7 292.7 639.8 296.5 641.5 C300.4 643.3 304.6 645.8 308.1 648.5 C311.5 651.2 315.0 654.4 317.3 657.7 C319.6 661.0 321.4 664.6 321.9 668.1 C322.5 671.6 321.9 675.4 320.8 678.5 C319.6 681.6 317.5 684.6 315.0 686.6 C312.5 688.5 308.9 689.8 305.8 690.0 C302.7 690.2 299.2 689.2 296.5 687.7 C293.9 686.2 291.4 683.5 289.6 680.8 C287.9 678.1 286.7 674.6 286.2 671.6 C285.6 668.5 285.4 665.2 286.2 662.3 C286.9 659.4 290.0 655.6 290.8 654.2" stroke="#e6e264" stroke-width="1.39"/>
<path d="M313.9 630.0 C312.3 630.2 307.7 630.4 304.6 631.2 C301.5 631.9 298.5 633.1 295.4 634.6 C292.3 636.2 289.0 638.1 286.2 640.4 C283.3 642.7 280.4 645.2 278.1 648.5 C275.8 651.7 273.7 655.8 272.3 660.0 C271.0 664.2 270.4 671.6 270.0 673.9" stroke="#808000" stroke-width="1.39"/>
<path d="M270.0 694.6 C270.6 696.2 271.9 700.6 273.5 703.9 C275.0 707.1 276.9 710.8 279.2 714.3 C281.5 717.7 284.4 721.4 287.3 724.6 C290.2 727.9 294.0 731.3 296.5 733.9 C299.0 736.4 301.4 739.0 302.3 740.0" stroke="#808000" stroke-width="1.39"/>
<path d="M361.2 669.2 C361.7 670.8 363.5 675.4 364.6 678.5 C365.8 681.6 366.9 684.6 368.1 687.7 C369.2 690.8 370.4 694.2 371.6 696.9 C372.7 699.6 373.5 701.6 375.0 703.9 C376.6 706.2 378.7 708.5 380.8 710.8 C382.9 713.1 385.4 715.6 387.7 717.7 C390.0 719.8 392.3 721.8 394.6 723.5 C396.9 725.2 399.3 726.6 401.6 728.1 C403.9 729.6 407.3 731.9 408.5 732.7" stroke="#808000" stroke-width="1.39"/>
<path d="M291.9 696.4 C293.3 696.8 297.5 698.3 300.0 699.2 C302.5 700.2 304.6 701.4 306.9 702.1 C309.2 702.9 312.7 703.6 313.9 703.9" stroke="#808000" stroke-width="1.39"/>
<path d="M270.0 616.2 C271.9 618.8 277.7 626.9 281.5 632.3 C285.4 637.7 289.2 643.5 293.1 648.5 C296.9 653.5 300.8 658.1 304.6 662.3 C308.5 666.6 312.3 670.4 316.2 673.9 C320.0 677.3 323.9 680.2 327.7 683.1 C331.6 686.0 335.4 688.7 339.2 691.2 C343.1 693.7 346.6 696.0 350.8 698.1 C355.0 700.2 359.8 702.1 364.6 703.9 C369.4 705.6 374.3 707.1 379.6 708.5 C385.0 709.8 394.1 711.4 396.9 711.9" stroke="#c6c6c6" stroke-width="1.39"/>
<path d="M276.9 600.0 C278.3 602.9 281.9 611.2 285.0 617.3 C288.1 623.5 291.7 630.6 295.4 636.9 C299.0 643.3 303.1 650.0 306.9 655.4 C310.8 660.8 314.6 665.0 318.5 669.2 C322.3 673.5 325.8 677.1 330.0 680.8 C334.2 684.4 338.9 688.1 343.9 691.2 C348.9 694.2 354.6 696.9 360.0 699.2 C365.4 701.6 373.5 704.1 376.2 705.0" stroke="#c6c6c6" stroke-width="1.39"/>
<path d="M304.6 615.0 C304.8 617.3 305.8 624.2 305.8 628.9 C305.8 633.5 305.0 638.5 304.6 642.7 C304.2 646.9 303.1 650.6 303.5 654.2 C303.9 657.9 305.2 661.4 306.9 664.6 C308.7 667.9 312.7 672.3 313.9 673.9" stroke="#c6c6c6" stroke-width="1.39"/>
<path d="M316.2 620.8 C317.7 621.9 322.3 625.0 325.4 627.7 C328.5 630.4 331.9 633.9 334.6 636.9 C337.3 640.0 339.2 643.1 341.6 646.2 C343.9 649.2 346.6 652.3 348.5 655.4 C350.4 658.5 352.1 661.6 353.1 664.6 C354.1 667.7 354.6 671.2 354.2 673.9 C353.9 676.6 351.4 679.6 350.8 680.8" stroke="#c6c6c6" stroke-width="1.39"/>
<path d="M332.3 615.0 C332.4 617.3 332.9 624.6 332.9 628.9 C332.9 633.1 332.0 636.5 332.3 640.4 C332.6 644.2 333.5 648.3 334.6 651.9 C335.8 655.6 337.7 659.0 339.2 662.3 C340.8 665.6 342.7 668.5 343.9 671.6 C345.0 674.6 345.8 679.2 346.2 680.8" stroke="#c6c6c6" stroke-width="1.39"/>
<path d="M270.0 669.2 C271.9 670.0 277.7 671.9 281.5 673.9 C285.4 675.8 288.8 678.5 293.1 680.8 C297.3 683.1 302.3 685.6 306.9 687.7 C311.5 689.8 316.2 691.7 320.8 693.5 C325.4 695.2 329.6 696.7 334.6 698.1 C339.6 699.4 345.2 700.6 350.8 701.6 C356.4 702.5 362.3 703.4 368.1 703.9 C373.9 704.3 379.6 704.4 385.4 704.4 C391.2 704.4 396.9 704.3 402.7 703.9 C408.5 703.4 417.1 701.9 420.0 701.6" stroke="#c6c6c6" stroke-width="1.39"/>
<path d="M270.0 699.2 C272.9 699.6 281.5 700.8 287.3 701.6 C293.1 702.3 298.9 703.2 304.6 703.9 C310.4 704.5 316.2 705.2 321.9 705.6 C327.7 706.0 333.5 706.2 339.2 706.2 C345.0 706.2 350.8 706.0 356.6 705.6 C362.3 705.2 368.1 704.5 373.9 703.9 C379.6 703.2 385.4 702.5 391.2 701.6 C396.9 700.6 402.7 699.6 408.5 698.1 C414.3 696.6 420.0 694.4 425.8 692.3 C431.6 690.2 437.3 687.7 443.1 685.4 C448.9 683.1 457.5 679.6 460.4 678.5" stroke="#c6c6c6" stroke-width="1.39"/>
<path d="M270.0 715.4 C272.9 715.6 281.5 716.2 287.3 716.6 C293.1 716.9 298.9 717.5 304.6 717.7 C310.4 717.9 316.2 717.9 321.9 717.7 C327.7 717.5 333.5 717.1 339.2 716.6 C345.0 716.0 350.8 715.2 356.6 714.3 C362.3 713.3 368.1 711.9 373.9 710.8 C379.6 709.6 385.4 708.7 391.2 707.3 C396.9 706.0 402.7 704.4 408.5 702.7 C414.3 701.0 422.9 697.9 425.8 696.9" stroke="#c6c6c6" stroke-width="1.39"/>
<path d="M412.0 673.9 C412.1 675.0 412.7 678.5 413.1 680.8 C413.5 683.1 414.2 685.4 414.3 687.7 C414.4 690.0 413.8 693.5 413.7 694.6" stroke="#c6c6c6" stroke-width="1.39"/>
<path d="M364.6 600.0 C364.7 600.6 365.3 602.5 365.2 603.5 C365.1 604.4 364.0 605.5 364.1 605.8 C364.2 606.1 365.5 605.3 365.8 605.2" stroke="#c6c6c6" stroke-width="1.39"/>
<path d="M310.4 666.9 C311.4 668.9 314.2 674.6 316.2 678.5 C318.1 682.3 319.6 686.4 321.9 690.0 C324.2 693.7 327.1 697.3 330.0 700.4 C332.9 703.5 335.8 706.0 339.2 708.5 C342.7 711.0 346.6 713.3 350.8 715.4 C355.0 717.5 362.3 720.2 364.6 721.2" stroke="#707070" stroke-width="1.39"/>
<path d="M270.0 733.9 C272.9 733.7 281.5 733.1 287.3 732.7 C293.1 732.3 298.9 731.9 304.6 731.6 C310.4 731.2 316.2 731.0 321.9 730.4 C327.7 729.8 333.5 729.1 339.2 728.1 C345.0 727.1 350.8 726.0 356.6 724.6 C362.3 723.3 371.0 720.8 373.9 720.0" stroke="#707070" stroke-width="1.39"/>
<path d="M143.0 709.1 C146.2 709.7 155.6 711.6 162.2 712.8 C168.7 714.0 175.3 715.4 182.3 716.4 C189.3 717.5 197.5 718.1 204.2 719.2 C210.9 720.2 217.3 721.6 222.5 722.8 C227.6 724.0 233.1 725.9 235.3 726.5" stroke="#c6c6c6" stroke-width="1.39"/>
<path d="M139.4 718.3 C139.8 720.1 140.7 725.6 142.1 729.2 C143.5 732.9 145.1 736.8 147.6 740.2 C150.0 743.5 153.4 747.0 156.7 749.3 C160.1 751.6 163.4 753.3 167.7 753.9 C171.9 754.5 176.8 753.4 182.3 753.0 C187.8 752.5 194.5 751.8 200.5 751.1 C206.6 750.5 212.7 750.1 218.8 749.3 C224.9 748.6 231.3 747.9 237.1 746.6 C242.9 745.2 248.0 743.1 253.5 741.1 C259.0 739.1 264.8 736.7 270.0 734.7 C275.1 732.7 279.7 730.9 284.6 729.2 C289.4 727.5 293.7 726.0 299.2 724.7 C304.7 723.3 311.4 722.1 317.4 721.0 C323.5 719.9 332.7 718.7 335.7 718.3" stroke="#c6c6c6" stroke-width="1.39"/>
<path d="M229.8 700.0 C230.1 701.8 230.7 707.3 231.6 711.0 C232.5 714.6 233.7 718.0 235.3 721.9 C236.8 725.9 238.9 730.4 240.7 734.7 C242.6 739.0 244.5 743.2 246.2 747.5 C247.9 751.8 249.6 756.3 250.8 760.3 C252.0 764.2 251.5 768.5 253.5 771.2 C255.5 774.0 259.3 775.2 262.6 776.7 C266.0 778.2 270.6 780.4 273.6 780.4 C276.7 780.4 278.2 778.5 280.9 776.7 C283.7 774.9 287.0 772.1 290.0 769.4 C293.1 766.7 296.1 763.6 299.2 760.3 C302.2 756.9 305.6 753.3 308.3 749.3 C311.1 745.4 314.4 738.7 315.6 736.5" stroke="#c6c6c6" stroke-width="1.39"/>
<path d="M246.2 754.8 C247.4 756.0 250.8 759.4 253.5 762.1 C256.3 764.8 259.3 768.5 262.6 771.2 C266.0 774.0 269.6 776.7 273.6 778.5 C277.6 780.4 282.1 781.1 286.4 782.2 C290.7 783.3 294.0 784.3 299.2 784.9 C304.4 785.5 311.4 786.0 317.4 785.8 C323.5 785.7 332.7 784.3 335.7 784.0" stroke="#c6c6c6" stroke-width="1.39"/>
<path d="M237.1 778.5 C239.5 778.1 246.2 776.4 251.7 775.8 C257.2 775.2 263.9 774.9 270.0 774.9 C276.0 774.9 282.1 775.2 288.2 775.8 C294.3 776.4 300.4 777.8 306.5 778.5 C312.6 779.3 318.7 780.4 324.7 780.4 C330.8 780.4 336.9 779.8 343.0 778.5 C349.1 777.3 358.2 774.0 361.3 773.1" stroke="#c6c6c6" stroke-width="1.39"/>
<path d="M303.7 795.0 C306.0 794.4 312.7 792.5 317.4 791.3 C322.2 790.1 327.2 788.6 332.1 787.7 C336.9 786.8 341.8 785.5 346.7 785.8 C351.5 786.1 356.4 788.6 361.3 789.5 C366.1 790.4 371.0 790.9 375.9 791.3 C380.8 791.8 388.1 792.1 390.5 792.2" stroke="#c6c6c6" stroke-width="1.39"/>
<path d="M207.9 700.0 C210.3 701.8 217.6 707.6 222.5 711.0 C227.3 714.3 231.6 717.4 237.1 720.1 C242.6 722.8 249.3 725.4 255.3 727.4 C261.4 729.4 270.6 731.2 273.6 732.0" stroke="#c6c6c6" stroke-width="1.39"/>
<path d="M361.3 791.3 C361.0 793.2 359.5 798.6 359.5 802.3 C359.5 805.9 360.1 809.6 361.3 813.2 C362.5 816.9 364.9 820.2 366.8 824.2 C368.6 828.2 371.3 834.9 372.2 837.0" stroke="#c6c6c6" stroke-width="1.39"/>
<path d="M375.9 791.3 C375.6 793.2 375.0 798.6 374.1 802.3 C373.2 805.9 371.2 809.3 370.4 813.2 C369.6 817.2 369.2 822.4 369.5 826.0 C369.8 829.7 371.8 833.6 372.2 835.2" stroke="#c6c6c6" stroke-width="1.39"/>
<path d="M235.3 726.5 C238.3 727.2 247.4 729.7 253.5 731.1 C259.6 732.4 266.3 733.6 271.8 734.3 C277.3 735.1 280.3 735.9 286.4 735.6 C292.5 735.4 300.1 734.6 308.3 732.9 C316.5 731.2 328.1 727.2 335.7 725.6 C343.3 724.0 346.4 723.4 354.0 723.4 C361.6 723.4 373.7 724.6 381.4 725.6 C389.0 726.5 396.9 728.6 400.0 729.2" stroke="#707070" stroke-width="1.39"/>
<path d="M370.4 776.7 L379.5 787.7 L389.6 796.8 L400.0 791.3" stroke="#707070" stroke-width="1.39"/>
<path d="M238.9 705.5 C238.0 704.9 235.9 702.3 233.4 701.8 C231.0 701.4 227.0 701.7 224.3 702.7 C221.6 703.8 218.7 705.9 217.0 708.2 C215.3 710.5 214.0 713.7 213.9 716.4 C213.7 719.2 214.3 722.5 216.1 724.7 C217.8 726.8 221.4 729.1 224.3 729.6 C227.2 730.0 230.7 729.0 233.4 727.4 C236.2 725.8 239.2 722.8 240.7 720.1 C242.3 717.4 242.9 713.4 242.6 711.0 C242.3 708.5 239.8 707.0 238.9 705.5 C238.0 704.0 236.8 702.7 237.1 701.8 C237.4 700.9 240.1 700.3 240.7 700.0" stroke="#e6e264" stroke-width="1.39"/>
<path d="M280.9 703.7 C281.5 706.1 282.7 713.4 284.6 718.3 C286.4 723.1 288.8 728.3 291.9 732.9 C294.9 737.4 298.6 741.7 302.8 745.7 C307.1 749.6 312.6 753.9 317.4 756.6 C322.3 759.4 327.2 760.6 332.1 762.1 C336.9 763.6 342.4 765.3 346.7 765.8 C350.9 766.2 355.8 765.0 357.6 764.8" stroke="#e6e264" stroke-width="1.39"/>
<path d="M400.0 826.0 C398.4 826.0 393.0 826.9 390.5 826.0 C388.0 825.1 386.5 822.4 385.0 820.5 C383.5 818.7 381.5 816.3 381.4 815.1 C381.2 813.9 383.2 812.6 384.1 813.2 C385.0 813.9 385.9 816.3 386.8 818.7 C387.8 821.2 389.0 824.5 389.6 827.9 C390.2 831.2 391.3 835.8 390.5 838.8 C389.7 841.9 387.5 844.0 385.0 846.1 C382.6 848.2 378.5 849.9 375.9 851.6 C373.3 853.3 369.8 856.2 369.5 856.2 C369.2 856.2 371.8 853.0 374.1 851.6 C376.3 850.2 379.8 848.6 383.2 847.9 C386.5 847.3 391.4 847.6 394.2 847.9 C397.0 848.2 399.0 849.5 400.0 849.8" stroke="#e6e264" stroke-width="1.39"/>
<path d="M271.8 700.0 C272.7 701.8 274.8 707.0 277.3 711.0 C279.7 714.9 282.7 719.5 286.4 723.7 C290.0 728.0 294.0 732.9 299.2 736.5 C304.4 740.2 311.4 743.4 317.4 745.7 C323.5 747.9 329.6 749.9 335.7 750.2 C341.8 750.5 347.9 748.6 354.0 747.5 C360.1 746.4 366.1 745.1 372.2 743.8 C378.3 742.6 387.5 740.8 390.5 740.2" stroke="#808000" stroke-width="1.39"/>
<path d="M412.2 823.7 C410.5 824.2 405.5 826.1 402.1 826.6 C398.8 827.0 394.7 827.0 392.0 826.6 C389.4 826.1 387.7 824.9 386.3 823.7 C384.8 822.5 384.2 820.8 383.4 819.3 C382.5 817.9 381.3 816.1 381.2 815.0 C381.1 813.9 382.1 812.9 382.7 812.9 C383.3 812.9 384.2 813.7 384.8 815.0 C385.4 816.3 385.5 818.6 386.3 820.8 C387.0 822.9 388.3 825.6 389.1 828.0 C390.0 830.4 391.1 833.0 391.3 835.2 C391.6 837.4 391.4 839.3 390.6 841.0 C389.7 842.7 388.2 843.9 386.3 845.3 C384.3 846.8 381.5 848.2 379.0 849.6 C376.6 851.1 373.6 852.9 371.8 854.0 C370.0 855.0 368.0 856.5 368.2 856.1 C368.5 855.8 371.0 853.1 373.3 851.8 C375.6 850.5 378.8 848.9 381.9 848.2 C385.1 847.5 388.7 847.0 392.0 847.5 C395.4 848.0 398.5 849.5 402.1 851.1 C405.7 852.6 409.8 854.7 413.7 856.8 C417.5 859.0 421.4 861.8 425.2 864.1 C429.1 866.3 432.9 868.8 436.8 870.6 C440.6 872.4 444.4 873.6 448.3 874.9 C452.1 876.2 456.0 876.9 459.8 878.5 C463.7 880.1 467.5 882.2 471.4 884.3 C475.2 886.3 479.1 888.6 482.9 890.8 C486.8 892.9 490.6 895.2 494.5 897.2 C498.3 899.3 502.1 901.3 506.0 903.0 C509.8 904.7 513.7 905.9 517.5 907.3 C521.4 908.8 525.7 910.4 529.1 911.7 C532.4 912.9 534.8 913.9 537.7 915.0 C540.6 916.1 543.5 917.5 546.4 918.2 C549.3 918.8 552.6 919.4 555.0 918.9 C557.4 918.4 559.1 917.1 560.8 915.0 C562.5 912.8 563.7 908.6 565.1 905.9 C566.6 903.2 567.8 900.8 569.5 898.7 C571.2 896.5 573.5 894.4 575.2 892.9 C577.0 891.5 578.3 891.7 580.0 890.0 C581.7 888.3 583.8 885.5 585.3 882.8 C586.8 880.2 588.1 877.0 588.9 874.2 C589.8 871.3 590.1 866.9 590.4 865.5" stroke="#e6e264" stroke-width="1.39"/>
<path d="M469.2 818.6 C468.6 818.0 467.4 816.0 465.6 815.0 C463.8 814.1 461.0 813.0 458.4 812.9 C455.7 812.7 452.1 813.2 449.7 814.3 C447.3 815.4 445.2 817.3 444.0 819.3 C442.7 821.4 442.0 824.3 442.2 826.6 C442.5 828.8 443.7 831.5 445.4 833.0 C447.1 834.6 450.2 835.8 452.6 835.9 C455.0 836.1 457.9 835.1 459.8 833.8 C461.8 832.4 463.2 830.2 464.2 828.0 C465.1 825.8 465.6 822.9 465.6 820.8 C465.6 818.6 463.7 816.1 464.2 815.0 C464.6 813.9 467.5 813.6 468.5 814.3 C469.4 815.0 469.7 818.5 469.9 819.3" stroke="#e6e264" stroke-width="1.39"/>
<path d="M429.5 781.8 C429.8 783.0 430.5 786.9 431.0 789.0 C431.5 791.2 431.2 793.6 432.4 794.8 C433.6 796.0 436.0 795.9 438.2 796.3 C440.4 796.6 443.0 796.5 445.4 797.0 C447.8 797.5 450.2 798.3 452.6 799.1 C455.0 800.0 457.4 801.2 459.8 802.0 C462.2 802.9 464.6 803.2 467.0 804.2 C469.4 805.2 472.1 806.5 474.3 807.8 C476.4 809.1 478.3 810.4 480.0 812.1 C481.7 813.8 483.0 815.7 484.4 817.9 C485.7 820.1 486.5 824.6 488.0 825.1 C489.4 825.6 491.0 821.9 493.0 820.8 C495.1 819.7 497.8 818.9 500.2 818.6 C502.6 818.4 505.0 818.5 507.4 819.3 C509.8 820.2 512.2 822.0 514.7 823.7 C517.1 825.4 519.5 827.0 521.9 829.4 C524.3 831.8 526.9 835.2 529.1 838.1 C531.2 841.0 533.2 843.6 534.8 846.8 C536.5 849.9 538.1 854.0 539.2 856.8 C540.3 859.7 541.0 862.9 541.3 864.1" stroke="#e6e264" stroke-width="1.39"/>
<path d="M546.4 740.0 C546.9 741.2 547.8 744.8 549.3 747.2 C550.7 749.6 552.9 752.0 555.0 754.4 C557.2 756.8 559.6 759.2 562.3 761.6 C564.9 764.0 568.0 766.7 570.9 768.9 C573.9 771.0 576.9 772.9 580.0 774.6 C583.1 776.3 588.1 778.2 589.7 778.9" stroke="#e6e264" stroke-width="1.39"/>
<path d="M589.7 802.0 C588.1 801.3 582.9 799.1 580.0 797.7 C577.1 796.3 575.1 795.1 572.4 793.4 C569.6 791.7 566.6 789.0 563.7 787.6 C560.8 786.2 557.9 785.4 555.0 784.7 C552.2 784.0 549.3 783.5 546.4 783.3 C543.5 783.0 540.4 783.0 537.7 783.3 C535.1 783.5 532.7 783.8 530.5 784.7 C528.4 785.7 525.8 787.4 524.7 789.0 C523.7 790.7 524.5 793.1 524.0 794.8 C523.5 796.5 522.5 798.7 521.9 799.1 C521.3 799.6 520.2 798.9 520.4 797.7 C520.7 796.5 522.8 792.9 523.3 791.9" stroke="#e6e264" stroke-width="1.39"/>
<path d="M497.3 777.5 C498.8 777.3 503.1 776.1 506.0 776.1 C508.9 776.1 512.0 776.5 514.7 777.5 C517.3 778.5 520.4 780.6 521.9 781.8 C523.3 783.0 523.1 784.2 523.3 784.7" stroke="#e6e264" stroke-width="1.39"/>
<path d="M330.0 761.6 C331.9 762.4 337.7 765.0 341.5 766.0 C345.4 766.9 349.2 767.6 353.1 767.4 C356.9 767.2 361.0 765.7 364.6 764.5 C368.2 763.3 372.6 761.6 374.7 760.2 C376.9 758.8 377.1 756.6 377.6 755.9" stroke="#e6e264" stroke-width="1.39"/>
<path d="M374.7 760.2 C376.9 759.5 383.6 756.8 387.7 755.9 C391.8 754.9 395.4 753.9 399.2 754.4 C403.1 754.9 406.9 756.8 410.8 758.8 C414.6 760.7 418.5 763.3 422.3 766.0 C426.2 768.6 430.0 771.7 433.9 774.6 C437.7 777.5 442.3 780.6 445.4 783.3 C448.5 785.9 451.4 789.3 452.6 790.5" stroke="#e6e264" stroke-width="1.39"/>
<path d="M566.6 884.3 C567.5 886.2 570.4 892.2 572.4 895.8 C574.3 899.4 576.2 903.3 578.1 905.9 C580.0 908.5 582.9 910.7 583.9 911.7" stroke="#e6e264" stroke-width="1.39"/>
<path d="M447.6 809.2 C448.4 808.5 451.1 805.9 452.6 804.9 C454.2 804.0 456.2 803.7 456.9 803.5" stroke="#808000" stroke-width="1.39"/>
<path d="M491.6 787.6 L497.3 796.3 L504.6 803.5 L508.9 797.7 L513.2 791.9 L523.3 784.7" stroke="#707070" stroke-width="1.39"/>
<path d="M449.7 744.3 L444.0 753.0 L437.5 765.2 L431.0 761.6 L425.2 757.3" stroke="#707070" stroke-width="1.39"/>
<path d="M330.0 750.1 C331.9 749.6 337.7 748.2 341.5 747.2 C345.4 746.3 349.2 745.3 353.1 744.3 C356.9 743.4 362.7 741.9 364.6 741.4" stroke="#707070" stroke-width="1.39"/>
<path d="M390.6 771.7 C391.6 770.1 394.4 764.8 396.4 761.6 C398.3 758.5 400.2 755.6 402.1 753.0 C404.1 750.3 406.9 747.0 407.9 745.8" stroke="#707070" stroke-width="1.39"/>
<path d="M359.6 797.7 C359.5 798.9 358.5 802.0 358.9 804.9 C359.2 807.8 360.5 811.9 361.7 815.0 C362.9 818.1 364.6 820.8 366.1 823.7 C367.5 826.6 369.3 830.0 370.4 832.3 C371.5 834.6 372.2 836.5 372.6 837.4" stroke="#c6c6c6" stroke-width="1.39"/>
<path d="M376.2 794.8 C375.9 796.3 375.4 800.6 374.7 803.5 C374.0 806.4 372.6 809.2 371.8 812.1 C371.1 815.0 370.5 817.9 370.4 820.8 C370.3 823.7 370.9 827.0 371.1 829.4 C371.4 831.8 371.7 834.2 371.8 835.2" stroke="#c6c6c6" stroke-width="1.39"/>
<path d="M330.0 774.6 C331.9 775.1 337.7 776.1 341.5 777.5 C345.4 778.9 349.2 781.4 353.1 783.3 C356.9 785.2 360.8 787.4 364.6 789.0 C368.5 790.7 372.3 792.3 376.2 793.4 C380.0 794.5 383.9 795.3 387.7 795.5 C391.6 795.8 395.4 795.2 399.2 794.8 C403.1 794.5 406.9 793.9 410.8 793.4 C414.6 792.9 420.4 792.2 422.3 791.9" stroke="#c6c6c6" stroke-width="1.39"/>
<path d="M330.0 787.6 C332.4 787.8 339.6 788.1 344.4 789.0 C349.2 790.0 354.0 791.9 358.9 793.4 C363.7 794.8 368.5 796.7 373.3 797.7 C378.1 798.7 382.9 799.1 387.7 799.1 C392.5 799.1 397.3 798.4 402.1 797.7 C406.9 797.0 414.2 795.3 416.6 794.8" stroke="#c6c6c6" stroke-width="1.39"/>
<path d="M412.2 823.7 C413.9 822.7 419.2 819.8 422.3 817.9 C425.5 816.0 428.1 814.3 431.0 812.1 C433.9 810.0 437.0 807.3 439.6 804.9 C442.3 802.5 444.9 800.3 446.8 797.7 C448.8 795.1 450.0 791.9 451.2 789.0 C452.4 786.2 453.6 781.8 454.1 780.4" stroke="#c6c6c6" stroke-width="1.39"/>
<path d="M523.3 829.4 C523.5 831.4 524.7 837.1 524.7 841.0 C524.7 844.8 523.7 848.7 523.3 852.5 C522.9 856.4 522.6 860.0 522.6 864.1 C522.6 868.1 522.9 872.7 523.3 877.0 C523.7 881.4 523.3 887.1 524.7 890.0 C526.2 892.9 529.8 894.4 532.0 894.4 C534.1 894.4 536.0 891.7 537.7 890.0 C539.4 888.3 540.7 886.2 542.1 884.3 C543.4 882.3 545.1 879.4 545.7 878.5" stroke="#c6c6c6" stroke-width="1.39"/>
<path d="M510.3 820.8 C511.5 821.7 514.9 824.4 517.5 826.6 C520.2 828.7 523.3 831.4 526.2 833.8 C529.1 836.2 532.0 838.8 534.8 841.0 C537.7 843.1 540.9 845.1 543.5 846.8 C546.1 848.4 548.9 849.4 550.7 851.1 C552.5 852.8 555.0 856.6 554.3 856.8 C553.6 857.1 549.2 854.2 546.4 852.5 C543.6 850.8 540.1 848.7 537.7 846.8 C535.3 844.8 532.9 841.9 532.0 841.0" stroke="#c6c6c6" stroke-width="1.39"/>
<path d="M482.9 800.6 C482.7 802.0 481.0 806.4 481.5 809.2 C482.0 812.1 484.5 815.7 485.8 817.9 C487.1 820.1 488.8 821.5 489.4 822.2" stroke="#c6c6c6" stroke-width="1.39"/>
<path d="M514.7 754.4 C515.1 756.8 516.8 764.0 517.5 768.9 C518.3 773.7 518.3 778.5 519.0 783.3 C519.7 788.1 520.7 792.9 521.9 797.7 C523.1 802.5 524.5 807.3 526.2 812.1 C527.9 816.9 531.0 824.2 532.0 826.6" stroke="#c6c6c6" stroke-width="1.39"/>
<path d="M534.8 748.7 C536.0 750.6 539.9 756.1 542.1 760.2 C544.2 764.3 546.4 768.9 547.8 773.2 C549.3 777.5 550.5 782.1 550.7 786.2 C551.0 790.3 549.5 795.8 549.3 797.7" stroke="#c6c6c6" stroke-width="1.39"/>
<path d="M555.0 748.7 C556.0 751.1 559.4 758.3 560.8 763.1 C562.3 767.9 563.7 772.7 563.7 777.5 C563.7 782.3 562.3 788.1 560.8 791.9 C559.4 795.8 556.0 799.1 555.0 800.6" stroke="#c6c6c6" stroke-width="1.39"/>
<path d="M416.6 757.3 C417.5 759.2 419.9 765.0 422.3 768.9 C424.7 772.7 427.6 777.3 431.0 780.4 C434.3 783.5 438.7 785.9 442.5 787.6 C446.4 789.3 452.1 790.0 454.1 790.5" stroke="#c6c6c6" stroke-width="1.39"/>
<path d="M456.9 754.4 C457.4 756.3 458.4 762.1 459.8 766.0 C461.3 769.8 463.2 773.9 465.6 777.5 C468.0 781.1 472.8 785.9 474.3 787.6" stroke="#c6c6c6" stroke-width="1.39"/>
<path d="M490.1 747.2 C489.9 748.9 489.2 753.7 488.7 757.3 C488.2 760.9 488.0 764.8 487.2 768.9 C486.5 772.9 485.3 777.5 484.4 781.8 C483.4 786.2 481.7 790.7 481.5 794.8 C481.2 798.9 482.2 803.0 482.9 806.4 C483.6 809.7 485.3 813.6 485.8 815.0" stroke="#707070" stroke-width="1.39"/>
<path d="M503.1 747.2 C503.4 748.9 503.6 754.2 504.6 757.3 C505.5 760.4 506.7 763.3 508.9 766.0 C511.0 768.6 514.7 771.0 517.5 773.2 C520.4 775.3 524.7 778.0 526.2 778.9" stroke="#707070" stroke-width="1.39"/>
<path d="M501.7 748.7 C500.7 750.6 498.1 756.3 495.9 760.2 C493.7 764.0 491.1 767.9 488.7 771.7 C486.3 775.6 483.6 779.9 481.5 783.3 C479.3 786.6 476.7 790.5 475.7 791.9" stroke="#707070" stroke-width="1.39"/>
<path d="M368.9 776.1 L377.6 783.3 L389.1 789.8 L393.5 794.8 L397.8 787.6 L402.1 780.4" stroke="#707070" stroke-width="1.39"/>
<path d="M393.5 794.8 C395.4 794.3 401.2 793.4 405.0 791.9 C408.9 790.5 412.7 788.3 416.6 786.2 C420.4 784.0 424.2 781.4 428.1 778.9 C431.9 776.5 435.8 773.9 439.6 771.7 C443.5 769.6 447.3 768.1 451.2 766.0 C455.0 763.8 460.8 760.0 462.7 758.8" stroke="#707070" stroke-width="1.39"/>
<path d="M350.2 758.8 C352.1 759.5 357.9 761.9 361.7 763.1 C365.6 764.3 369.4 765.7 373.3 766.0 C377.1 766.2 381.0 765.7 384.8 764.5 C388.7 763.3 394.4 759.7 396.4 758.8" stroke="#707070" stroke-width="1.39"/>
<path d="M626.8 600.0 C627.7 602.4 630.6 609.6 632.6 614.4 C634.5 619.2 637.2 624.1 638.3 628.9 C639.4 633.7 638.6 638.5 639.0 643.3 C639.5 648.1 639.9 653.4 641.2 657.7 C642.5 662.0 644.8 665.4 647.0 669.3 C649.1 673.1 651.9 677.3 654.2 680.8 C656.5 684.3 660.2 686.8 660.7 690.2 C661.2 693.6 657.9 696.8 657.1 701.0 C656.2 705.2 656.0 711.1 655.6 715.4 C655.3 719.8 655.4 723.1 654.9 727.0 C654.4 730.8 653.7 734.4 652.8 738.5 C651.8 742.6 650.1 747.4 649.1 751.5 C648.2 755.6 647.4 759.1 647.0 763.1 C646.6 767.0 646.7 771.2 646.7 775.0 C646.7 778.9 646.7 783.1 647.0 786.1 C647.3 789.2 648.2 792.2 648.4 793.4" stroke="#5c5c5c" stroke-width="1.39"/>
<path d="M606.6 617.3 C607.5 618.3 609.9 621.8 612.4 623.1 C614.8 624.4 617.4 624.8 621.0 625.3 C624.6 625.7 631.1 625.4 634.0 626.0 C636.9 626.6 637.6 628.4 638.3 628.9" stroke="#5c5c5c" stroke-width="1.39"/>
<path d="M602.3 628.9 C603.0 630.8 604.7 636.8 606.6 640.4 C608.5 644.0 611.4 647.4 613.8 650.5 C616.2 653.6 618.7 655.7 621.0 659.2 C623.3 662.7 626.8 669.0 627.5 671.4 C628.2 673.8 626.4 674.9 625.3 673.6 C624.3 672.3 622.0 663.3 621.0 663.5 C620.0 663.7 619.7 671.2 619.6 675.0 C619.4 678.9 619.6 682.7 620.3 686.6 C621.0 690.4 622.8 694.5 623.9 698.1 C625.0 701.7 625.8 704.9 626.8 708.2 C627.7 711.6 628.9 714.7 629.7 718.3 C630.4 721.9 631.2 727.0 631.1 729.9 C631.0 732.8 629.3 734.7 628.9 735.6" stroke="#5c5c5c" stroke-width="1.39"/>
<path d="M628.9 707.5 C630.5 708.0 635.3 709.4 638.3 710.4 C641.3 711.4 644.3 712.2 647.0 713.3 C649.6 714.4 652.3 715.3 654.2 716.9 C656.1 718.4 657.4 720.7 658.5 722.7 C659.6 724.6 660.3 727.5 660.7 728.4" stroke="#5c5c5c" stroke-width="1.39"/>
<path d="M628.9 735.6 C628.6 737.1 627.6 741.4 626.8 744.3 C625.9 747.2 624.9 750.1 623.9 753.0 C622.9 755.8 621.4 759.2 621.0 761.6 C620.6 764.0 621.6 766.4 621.7 767.4" stroke="#c6c6c6" stroke-width="1.39"/>
<path d="M660.7 728.4 C660.9 729.6 662.3 733.4 662.1 735.6 C662.0 737.9 661.2 740.7 660.0 742.1 C658.8 743.6 656.8 744.3 654.9 744.3 C653.0 744.3 650.7 743.3 648.4 742.1 C646.1 740.9 643.9 738.9 641.2 737.1 C638.6 735.3 635.4 733.2 632.6 731.3 C629.7 729.4 627.0 727.7 623.9 725.5 C620.8 723.4 617.2 720.7 613.8 718.3 C610.4 715.9 607.3 713.8 603.7 711.1 C600.1 708.5 596.5 705.1 592.2 702.5 C587.8 699.8 582.5 696.9 577.7 695.2 C572.9 693.6 565.7 692.8 563.3 692.4" stroke="#c6c6c6" stroke-width="1.39"/>
<path d="M621.0 604.3 C622.5 606.0 626.5 611.3 629.7 614.4 C632.8 617.6 636.4 620.2 639.8 623.1 C643.1 626.0 647.0 628.6 649.9 631.7 C652.8 634.9 654.7 638.7 657.1 641.8 C659.5 645.0 661.9 647.6 664.3 650.5 C666.7 653.4 669.1 656.5 671.5 659.2 C673.9 661.8 676.8 664.2 678.7 666.4 C680.7 668.5 683.3 671.9 683.1 672.2 C682.8 672.4 679.5 669.5 677.3 667.8 C675.1 666.1 672.7 664.2 670.1 662.0 C667.4 659.9 664.3 657.2 661.4 654.8 C658.5 652.4 654.2 648.8 652.8 647.6" stroke="#c6c6c6" stroke-width="1.39"/>
<path d="M574.8 670.7 C576.5 670.9 581.6 672.4 584.9 672.2 C588.3 671.9 591.4 670.7 595.0 669.3 C598.6 667.8 602.7 665.4 606.6 663.5 C610.4 661.6 616.2 658.7 618.1 657.7" stroke="#c6c6c6" stroke-width="1.39"/>
<path d="M592.2 639.0 C594.6 639.0 602.3 638.8 606.6 639.0 C610.9 639.1 615.5 639.2 618.1 639.7 C620.8 640.2 622.2 640.5 622.5 641.8 C622.7 643.2 621.0 645.9 619.6 647.6 C618.1 649.3 614.8 651.2 613.8 651.9" stroke="#c6c6c6" stroke-width="1.39"/>
<path d="M590.7 676.5 C591.2 677.7 591.9 682.0 593.6 683.7 C595.3 685.4 599.1 684.9 600.8 686.6 C602.5 688.3 603.0 691.4 603.7 693.8 C604.4 696.2 604.2 698.8 605.1 701.0 C606.1 703.2 608.1 705.1 609.5 706.8 C610.8 708.5 612.7 710.0 613.1 711.1 C613.4 712.2 612.7 713.5 611.6 713.3 C610.5 713.0 607.4 710.3 606.6 709.7" stroke="#c6c6c6" stroke-width="1.39"/>
<path d="M577.0 675.0 C576.6 677.0 575.4 682.7 574.8 686.6 C574.2 690.4 573.8 695.0 573.4 698.1 C573.0 701.3 571.5 703.2 572.7 705.3 C573.9 707.5 577.6 709.4 580.6 711.1 C583.6 712.8 588.5 712.8 590.7 715.4 C592.9 718.1 592.9 723.1 593.6 727.0 C594.3 730.8 595.3 734.7 595.0 738.5 C594.8 742.4 593.6 746.2 592.2 750.1 C590.7 753.9 588.3 757.8 586.4 761.6 C584.5 765.5 582.5 769.3 580.6 773.2 C578.7 777.0 575.8 782.8 574.8 784.7" stroke="#c6c6c6" stroke-width="1.39"/>
<path d="M553.2 689.5 C553.4 691.9 554.5 699.1 554.6 703.9 C554.8 708.7 553.7 713.5 553.9 718.3 C554.2 723.1 555.5 728.4 556.1 732.8 C556.7 737.1 557.8 740.5 557.5 744.3 C557.3 748.1 556.1 752.2 554.6 755.8 C553.2 759.5 551.0 762.7 548.9 765.9 C546.7 769.1 542.8 773.5 541.6 775.0" stroke="#c6c6c6" stroke-width="1.39"/>
<path d="M520.0 727.0 C521.4 727.2 525.8 728.4 528.7 728.4 C531.5 728.4 534.4 727.1 537.3 727.0 C540.2 726.9 543.7 727.7 546.0 727.7 C548.3 727.7 550.8 725.9 551.0 727.0 C551.3 728.1 549.0 731.6 547.4 734.2 C545.9 736.8 542.6 741.4 541.6 742.9" stroke="#c6c6c6" stroke-width="1.39"/>
<path d="M648.4 793.4 C648.7 794.8 649.9 799.4 649.9 802.0 C649.9 804.7 648.7 808.0 648.4 809.2" stroke="#c6c6c6" stroke-width="1.39"/>
<path d="M676.6 748.6 C676.9 747.2 677.8 743.1 678.7 740.0 C679.7 736.8 681.6 733.5 682.3 729.9 C683.1 726.3 683.5 722.2 683.3 718.3 C683.2 714.5 682.6 710.9 681.6 706.8 C680.6 702.7 678.7 697.6 677.3 693.8 C675.8 689.9 674.6 686.6 673.0 683.7 C671.3 680.8 669.6 678.5 667.2 676.5 C664.8 674.4 661.9 673.0 658.5 671.4 C655.2 669.9 650.8 668.5 647.0 667.1 C643.1 665.7 639.3 664.2 635.4 662.8 C631.6 661.3 627.7 659.0 623.9 658.4 C620.0 657.8 616.2 658.9 612.4 659.2 C608.5 659.4 604.7 659.6 600.8 659.9 C597.0 660.1 592.9 660.0 589.3 660.6 C585.7 661.2 582.3 662.0 579.2 663.5 C576.0 664.9 573.4 667.3 570.5 669.3 C567.6 671.2 564.7 673.1 561.8 675.0 C559.0 677.0 555.8 678.6 553.2 680.8 C550.5 683.0 547.9 685.1 546.0 688.0 C544.1 690.9 542.7 694.5 541.6 698.1 C540.6 701.7 539.6 705.6 539.5 709.7 C539.4 713.8 540.0 718.3 540.9 722.7 C541.9 727.0 543.4 731.6 545.3 735.6 C547.1 739.7 549.2 743.6 551.7 747.2 C554.3 750.8 557.3 754.2 560.4 757.3 C563.5 760.4 567.1 763.4 570.5 765.9 C573.9 768.5 577.0 770.6 580.6 772.4 C584.2 774.2 588.8 775.8 592.2 776.8 C595.5 777.7 597.9 778.2 600.8 778.2 C603.7 778.2 606.6 777.8 609.5 776.8 C612.4 775.7 616.1 773.3 618.1 771.7 C620.2 770.2 621.1 768.1 621.7 767.4" stroke="#e6e264" stroke-width="1.39"/>
<path d="M520.0 711.1 L528.7 703.9 L538.8 696.0 L548.9 690.2 L560.4 683.7 L559.0 677.9 L566.2 666.4 L573.4 659.2 L575.6 653.4" stroke="#707070" stroke-width="1.39"/>
<path d="M636.2 560.2 C634.6 560.5 630.4 561.4 626.9 561.9 C623.5 562.4 619.3 563.5 615.4 563.1 C611.6 562.7 607.1 560.4 603.9 559.6 C600.6 558.8 598.1 557.9 595.8 558.5 C593.5 559.0 591.7 561.0 590.0 563.1 C588.3 565.2 586.9 567.7 585.4 571.2 C583.9 574.6 583.5 582.1 580.8 583.9 C578.1 585.6 571.6 583.3 569.2 581.5 C566.9 579.8 568.1 575.2 566.9 573.5 C565.8 571.7 564.4 571.2 562.3 571.2 C560.2 571.2 555.8 572.3 554.2 573.5 C552.7 574.6 552.7 576.5 553.1 578.1 C553.5 579.6 557.7 581.4 556.5 582.7 C555.4 584.0 549.8 584.6 546.2 586.2 C542.5 587.7 537.9 589.0 534.6 591.9 C531.4 594.8 528.9 599.6 526.5 603.5 C524.2 607.3 522.5 611.0 520.8 615.0 C519.0 619.1 517.7 623.3 516.2 627.7 C514.6 632.1 513.1 636.9 511.5 641.6 C510.0 646.2 508.8 651.2 506.9 655.4 C505.0 659.6 502.8 662.9 500.0 666.9 C497.2 671.0 493.6 675.8 490.0 680.0 C486.3 684.2 482.7 688.5 478.1 692.0 C473.4 695.5 468.3 698.3 461.9 701.0 C455.6 703.7 443.6 706.9 440.0 708.0" stroke="#707070" stroke-width="1.39"/>
<path d="M632.7 561.9 C630.8 562.7 625.0 564.4 621.2 566.5 C617.3 568.7 613.5 571.4 609.6 574.6 C605.8 577.9 602.9 582.3 598.1 586.2 C593.3 590.0 585.6 595.6 580.8 597.7 C576.0 599.8 573.1 598.5 569.2 598.9 C565.4 599.2 561.6 599.7 557.7 600.0 C553.9 600.3 550.0 600.4 546.2 600.6 C542.3 600.8 538.5 600.8 534.6 601.2 C530.8 601.6 526.9 602.1 523.1 602.9 C519.2 603.7 515.4 604.9 511.5 605.8 C507.7 606.6 503.1 605.4 500.0 608.1 C496.9 610.8 495.2 616.6 493.1 621.9 C490.9 627.2 489.1 633.6 487.0 639.9 C484.8 646.3 482.9 653.3 480.0 660.0 C477.2 666.7 473.7 674.0 470.0 680.0 C466.3 686.0 463.0 691.7 458.0 696.0 C453.0 700.4 446.3 703.5 440.0 706.2 C433.7 708.8 423.4 711.0 420.0 712.0" stroke="#707070" stroke-width="1.39"/>
<path d="M626.9 565.4 C624.6 567.3 617.9 572.5 613.1 576.9 C608.3 581.4 603.1 587.7 598.1 591.9 C593.1 596.2 587.9 600.2 583.1 602.3 C578.3 604.4 573.9 603.9 569.2 604.6 C564.6 605.4 559.2 606.2 555.4 606.9 C551.5 607.7 549.6 608.1 546.2 609.2 C542.7 610.4 538.5 612.5 534.6 613.9 C530.8 615.2 526.9 616.6 523.1 617.3 C519.2 618.1 515.4 617.9 511.5 618.5 C507.7 619.1 503.3 617.2 500.0 620.8 C496.7 624.4 494.6 633.1 491.9 639.9 C489.2 646.8 486.8 655.0 483.8 662.0 C480.9 669.0 478.0 675.9 474.0 682.0 C470.1 688.0 464.8 693.4 460.0 698.1 C455.1 702.8 450.8 706.7 445.0 710.0 C439.1 713.3 428.3 716.6 425.0 718.0" stroke="#707070" stroke-width="1.39"/>
<path d="M615.4 574.6 C613.5 576.5 608.1 582.9 603.9 586.2 C599.6 589.4 594.8 591.9 590.0 594.2 C585.2 596.5 580.0 598.7 575.0 600.0 C570.0 601.4 564.4 601.6 560.0 602.3 C555.6 603.1 552.1 603.5 548.5 604.6 C544.8 605.8 541.4 607.5 538.1 609.2 C534.8 611.0 532.3 612.7 528.9 615.0 C525.4 617.3 521.2 620.8 517.3 623.1 C513.5 625.4 508.7 627.5 505.8 628.9 C502.9 630.2 502.1 627.7 500.0 631.2 C497.9 634.7 495.6 643.5 493.1 650.0 C490.6 656.4 488.2 663.6 485.0 669.9 C481.8 676.3 478.2 682.6 474.0 688.0 C469.9 693.3 465.3 697.7 460.0 702.0 C454.6 706.4 445.0 712.0 442.0 714.0" stroke="#707070" stroke-width="1.39"/>
<path d="M635.6 559.6 C634.5 559.4 631.5 558.8 629.3 558.5 C627.0 558.1 625.0 557.5 622.3 557.3 C619.6 557.1 616.2 557.3 613.1 557.3 C610.0 557.3 606.6 556.8 603.9 557.3 C601.2 557.8 599.1 558.7 596.9 560.2 C594.8 561.7 593.1 563.8 591.2 566.5 C589.2 569.3 587.3 573.5 585.4 576.9 C583.5 580.4 581.9 584.4 579.6 587.3 C577.3 590.2 574.4 592.5 571.6 594.2 C568.7 596.0 565.8 597.1 562.3 597.7 C558.9 598.3 554.6 598.1 550.8 597.7 C546.9 597.3 542.7 595.6 539.2 595.4 C535.8 595.2 532.7 595.8 530.0 596.5 C527.3 597.3 524.2 599.4 523.1 600.0" stroke="#707070" stroke-width="1.39"/>
<path d="M636.8 560.8 C635.9 562.3 632.6 566.9 631.6 570.0 C630.5 573.1 630.2 576.5 630.4 579.2 C630.6 581.9 631.2 585.0 632.7 586.2 C634.3 587.3 638.5 586.2 639.6 586.2" stroke="#707070" stroke-width="1.39"/>
<path d="M633.9 561.4 C632.7 563.2 628.9 568.6 626.9 572.3 C625.0 576.1 623.5 580.0 622.3 583.9 C621.2 587.7 620.2 592.1 620.0 595.4 C619.8 598.7 621.9 600.8 621.2 603.5 C620.4 606.2 616.8 609.1 615.4 611.6 C614.1 614.1 613.1 617.7 613.1 618.5 C613.1 619.2 615.0 616.6 615.4 616.2" stroke="#707070" stroke-width="1.39"/>
<path d="M440.0 708.0 C435.9 708.7 424.0 711.1 415.8 712.0 C407.5 712.8 398.8 713.3 390.4 713.1 C381.9 712.9 369.2 711.2 365.0 710.8" stroke="#c6c6c6" stroke-width="1.39"/>
<path d="M420.0 712.0 C415.8 712.6 403.3 715.3 395.0 716.0 C386.7 716.7 378.4 716.7 370.1 716.0 C361.7 715.3 349.2 712.6 345.0 712.0" stroke="#c6c6c6" stroke-width="1.39"/>
<path d="M425.0 718.0 C420.8 719.0 408.4 722.3 400.1 724.0 C391.7 725.6 383.4 727.3 375.0 728.0 C366.7 728.7 354.1 728.0 350.0 728.0" stroke="#c6c6c6" stroke-width="1.39"/>
<path d="M442.0 714.0 C438.3 715.4 427.9 719.3 420.0 722.0 C412.2 724.7 403.3 727.3 395.0 730.0 C386.7 732.6 374.2 736.7 370.1 738.0" stroke="#c6c6c6" stroke-width="1.39"/>
<path d="M500.0 550.4 C500.8 553.5 503.1 562.9 504.6 568.9 C506.2 574.8 507.1 579.4 509.2 586.2 C511.3 592.9 514.0 601.6 517.3 609.2 C520.6 616.9 525.6 625.6 528.9 632.3 C532.1 639.1 535.6 646.8 536.9 649.6" stroke="#c6c6c6" stroke-width="1.39"/>
<path d="M641.2 557.7 C640.3 558.0 637.9 558.7 636.0 559.5 C634.1 560.3 632.0 561.5 630.0 562.5 C628.0 563.5 625.9 564.2 624.0 565.3 C622.1 566.4 620.5 568.4 618.5 569.2 C616.5 570.0 614.1 570.3 612.0 570.2 C609.9 570.1 607.7 568.5 605.8 568.6 C603.9 568.7 601.9 569.6 600.5 570.8 C599.1 571.9 598.1 573.6 597.2 575.5 C596.3 577.4 595.7 579.8 595.2 582.0 C594.7 584.2 594.8 586.8 594.3 589.0 C593.8 591.2 593.6 593.3 592.5 595.0 C591.4 596.7 589.4 597.6 587.5 599.0 C585.6 600.4 583.2 601.8 581.0 603.5 C578.8 605.2 576.2 606.8 574.0 609.0 C571.8 611.2 570.0 613.9 568.0 616.5 C566.0 619.1 564.0 622.2 562.0 624.5 C560.0 626.8 558.3 628.9 556.0 630.5 C553.7 632.1 550.7 633.0 548.0 634.0 C545.3 635.0 542.5 635.4 540.0 636.5 C537.5 637.6 535.2 638.7 533.0 640.5 C530.8 642.3 529.2 644.8 527.0 647.5 C524.8 650.2 522.5 653.7 520.0 657.0 C517.5 660.3 515.3 664.0 512.0 667.5 C508.7 671.0 504.3 674.4 500.0 678.0 C495.7 681.6 490.5 685.5 486.0 689.0 C481.5 692.5 477.3 695.5 473.0 699.0 C468.7 702.5 463.8 706.0 460.0 709.7 C456.2 713.5 453.2 717.5 450.0 721.5 C446.8 725.5 443.9 729.8 441.0 734.0 C438.1 738.2 435.3 742.8 432.5 747.0 C429.7 751.2 427.1 755.7 424.0 759.5 C420.9 763.3 417.2 767.4 414.0 770.0 C410.8 772.6 407.5 774.3 405.0 775.4 C402.5 776.5 401.3 776.8 399.0 776.8 C396.7 776.8 394.1 776.0 391.4 775.6 C388.7 775.2 385.6 774.7 383.0 774.2 C380.4 773.7 376.8 773.0 375.5 772.8" stroke="#800080" stroke-width="4.2"/>
<path d="M375.5 772.8 C373.9 772.2 369.2 770.6 366.0 769.0 C362.8 767.4 359.3 765.3 356.0 763.0 C352.7 760.7 349.3 757.8 346.0 755.0 C342.7 752.2 339.5 749.8 336.0 746.5 C332.5 743.2 328.3 739.1 325.0 735.0 C321.7 730.9 318.8 726.5 316.0 722.0 C313.2 717.5 310.5 713.0 308.0 708.0 C305.5 703.0 303.0 697.5 301.0 692.0 C299.0 686.5 297.2 681.2 296.0 675.0 C294.8 668.8 293.8 661.2 293.5 655.0 C293.2 648.8 293.6 643.2 294.0 638.0 C294.4 632.8 294.8 628.2 296.0 624.0 C297.2 619.8 298.8 615.8 301.0 613.0 C303.2 610.2 306.2 608.1 309.0 607.0 C311.8 605.9 314.8 605.9 318.0 606.5 C321.2 607.1 324.3 608.2 328.0 610.5 C331.7 612.8 336.0 616.4 340.0 620.0 C344.0 623.6 348.3 628.2 352.0 632.0 C355.7 635.8 359.0 639.2 362.0 643.0 C365.0 646.8 367.7 650.8 370.0 655.0 C372.3 659.2 374.2 663.5 376.0 668.0 C377.8 672.5 379.3 677.5 381.0 682.0 C382.7 686.5 384.3 691.0 386.0 695.0 C387.7 699.0 389.3 702.6 391.0 706.0 C392.7 709.4 394.5 712.5 396.0 715.5 C397.5 718.5 399.5 721.1 400.0 724.0 C400.5 726.9 399.5 730.2 399.0 733.0 C398.5 735.8 397.5 738.5 397.0 741.0 C396.5 743.5 396.2 746.8 396.0 748.0" stroke="#ee66f4" stroke-width="4.2"/>
<path d="M401.5 716.0 C400.7 717.7 397.5 722.0 396.5 726.0 C395.5 730.0 395.6 736.3 395.5 740.0 C395.4 743.7 395.9 746.7 396.0 748.0" stroke="#ee66f4" stroke-width="4.2"/>
<path d="M641.9 557.7 C641.3 557.6 639.8 557.0 638.5 557.0 C637.2 557.0 635.7 557.1 634.3 557.6 C632.9 558.1 631.6 559.0 630.2 560.0 C628.8 561.0 627.5 562.4 626.0 563.5 C624.5 564.6 622.8 565.7 621.0 566.5 C619.2 567.3 617.0 567.7 615.5 568.5 C614.0 569.3 612.9 570.2 612.0 571.5 C611.1 572.8 610.7 574.6 610.0 576.5 C609.3 578.4 608.8 580.8 608.0 583.0 C607.2 585.2 606.6 587.6 605.5 590.0 C604.4 592.4 603.1 595.2 601.5 597.5 C599.9 599.8 597.9 601.4 596.0 603.5 C594.1 605.6 592.2 607.7 590.0 610.0 C587.8 612.3 585.2 614.8 583.0 617.5 C580.8 620.2 578.6 622.9 576.5 626.0 C574.4 629.1 572.4 632.7 570.5 636.0 C568.6 639.3 567.1 642.5 565.0 646.0 C562.9 649.5 560.5 653.3 558.0 657.0 C555.5 660.7 552.7 664.3 550.0 668.0 C547.3 671.7 544.6 675.6 542.0 679.0 C539.4 682.4 537.0 685.4 534.5 688.5 C532.0 691.6 529.2 694.5 527.0 697.5 C524.8 700.5 522.6 703.4 521.0 706.5 C519.4 709.6 518.3 712.9 517.5 716.0 C516.7 719.1 516.6 722.5 516.3 725.0 C516.0 727.5 516.0 729.0 515.6 731.0 C515.2 733.0 515.1 735.2 514.2 737.0 C513.4 738.8 512.2 740.4 510.5 741.6 C508.8 742.8 506.8 743.7 504.0 744.2 C501.2 744.7 498.0 744.7 494.0 744.8 C490.0 744.9 484.3 745.0 480.0 745.0 C475.7 745.0 472.0 745.0 468.0 744.6 C464.0 744.2 460.2 743.6 456.0 742.5 C451.8 741.4 447.7 739.9 443.0 738.2 C438.3 736.5 433.2 734.6 428.0 732.5 C422.8 730.4 417.3 728.0 412.0 725.5 C406.7 723.0 401.2 720.2 396.0 717.5 C390.8 714.8 385.7 712.2 381.0 709.5 C376.3 706.8 372.2 704.1 368.0 701.0 C363.8 697.9 359.7 694.5 356.0 691.0 C352.3 687.5 349.0 683.8 346.0 680.0 C343.0 676.2 340.2 672.0 338.0 668.0 C335.8 664.0 334.2 659.7 333.0 656.0 C331.8 652.3 331.0 649.0 331.0 646.0 C331.0 643.0 331.8 640.4 333.0 638.0 C334.2 635.6 335.8 633.2 338.0 631.5 C340.2 629.8 343.2 628.5 346.0 628.0 C348.8 627.5 352.0 627.8 355.0 628.5 C358.0 629.2 361.2 630.7 364.0 632.5 C366.8 634.3 369.5 636.9 372.0 639.5 C374.5 642.1 377.0 645.0 379.0 648.0 C381.0 651.0 382.7 654.3 384.0 657.5 C385.3 660.7 386.4 663.9 387.0 667.0 C387.6 670.1 387.6 673.3 387.3 676.0 C387.0 678.7 386.6 681.2 385.0 683.0 C383.4 684.8 379.8 685.8 378.0 686.5 C376.2 687.2 374.2 687.3 374.5 687.0 C374.8 686.7 377.8 685.0 380.0 684.5 C382.2 684.0 385.2 683.8 388.0 684.2 C390.8 684.6 394.0 685.6 397.0 686.8 C400.0 688.0 403.0 689.6 406.0 691.5 C409.0 693.4 412.0 695.6 415.0 698.0 C418.0 700.4 421.0 703.2 424.0 706.0 C427.0 708.8 430.0 712.1 433.0 715.0 C436.0 717.9 438.8 720.7 442.0 723.5 C445.2 726.3 448.7 729.2 452.0 732.0 C455.3 734.8 458.7 737.2 462.0 740.0 C465.3 742.8 469.0 745.8 472.0 748.5 C475.0 751.2 477.5 753.8 480.0 756.5 C482.5 759.2 484.8 762.1 487.0 765.0 C489.2 767.9 491.2 770.8 493.0 774.0 C494.8 777.2 496.4 780.5 498.0 784.0 C499.6 787.5 501.2 791.2 502.5 795.0 C503.8 798.8 505.0 802.8 506.0 807.0 C507.0 811.2 507.9 815.8 508.5 820.0 C509.1 824.2 509.4 828.0 509.5 832.0 C509.6 836.0 509.0 840.5 509.0 844.0 C509.0 847.5 509.2 850.6 509.5 853.0 C509.8 855.4 510.0 857.1 511.0 858.5 C512.0 859.9 513.5 860.9 515.5 861.5 C517.5 862.1 520.1 862.0 523.0 862.2 C525.9 862.5 529.3 862.5 533.0 863.0 C536.7 863.5 541.0 864.3 545.0 865.5 C549.0 866.7 553.0 868.2 557.0 870.0 C561.0 871.8 565.0 873.8 569.0 876.0 C573.0 878.2 576.8 880.4 581.0 883.0 C585.2 885.6 589.5 888.5 594.0 891.5 C598.5 894.5 603.3 897.8 608.0 901.0 C612.7 904.2 617.3 907.8 622.0 911.0 C626.7 914.2 631.3 917.5 636.0 920.5 C640.7 923.5 645.3 926.4 650.0 929.0 C654.7 931.6 659.3 933.9 664.0 936.0 C668.7 938.1 673.3 939.9 678.0 941.5 C682.7 943.1 687.3 944.5 692.0 945.5 C696.7 946.5 701.7 947.3 706.0 947.8 C710.3 948.3 714.0 948.5 718.0 948.5 C722.0 948.5 726.0 948.0 730.0 947.8 C734.0 947.6 737.7 947.4 742.0 947.5 C746.3 947.6 751.7 948.0 756.0 948.2 C760.3 948.5 764.2 948.8 768.0 949.0 C771.8 949.2 777.2 949.4 779.0 949.5" stroke="#000" stroke-width="4.5"/>
</g>
</g>
<g clip-path="url(#mc)" stroke="#000" stroke-width="1.39" stroke-dasharray="1.39 1.39" fill="none">
<path d="M300.0 89.5 V1052.5"/>
<path d="M740.4 89.5 V1052.5"/>
<path d="M1180.8 89.5 V1052.5"/>
<path d="M1621.2 89.5 V1052.5"/>
<path d="M80.5 310.4 H1621.5"/>
<path d="M80.5 538.6 H1621.5"/>
<path d="M80.5 782.1 H1621.5"/>
<path d="M80.5 1051.7 H1621.5"/>
</g>
<rect x="80.5" y="89.5" width="1541.0" height="963.0" fill="none" stroke="#000" stroke-width="1.1"/>
<text class="b" x="759.9" y="489.9" font-size="25" text-anchor="middle" stroke="#000" stroke-width="0.7" stroke-linejoin="round">&#8634;</text>
<text class="b" x="812.9" y="464.3" font-size="25" text-anchor="middle" stroke="#000" stroke-width="0.7" stroke-linejoin="round">&#8634;</text>
<text class="b" x="866.0" y="472.9" font-size="25" text-anchor="middle" stroke="#000" stroke-width="0.7" stroke-linejoin="round">&#8634;</text>
<text class="b" x="894.0" y="456.9" font-size="25" text-anchor="middle" stroke="#000" stroke-width="0.7" stroke-linejoin="round">&#8634;</text>
<text class="b" x="967.1" y="469.2" font-size="25" text-anchor="middle" stroke="#000" stroke-width="0.7" stroke-linejoin="round">&#8634;</text>
<text class="b" x="1001.9" y="460.0" font-size="25" text-anchor="middle" stroke="#000" stroke-width="0.7" stroke-linejoin="round">&#8634;</text>
<text class="b" x="1077.1" y="418.1" font-size="25" text-anchor="middle" stroke="#000" stroke-width="0.7" stroke-linejoin="round">&#8634;</text>
<text class="b" x="1091.9" y="362.0" font-size="25" text-anchor="middle" stroke="#000" stroke-width="0.7" stroke-linejoin="round">&#8634;</text>
<text class="b" x="1106.1" y="385.1" font-size="25" text-anchor="middle" stroke="#000" stroke-width="0.7" stroke-linejoin="round">&#8634;</text>
<text class="b" x="269.7" y="548.8" font-size="25" text-anchor="middle" stroke="#000" stroke-width="0.7" stroke-linejoin="round">&#8634;</text>
<text class="b" x="280.8" y="550.6" font-size="25" text-anchor="middle" stroke="#000" stroke-width="0.7" stroke-linejoin="round">&#8634;</text>
<text class="b" x="312.5" y="581.4" font-size="25" text-anchor="middle" stroke="#000" stroke-width="0.7" stroke-linejoin="round">&#8634;</text>
<text class="b" x="319.8" y="600.6" font-size="25" text-anchor="middle" stroke="#000" stroke-width="0.7" stroke-linejoin="round">&#8634;</text>
<text class="b" x="330.7" y="616.2" font-size="25" text-anchor="middle" stroke="#000" stroke-width="0.7" stroke-linejoin="round">&#8634;</text>
<text class="b" x="356.2" y="650.0" font-size="25" text-anchor="middle" stroke="#000" stroke-width="0.7" stroke-linejoin="round">&#8634;</text>
<text class="b" x="360.8" y="663.5" font-size="25" text-anchor="middle" stroke="#000" stroke-width="0.7" stroke-linejoin="round">&#8634;</text>
<text class="b" x="362.9" y="668.6" font-size="25" text-anchor="middle" stroke="#000" stroke-width="0.7" stroke-linejoin="round">&#8634;</text>
<text class="b" x="377.7" y="685.0" font-size="25" text-anchor="middle" stroke="#000" stroke-width="0.7" stroke-linejoin="round">&#8634;</text>
<text class="b" x="419.9" y="729.3" font-size="25" text-anchor="middle" stroke="#000" stroke-width="0.7" stroke-linejoin="round">&#8634;</text>
<text class="b" x="466.7" y="809.7" font-size="25" text-anchor="middle" stroke="#000" stroke-width="0.7" stroke-linejoin="round">&#8634;</text>
<text class="b" x="508.5" y="861.8" font-size="25" text-anchor="middle" stroke="#000" stroke-width="0.7" stroke-linejoin="round">&#8634;</text>
<text class="b" x="563.1" y="898.3" font-size="25" text-anchor="middle" stroke="#000" stroke-width="0.7" stroke-linejoin="round">&#8634;</text>
<text class="b" x="300.0" y="1082.8" font-size="20.5" text-anchor="middle">40°E</text>
<text class="b" x="740.4" y="1082.8" font-size="20.5" text-anchor="middle">60°E</text>
<text class="b" x="1180.8" y="1082.8" font-size="20.5" text-anchor="middle">80°E</text>
<text class="b" x="1621.2" y="1082.8" font-size="20.5" text-anchor="middle">100°E</text>
<text class="b" x="63" y="316.0" font-size="20.4" text-anchor="end">10°S</text>
<text class="b" x="63" y="544.2" font-size="20.4" text-anchor="end">20°S</text>
<text class="b" x="63" y="787.7" font-size="20.4" text-anchor="end">30°S</text>
<rect x="1665.5" y="910.65" width="20.0" height="29.45" fill="#e3eef9" shape-rendering="crispEdges"/>
<rect x="1665.5" y="881.81" width="20.0" height="29.45" fill="#dceaf6" shape-rendering="crispEdges"/>
<rect x="1665.5" y="852.96" width="20.0" height="29.45" fill="#d5e5f4" shape-rendering="crispEdges"/>
<rect x="1665.5" y="824.12" width="20.0" height="29.45" fill="#cee0f2" shape-rendering="crispEdges"/>
<rect x="1665.5" y="795.27" width="20.0" height="29.45" fill="#c7dcef" shape-rendering="crispEdges"/>
<rect x="1665.5" y="766.42" width="20.0" height="29.45" fill="#bcd7ec" shape-rendering="crispEdges"/>
<rect x="1665.5" y="737.58" width="20.0" height="29.45" fill="#b1d2e8" shape-rendering="crispEdges"/>
<rect x="1665.5" y="708.73" width="20.0" height="29.45" fill="#a5cde4" shape-rendering="crispEdges"/>
<rect x="1665.5" y="679.88" width="20.0" height="29.45" fill="#99c7e0" shape-rendering="crispEdges"/>
<rect x="1665.5" y="651.04" width="20.0" height="29.45" fill="#8abfdd" shape-rendering="crispEdges"/>
<rect x="1665.5" y="622.19" width="20.0" height="29.45" fill="#7bb7da" shape-rendering="crispEdges"/>
<rect x="1665.5" y="593.35" width="20.0" height="29.45" fill="#6dafd6" shape-rendering="crispEdges"/>
<rect x="1665.5" y="564.50" width="20.0" height="29.45" fill="#61a7d2" shape-rendering="crispEdges"/>
<rect x="1665.5" y="535.65" width="20.0" height="29.45" fill="#559fcd" shape-rendering="crispEdges"/>
<rect x="1665.5" y="506.81" width="20.0" height="29.45" fill="#4997c9" shape-rendering="crispEdges"/>
<rect x="1665.5" y="477.96" width="20.0" height="29.45" fill="#3e8ec4" shape-rendering="crispEdges"/>
<rect x="1665.5" y="449.12" width="20.0" height="29.45" fill="#3585bf" shape-rendering="crispEdges"/>
<rect x="1665.5" y="420.27" width="20.0" height="29.45" fill="#2b7bba" shape-rendering="crispEdges"/>
<rect x="1665.5" y="391.42" width="20.0" height="29.45" fill="#2272b5" shape-rendering="crispEdges"/>
<rect x="1665.5" y="362.58" width="20.0" height="29.45" fill="#1a68ae" shape-rendering="crispEdges"/>
<rect x="1665.5" y="333.73" width="20.0" height="29.45" fill="#135fa7" shape-rendering="crispEdges"/>
<rect x="1665.5" y="304.88" width="20.0" height="29.45" fill="#0c56a0" shape-rendering="crispEdges"/>
<rect x="1665.5" y="276.04" width="20.0" height="29.45" fill="#084d95" shape-rendering="crispEdges"/>
<rect x="1665.5" y="247.19" width="20.0" height="29.45" fill="#084387" shape-rendering="crispEdges"/>
<rect x="1665.5" y="218.35" width="20.0" height="29.45" fill="#083a79" shape-rendering="crispEdges"/>
<rect x="1665.5" y="189.50" width="20.0" height="29.45" fill="#08306b" shape-rendering="crispEdges"/>
<rect x="1665.5" y="189.5" width="20.0" height="750.0" fill="none" stroke="#000" stroke-width="1"/>
<path d="M1685.5 939.5 h5" stroke="#000" stroke-width="1"/>
<text x="1694.5" y="944.7" font-size="13.9">0</text>
<path d="M1685.5 795.3 h5" stroke="#000" stroke-width="1"/>
<text x="1694.5" y="800.5" font-size="13.9">10</text>
<path d="M1685.5 651.0 h5" stroke="#000" stroke-width="1"/>
<text x="1694.5" y="656.2" font-size="13.9">20</text>
<path d="M1685.5 506.8 h5" stroke="#000" stroke-width="1"/>
<text x="1694.5" y="512.0" font-size="13.9">30</text>
<path d="M1685.5 362.6 h5" stroke="#000" stroke-width="1"/>
<text x="1694.5" y="367.8" font-size="13.9">40</text>
<path d="M1685.5 218.3 h5" stroke="#000" stroke-width="1"/>
<text x="1694.5" y="223.5" font-size="13.9">50</text>
<text class="b" transform="translate(1738,624) rotate(-90)" font-size="19.4" text-anchor="middle">Named cyclones forecast - Number of EPS within 120km</text>
<rect x="1274.5" y="874.5" width="339" height="169" rx="4" ry="4" fill="#fff" stroke="#000" stroke-width="1.4"/>
<path d="M1281 887.5 H1315" stroke="#808080" stroke-width="1.2"/>
<text x="1327" y="893.0" font-size="16.67">No Interception</text>
<path d="M1281 910.9 H1315" stroke="#ff4500" stroke-width="1.2"/>
<text x="1327" y="916.4" font-size="16.67">Interception from Named cyclone</text>
<path d="M1281 934.2 H1315" stroke="#808000" stroke-width="1.2"/>
<text x="1327" y="939.7" font-size="16.67">Interception from Trochoid</text>
<path d="M1281 957.5 H1315" stroke="#008000" stroke-width="1.2"/>
<text x="1327" y="963.0" font-size="16.67">Interception from both</text>
<path d="M1279 980.9 H1316" stroke="#800080" stroke-width="4.2"/>
<text x="1327" y="986.4" font-size="16.67">HRES</text>
<path d="M1279 1004.2 H1316" stroke="#000" stroke-width="4.2"/>
<text x="1327" y="1009.8" font-size="16.67">Analysis | 232h duration</text>
<text class="b" x="1298.3" y="1034.8" font-size="17.5" text-anchor="middle" stroke="#000" stroke-width="0.8">&#8634;</text>
<text x="1327" y="1033.1" font-size="16.67">TC obs. for analysis duration</text>
<text class="b" x="865" y="1121" font-size="16.67" text-anchor="middle">Percentage of flying ballons within a TC as a function of flight time</text>
<rect x="25.50" y="1137.5" width="41.60" height="41.0" fill="#9e0142" shape-rendering="crispEdges"/>
<rect x="66.50" y="1137.5" width="41.60" height="41.0" fill="#9e0142" shape-rendering="crispEdges"/>
<rect x="107.50" y="1137.5" width="41.60" height="41.0" fill="#9e0142" shape-rendering="crispEdges"/>
<rect x="148.50" y="1137.5" width="41.60" height="41.0" fill="#9e0142" shape-rendering="crispEdges"/>
<rect x="189.50" y="1137.5" width="41.60" height="41.0" fill="#9e0142" shape-rendering="crispEdges"/>
<rect x="230.50" y="1137.5" width="41.60" height="41.0" fill="#9e0142" shape-rendering="crispEdges"/>
<rect x="271.50" y="1137.5" width="41.60" height="41.0" fill="#9e0142" shape-rendering="crispEdges"/>
<rect x="312.50" y="1137.5" width="41.60" height="41.0" fill="#9e0142" shape-rendering="crispEdges"/>
<rect x="353.50" y="1137.5" width="41.60" height="41.0" fill="#9e0142" shape-rendering="crispEdges"/>
<rect x="394.50" y="1137.5" width="41.60" height="41.0" fill="#9e0142" shape-rendering="crispEdges"/>
<rect x="435.50" y="1137.5" width="41.60" height="41.0" fill="#9e0142" shape-rendering="crispEdges"/>
<rect x="476.50" y="1137.5" width="41.60" height="41.0" fill="#9e0142" shape-rendering="crispEdges"/>
<rect x="517.50" y="1137.5" width="41.60" height="41.0" fill="#9e0142" shape-rendering="crispEdges"/>
<rect x="558.50" y="1137.5" width="41.60" height="41.0" fill="#9e0142" shape-rendering="crispEdges"/>
<rect x="599.50" y="1137.5" width="41.60" height="41.0" fill="#9e0142" shape-rendering="crispEdges"/>
<rect x="640.50" y="1137.5" width="41.60" height="41.0" fill="#9e0142" shape-rendering="crispEdges"/>
<rect x="681.50" y="1137.5" width="41.60" height="41.0" fill="#9e0142" shape-rendering="crispEdges"/>
<rect x="722.50" y="1137.5" width="41.60" height="41.0" fill="#a90d45" shape-rendering="crispEdges"/>
<text class="b" x="743.0" y="1162.3" font-size="13.9" text-anchor="middle">2</text>
<rect x="763.50" y="1137.5" width="41.60" height="41.0" fill="#a90d45" shape-rendering="crispEdges"/>
<text class="b" x="784.0" y="1162.3" font-size="13.9" text-anchor="middle">2</text>
<rect x="804.50" y="1137.5" width="41.60" height="41.0" fill="#a90d45" shape-rendering="crispEdges"/>
<text class="b" x="825.0" y="1162.3" font-size="13.9" text-anchor="middle">2</text>
<rect x="845.50" y="1137.5" width="41.60" height="41.0" fill="#a90d45" shape-rendering="crispEdges"/>
<text class="b" x="866.0" y="1162.3" font-size="13.9" text-anchor="middle">2</text>
<rect x="886.50" y="1137.5" width="41.60" height="41.0" fill="#a90d45" shape-rendering="crispEdges"/>
<text class="b" x="907.0" y="1162.3" font-size="13.9" text-anchor="middle">2</text>
<rect x="927.50" y="1137.5" width="41.60" height="41.0" fill="#a90d45" shape-rendering="crispEdges"/>
<text class="b" x="948.0" y="1162.3" font-size="13.9" text-anchor="middle">2</text>
<rect x="968.50" y="1137.5" width="41.60" height="41.0" fill="#a90d45" shape-rendering="crispEdges"/>
<text class="b" x="989.0" y="1162.3" font-size="13.9" text-anchor="middle">2</text>
<rect x="1009.50" y="1137.5" width="41.60" height="41.0" fill="#a90d45" shape-rendering="crispEdges"/>
<text class="b" x="1030.0" y="1162.3" font-size="13.9" text-anchor="middle">2</text>
<rect x="1050.50" y="1137.5" width="41.60" height="41.0" fill="#a90d45" shape-rendering="crispEdges"/>
<text class="b" x="1071.0" y="1162.3" font-size="13.9" text-anchor="middle">2</text>
<rect x="1091.50" y="1137.5" width="41.60" height="41.0" fill="#a90d45" shape-rendering="crispEdges"/>
<text class="b" x="1112.0" y="1162.3" font-size="13.9" text-anchor="middle">2</text>
<rect x="1132.50" y="1137.5" width="41.60" height="41.0" fill="#a90d45" shape-rendering="crispEdges"/>
<text class="b" x="1153.0" y="1162.3" font-size="13.9" text-anchor="middle">2</text>
<rect x="1173.50" y="1137.5" width="41.60" height="41.0" fill="#a90d45" shape-rendering="crispEdges"/>
<text class="b" x="1194.0" y="1162.3" font-size="13.9" text-anchor="middle">2</text>
<rect x="1214.50" y="1137.5" width="41.60" height="41.0" fill="#a90d45" shape-rendering="crispEdges"/>
<text class="b" x="1235.0" y="1162.3" font-size="13.9" text-anchor="middle">2</text>
<rect x="1255.50" y="1137.5" width="41.60" height="41.0" fill="#a90d45" shape-rendering="crispEdges"/>
<text class="b" x="1276.0" y="1162.3" font-size="13.9" text-anchor="middle">2</text>
<rect x="1296.50" y="1137.5" width="41.60" height="41.0" fill="#a90d45" shape-rendering="crispEdges"/>
<text class="b" x="1317.0" y="1162.3" font-size="13.9" text-anchor="middle">2</text>
<rect x="1337.50" y="1137.5" width="41.60" height="41.0" fill="#a90d45" shape-rendering="crispEdges"/>
<text class="b" x="1358.0" y="1162.3" font-size="13.9" text-anchor="middle">2</text>
<rect x="1378.50" y="1137.5" width="41.60" height="41.0" fill="#b41947" shape-rendering="crispEdges"/>
<text class="b" x="1399.0" y="1162.3" font-size="13.9" text-anchor="middle">4</text>
<rect x="1419.50" y="1137.5" width="41.60" height="41.0" fill="#c9314c" shape-rendering="crispEdges"/>
<text class="b" x="1440.0" y="1162.3" font-size="13.9" text-anchor="middle">8</text>
<rect x="1460.50" y="1137.5" width="41.60" height="41.0" fill="#da464d" shape-rendering="crispEdges"/>
<text class="b" x="1481.0" y="1162.3" font-size="13.9" text-anchor="middle">12</text>
<rect x="1501.50" y="1137.5" width="41.60" height="41.0" fill="#e1504b" shape-rendering="crispEdges"/>
<text class="b" x="1522.0" y="1162.3" font-size="13.9" text-anchor="middle">14</text>
<rect x="1542.50" y="1137.5" width="41.60" height="41.0" fill="#e75948" shape-rendering="crispEdges"/>
<text class="b" x="1563.0" y="1162.3" font-size="13.9" text-anchor="middle">16</text>
<rect x="1583.50" y="1137.5" width="41.60" height="41.0" fill="#ee6445" shape-rendering="crispEdges"/>
<text class="b" x="1604.0" y="1162.3" font-size="13.9" text-anchor="middle">18</text>
<rect x="1624.50" y="1137.5" width="41.60" height="41.0" fill="#f46d43" shape-rendering="crispEdges"/>
<text class="b" x="1645.0" y="1162.3" font-size="13.9" text-anchor="middle">20</text>
<rect x="25.5" y="1137.5" width="1640.0" height="41.0" fill="none" stroke="#000" stroke-width="1"/>
<circle cx="1522.0" cy="1158.0" r="20" fill="none" stroke="#000" stroke-width="1.2"/>
<path d="M25.5 1158.0 h-5" stroke="#000" stroke-width="1"/>
<path d="M25.5 1178.5 v5" stroke="#000" stroke-width="1"/>
<text class="b" x="25.5" y="1199.4" font-size="16.67" text-anchor="middle">0h</text>
<path d="M66.5 1178.5 v2.9" stroke="#000" stroke-width="0.9"/>
<path d="M107.5 1178.5 v2.9" stroke="#000" stroke-width="0.9"/>
<path d="M148.5 1178.5 v2.9" stroke="#000" stroke-width="0.9"/>
<path d="M189.5 1178.5 v5" stroke="#000" stroke-width="1"/>
<text class="b" x="189.5" y="1199.4" font-size="16.67" text-anchor="middle">12h</text>
<path d="M230.5 1178.5 v2.9" stroke="#000" stroke-width="0.9"/>
<path d="M271.5 1178.5 v2.9" stroke="#000" stroke-width="0.9"/>
<path d="M312.5 1178.5 v2.9" stroke="#000" stroke-width="0.9"/>
<path d="M353.5 1178.5 v5" stroke="#000" stroke-width="1"/>
<text class="b" x="353.5" y="1199.4" font-size="16.67" text-anchor="middle">24h</text>
<path d="M394.5 1178.5 v2.9" stroke="#000" stroke-width="0.9"/>
<path d="M435.5 1178.5 v2.9" stroke="#000" stroke-width="0.9"/>
<path d="M476.5 1178.5 v2.9" stroke="#000" stroke-width="0.9"/>
<path d="M517.5 1178.5 v5" stroke="#000" stroke-width="1"/>
<text class="b" x="517.5" y="1199.4" font-size="16.67" text-anchor="middle">36h</text>
<path d="M558.5 1178.5 v2.9" stroke="#000" stroke-width="0.9"/>
<path d="M599.5 1178.5 v2.9" stroke="#000" stroke-width="0.9"/>
<path d="M640.5 1178.5 v2.9" stroke="#000" stroke-width="0.9"/>
<path d="M681.5 1178.5 v5" stroke="#000" stroke-width="1"/>
<text class="b" x="681.5" y="1199.4" font-size="16.67" text-anchor="middle">48h</text>
<path d="M722.5 1178.5 v2.9" stroke="#000" stroke-width="0.9"/>
<path d="M763.5 1178.5 v2.9" stroke="#000" stroke-width="0.9"/>
<path d="M804.5 1178.5 v2.9" stroke="#000" stroke-width="0.9"/>
<path d="M845.5 1178.5 v5" stroke="#000" stroke-width="1"/>
<text class="b" x="845.5" y="1199.4" font-size="16.67" text-anchor="middle">60h</text>
<path d="M886.5 1178.5 v2.9" stroke="#000" stroke-width="0.9"/>
<path d="M927.5 1178.5 v2.9" stroke="#000" stroke-width="0.9"/>
<path d="M968.5 1178.5 v2.9" stroke="#000" stroke-width="0.9"/>
<path d="M1009.5 1178.5 v5" stroke="#000" stroke-width="1"/>
<text class="b" x="1009.5" y="1199.4" font-size="16.67" text-anchor="middle">72h</text>
<path d="M1050.5 1178.5 v2.9" stroke="#000" stroke-width="0.9"/>
<path d="M1091.5 1178.5 v2.9" stroke="#000" stroke-width="0.9"/>
<path d="M1132.5 1178.5 v2.9" stroke="#000" stroke-width="0.9"/>
<path d="M1173.5 1178.5 v5" stroke="#000" stroke-width="1"/>
<text class="b" x="1173.5" y="1199.4" font-size="16.67" text-anchor="middle">84h</text>
<path d="M1214.5 1178.5 v2.9" stroke="#000" stroke-width="0.9"/>
<path d="M1255.5 1178.5 v2.9" stroke="#000" stroke-width="0.9"/>
<path d="M1296.5 1178.5 v2.9" stroke="#000" stroke-width="0.9"/>
<path d="M1337.5 1178.5 v5" stroke="#000" stroke-width="1"/>
<text class="b" x="1337.5" y="1199.4" font-size="16.67" text-anchor="middle">96h</text>
<path d="M1378.5 1178.5 v2.9" stroke="#000" stroke-width="0.9"/>
<path d="M1419.5 1178.5 v2.9" stroke="#000" stroke-width="0.9"/>
<path d="M1460.5 1178.5 v2.9" stroke="#000" stroke-width="0.9"/>
<path d="M1501.5 1178.5 v5" stroke="#000" stroke-width="1"/>
<text class="b" x="1501.5" y="1199.4" font-size="16.67" text-anchor="middle">108h</text>
<path d="M1542.5 1178.5 v2.9" stroke="#000" stroke-width="0.9"/>
<path d="M1583.5 1178.5 v2.9" stroke="#000" stroke-width="0.9"/>
<path d="M1624.5 1178.5 v2.9" stroke="#000" stroke-width="0.9"/>
<path d="M1665.5 1178.5 v5" stroke="#000" stroke-width="1"/>
<text class="b" x="1665.5" y="1199.4" font-size="16.67" text-anchor="middle">120h</text>
</svg></body></html>
